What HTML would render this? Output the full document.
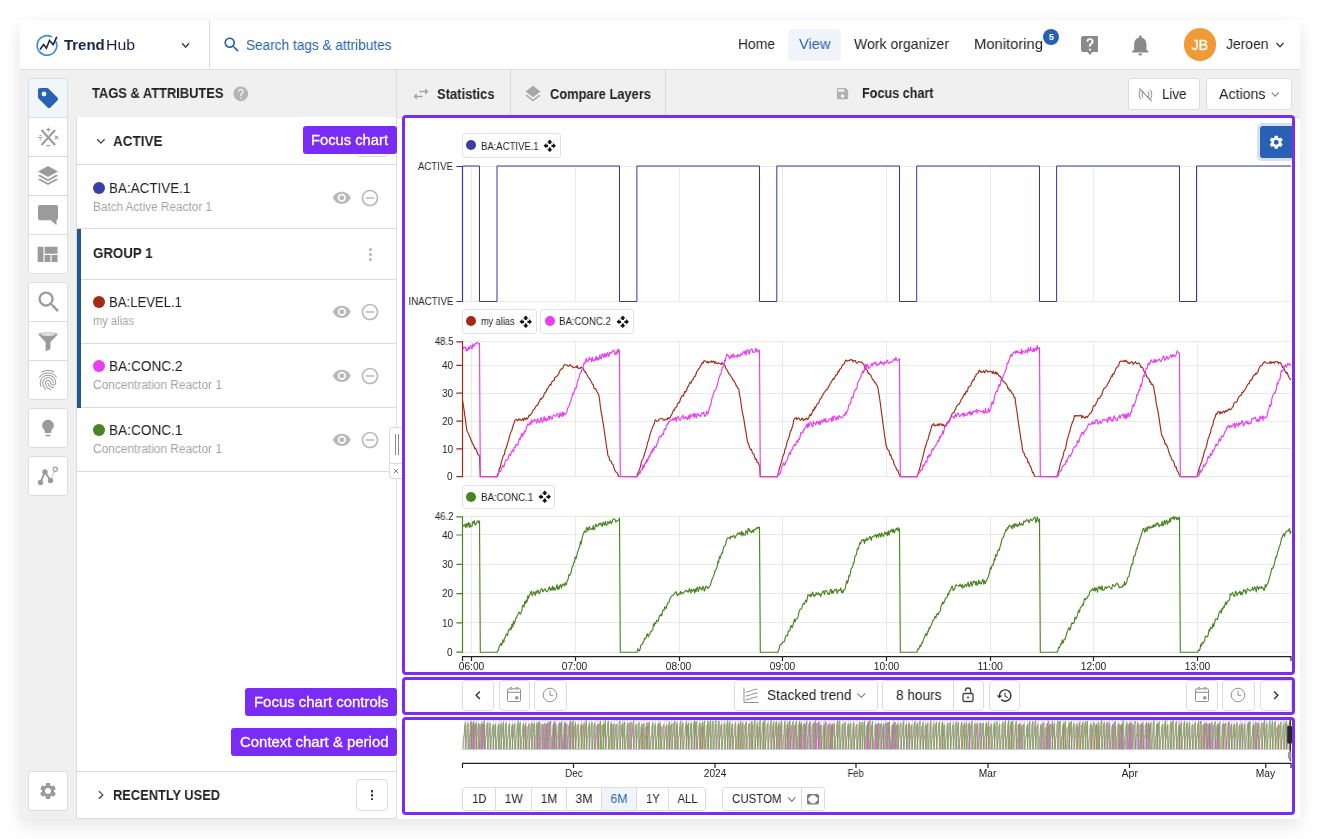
<!DOCTYPE html><html><head><meta charset="utf-8"><title>TrendHub</title><style>
html,body{margin:0;padding:0;}
body{width:1320px;height:839px;background:#fff;position:relative;overflow:hidden;
font-family:"Liberation Sans",sans-serif;color:#222;}
div,span.t,svg.i{position:absolute;box-sizing:border-box;}
span.t{white-space:nowrap;will-change:transform;}
.app{left:20px;top:20px;width:1280px;height:799px;background:#f0f0f0;
box-shadow:0 10px 18px rgba(0,0,0,0.07),0 0 16px rgba(0,0,0,0.04);}
.btn{background:#fff;border:1px solid #dcdcdc;border-radius:3px;}
.pl{background:#7a2bf5;border-radius:3px;}
.pb{border:3px solid #7a2bf5;border-radius:4px;}
.chip{background:#fff;border:1px solid #e2e2e2;border-radius:3px;}
</style></head><body>
<div class="app"></div>
<div style="left:20px;top:20px;width:1280px;height:50px;background:#fff;border-bottom:1px solid #dcdcdc;"></div>
<div style="left:209px;top:20px;width:1px;height:49px;background:#dcdcdc;"></div>
<svg class="i" style="left:33.800px;top:32.400px" width="26" height="26" viewBox="0 0 26 26" fill="none"><path d="M22 9.600A9.800 9.800 0 1 1 17.400 4.700" stroke="#3a8fd6" stroke-width="1.700" stroke-linecap="round"/><path d="M6 17.500l3.600-5 2.800 3.700 3.100-7.700 3.700 4 3.600-7.700" stroke="#1a2250" stroke-width="1.600" stroke-linejoin="miter" stroke-linecap="butt"/></svg>
<span class="t" style="left:64.30px;top:37px;font-size:14px;line-height:16px;color:#1a2250;font-weight:700;transform:scaleX(1.0677);transform-origin:left center;">Trend</span>
<span class="t" style="left:106.40px;top:37px;font-size:14px;line-height:16px;color:#1a2250;transform:scaleX(1.1330);transform-origin:left center;">Hub</span>
<svg class="i" style="left:0;top:0" width="1320" height="839" viewBox="0 0 1320 839" fill="none"><path d="M182.10 43.30L185.60 47.10L189.10 43.30" stroke="#444" stroke-width="1.5"/></svg>
<svg class="i" style="left:222px;top:35.2px" width="19.5" height="19.5" viewBox="0 0 24 24" fill="#2860b4" ><path d="M15.5 14h-.79l-.28-.27C15.41 12.59 16 11.11 16 9.5 16 5.91 13.09 3 9.5 3S3 5.91 3 9.5 5.91 16 9.5 16c1.61 0 3.09-.59 4.23-1.57l.27.28v.79l5 4.99L20.49 19l-4.99-5zm-6 0C7.01 14 5 11.99 5 9.5S7.01 5 9.5 5 14 7.01 14 9.5 11.99 14 9.5 14z"/></svg>
<span class="t" style="left:246.00px;top:37px;font-size:14px;line-height:16px;color:#2860b4;transform:scaleX(0.9738);transform-origin:left center;">Search tags &amp; attributes</span>
<span class="t" style="left:738.00px;top:35px;font-size:15px;line-height:17px;color:#222;transform:scaleX(0.9247);transform-origin:left center;">Home</span>
<div style="left:788px;top:28.5px;width:53px;height:32.5px;background:#f1f5fb;border-radius:4px;"></div>
<span class="t" style="left:798.50px;top:35px;font-size:15px;line-height:17px;color:#2860b4;transform:scaleX(0.9770);transform-origin:left center;">View</span>
<span class="t" style="left:854.00px;top:35px;font-size:15px;line-height:17px;color:#222;transform:scaleX(0.9366);transform-origin:left center;">Work organizer</span>
<span class="t" style="left:974.00px;top:35px;font-size:15px;line-height:17px;color:#222;transform:scaleX(0.9852);transform-origin:left center;">Monitoring</span>
<div style="left:1043px;top:28.5px;width:16px;height:16px;background:#2860b4;border-radius:50%;"></div>
<span class="t" style="left:1048.50px;top:32px;font-size:9px;line-height:10px;color:#fff;font-weight:700;">5</span>
<svg class="i" style="left:1080.500px;top:35.500px" width="17.800" height="19.600" viewBox="0 0 20 22"><path fill="#8a8a8a" d="M2.500 0h15A2.500 2.500 0 0 1 20 2.500v13A2.500 2.500 0 0 1 17.500 18H12.800L10 21.300 7.200 18H2.500A2.500 2.500 0 0 1 0 15.500v-13A2.500 2.500 0 0 1 2.500 0z"/><path fill="#fff" d="M8.900 14.200h2.300v2.200H8.900zM10.100 2.600c-2.300 0-3.900 1.300-4.100 3.500l2.200.3c.1-1.100.8-1.800 1.900-1.800 1 0 1.700.6 1.700 1.500 0 .8-.4 1.300-1.300 2-1.200.9-1.700 1.700-1.700 3.200v.6h2.300v-.4c0-.9.3-1.400 1.300-2.100 1.200-.9 1.800-1.900 1.800-3.300 0-2.100-1.700-3.500-4.100-3.500z"/></svg>
<svg class="i" style="left:1128.4px;top:33.4px" width="24.6" height="24.6" viewBox="0 0 24 24" fill="#8a8a8a" ><path d="M12 22c1.1 0 2-.9 2-2h-4c0 1.1.89 2 2 2zm6-6v-5c0-3.07-1.64-5.64-4.5-6.32V4c0-.83-.67-1.5-1.5-1.5s-1.5.67-1.5 1.5v.68C7.63 5.36 6 7.92 6 11v5l-2 2v1h16v-1l-2-2z"/></svg>
<div style="left:1183.7px;top:28px;width:32.6px;height:32.6px;background:#f09a37;border-radius:50%;"></div>
<span class="t" style="left:1191.25px;top:36px;font-size:15px;line-height:17px;color:#fff;transform:scaleX(0.9426);transform-origin:center center;-webkit-text-stroke:0.3px #fff;">JB</span>
<span class="t" style="left:1226.00px;top:35px;font-size:15px;line-height:17px;color:#222;transform:scaleX(0.9266);transform-origin:left center;">Jeroen</span>
<svg class="i" style="left:0;top:0" width="1320" height="839" viewBox="0 0 1320 839" fill="none"><path d="M1276.50 42.90L1280.00 46.70L1283.50 42.90" stroke="#444" stroke-width="1.5"/></svg>
<div style="left:28px;top:78px;width:40px;height:40px;background:#f1f6fb;border:1px solid #dcdcdc;border-radius:3px 3px 0 0;"></div>
<div style="left:28px;top:117px;width:40px;height:40px;background:#fff;border:1px solid #dcdcdc;border-radius:0 0 0 0;"></div>
<div style="left:28px;top:156px;width:40px;height:40px;background:#fff;border:1px solid #dcdcdc;border-radius:0 0 0 0;"></div>
<div style="left:28px;top:195px;width:40px;height:40px;background:#fff;border:1px solid #dcdcdc;border-radius:0 0 0 0;"></div>
<div style="left:28px;top:234px;width:40px;height:40px;background:#fff;border:1px solid #dcdcdc;border-radius:0 0 3px 3px;"></div>
<svg class="i" style="left:36px;top:86px" width="24" height="24" viewBox="0 0 24 24" fill="#2860b4" fill-rule="evenodd"><path d="M21.41 11.58l-9-9C12.05 2.22 11.55 2 11 2H4c-1.1 0-2 .9-2 2v7c0 .55.22 1.05.59 1.42l9 9c.36.36.86.58 1.41.58s1.050-.22 1.41-.59l7-7c.37-.36.59-.86.59-1.41s-.23-1.06-.59-1.42zM8 10.400a2.400 2.400 0 1 1 0-4.800 2.400 2.400 0 0 1 0 4.800z"/></svg>
<svg class="i" style="left:36px;top:125px" width="24" height="24" viewBox="0 0 24 24" fill="none" stroke="#9b9b9b" stroke-linecap="round"><path d="M6 5.500l12.600 14M18.600 5.500L6 19.500" stroke-width="2"/><path d="M12.300 3v3.200M10.700 4.600h3.200M10.700 20.600h3.200M2.600 12.500h3.200M19.400 11.200l2.400 2.600M21.800 11.200l-2.400 2.600" stroke-width="1.200"/><circle cx="4.200" cy="10.600" r=".4" stroke-width=".9"/><circle cx="4.200" cy="14.400" r=".4" stroke-width=".9"/></svg>
<svg class="i" style="left:36px;top:163.2px" width="24" height="24" viewBox="0 0 24 24" fill="#9b9b9b" ><path d="M12 3L22 8.500 12 14 2 8.500zM3.800 11.800L2 12.800 12 18.300 22 12.800 20.200 11.800 12 16.300zM3.800 15.600L2 16.600 12 22.100 22 16.600 20.200 15.600 12 20.100z"/></svg>
<svg class="i" style="left:36px;top:202px" width="24" height="24" viewBox="0 0 24 24" fill="#9b9b9b" ><path d="M4 3h16a2 2 0 0 1 2 2v11.300a2 2 0 0 1-2 2h.500v5l-5.700-5H4a2 2 0 0 1-2-2V5a2 2 0 0 1 2-2z"/></svg>
<svg class="i" style="left:33.3px;top:241px" width="28" height="28" viewBox="0 0 24 24" fill="#9b9b9b" ><path d="M10 18h5v-6h-5v6zm-6 0h5V5H4v13zm12 0h5v-6h-5v6zM10 5v6h11V5H10z"/></svg>
<div style="left:28px;top:282px;width:40px;height:40px;background:#fff;border:1px solid #dcdcdc;border-radius:3px 3px 0 0;"></div>
<div style="left:28px;top:321px;width:40px;height:40px;background:#fff;border:1px solid #dcdcdc;border-radius:0 0 0 0;"></div>
<div style="left:28px;top:360px;width:40px;height:40px;background:#fff;border:1px solid #dcdcdc;border-radius:0 0 3px 3px;"></div>
<svg class="i" style="left:35px;top:288px" width="28" height="28" viewBox="0 0 24 24" fill="#9b9b9b" ><path d="M15.5 14h-.79l-.28-.27C15.41 12.59 16 11.11 16 9.5 16 5.91 13.09 3 9.5 3S3 5.91 3 9.5 5.91 16 9.5 16c1.61 0 3.09-.59 4.23-1.57l.27.28v.79l5 4.99L20.49 19l-4.99-5zm-6 0C7.01 14 5 11.99 5 9.5S7.01 5 9.5 5 14 7.01 14 9.5 11.99 14 9.5 14z"/></svg>
<svg class="i" style="left:36px;top:329px" width="24" height="24" viewBox="0 0 22 22" fill="#9b9b9b"><path d="M2.2 4.600C2.200 2.600 19.800 2.600 19.800 4.600 19.800 5.800 13.200 11.600 13.200 12.600V18.600L8.800 20.400V12.600C8.800 11.600 2.200 5.800 2.200 4.600Z"/><ellipse cx="11" cy="4.900" rx="6.800" ry="1.500" fill="#fff" fill-opacity=".7"/></svg>
<svg class="i" style="left:36px;top:367.5px" width="24" height="24" viewBox="0 0 24 24" fill="#9b9b9b" ><path d="M17.81 4.47c-.08 0-.16-.02-.23-.06C15.66 3.42 14 3 12.01 3c-1.98 0-3.86.47-5.57 1.41-.24.13-.54.04-.68-.2-.13-.24-.04-.55.2-.68C7.82 2.52 9.86 2 12.01 2c2.13 0 3.99.47 6.03 1.52.25.13.34.43.21.67-.09.18-.26.28-.44.28zM3.5 9.72c-.1 0-.2-.03-.29-.09-.23-.16-.28-.47-.12-.7.99-1.4 2.25-2.5 3.75-3.27C9.98 4.04 14 4.03 17.15 5.65c1.5.77 2.76 1.86 3.75 3.25.16.22.11.54-.12.7-.23.16-.54.11-.7-.12-.9-1.26-2.04-2.25-3.39-2.94-2.87-1.47-6.54-1.47-9.4.01-1.36.7-2.5 1.7-3.4 2.96-.08.14-.23.21-.39.21zm6.25 12.07c-.13 0-.26-.05-.35-.15-.87-.87-1.34-1.43-2.01-2.64-.69-1.23-1.05-2.73-1.05-4.34 0-2.97 2.54-5.39 5.66-5.39s5.66 2.42 5.66 5.39c0 .28-.22.5-.5.5s-.5-.22-.5-.5c0-2.42-2.09-4.39-4.66-4.39-2.57 0-4.66 1.97-4.66 4.39 0 1.44.32 2.77.93 3.85.64 1.15 1.08 1.64 1.85 2.42.19.2.19.51 0 .71-.11.1-.24.15-.37.15zm7.17-1.85c-1.19 0-2.24-.3-3.1-.89-1.49-1.01-2.38-2.65-2.38-4.39 0-.28.22-.5.5-.5s.5.22.5.5c0 1.41.72 2.74 1.94 3.56.71.48 1.54.71 2.54.71.24 0 .64-.03 1.04-.1.27-.05.53.13.58.41.05.27-.13.53-.41.58-.57.11-1.07.12-1.21.12zM14.91 22c-.04 0-.09-.01-.13-.02-1.59-.44-2.63-1.03-3.72-2.1-1.4-1.39-2.17-3.24-2.17-5.22 0-1.62 1.38-2.94 3.08-2.94 1.7 0 3.08 1.32 3.08 2.94 0 1.07.93 1.94 2.08 1.94s2.08-.87 2.08-1.94c0-3.77-3.25-6.83-7.25-6.83-2.84 0-5.44 1.58-6.61 4.03-.39.81-.59 1.76-.59 2.8 0 .78.07 2.01.67 3.61.1.26-.03.55-.29.64-.26.1-.55-.04-.64-.29-.49-1.31-.73-2.61-.73-3.96 0-1.2.23-2.29.68-3.24 1.33-2.79 4.28-4.6 7.51-4.6 4.55 0 8.25 3.51 8.25 7.83 0 1.62-1.38 2.94-3.08 2.94s-3.08-1.32-3.08-2.94c0-1.07-.93-1.94-2.08-1.94s-2.08.87-2.08 1.94c0 1.71.66 3.31 1.87 4.51.95.94 1.86 1.46 3.27 1.85.27.07.42.35.35.61-.05.23-.26.38-.47.38z"/></svg>
<div style="left:28px;top:408px;width:40px;height:40px;background:#fff;border:1px solid #dcdcdc;border-radius:3px 3px 3px 3px;"></div>
<svg class="i" style="left:38px;top:418px" width="20" height="20" viewBox="0 0 24 24" fill="#9b9b9b" ><path d="M9 21c0 .55.45 1 1 1h4c.55 0 1-.45 1-1v-1H9v1zm3-19C8.14 2 5 5.14 5 9c0 2.38 1.19 4.47 3 5.74V17c0 .55.45 1 1 1h6c.55 0 1-.45 1-1v-2.26c1.81-1.27 3-3.36 3-5.74 0-3.86-3.14-7-7-7z"/></svg>
<div style="left:28px;top:456px;width:40px;height:40px;background:#fff;border:1px solid #dcdcdc;border-radius:3px 3px 3px 3px;"></div>
<svg class="i" style="left:36px;top:464px" width="24" height="24" viewBox="0 0 24 24" fill="#9b9b9b"><path d="M4.500 18.500L9 8l5.500 8.500" stroke="#9b9b9b" stroke-width="1.800" fill="none"/><circle cx="4.500" cy="18.500" r="2.700"/><circle cx="9" cy="8" r="2.700"/><circle cx="14.500" cy="16.500" r="2.700"/><circle cx="19.300" cy="5.200" r="2.100" fill="none" stroke="#9b9b9b" stroke-width="1.200"/><path d="M15.600 13.800l2.600-6.400" stroke="#9b9b9b" stroke-width="1" stroke-dasharray="1.300 1.300" fill="none"/></svg>
<div style="left:28px;top:771px;width:40px;height:40px;background:#fff;border:1px solid #dcdcdc;border-radius:3px 3px 3px 3px;"></div>
<svg class="i" style="left:38px;top:781px" width="20" height="20" viewBox="0 0 24 24" fill="#9b9b9b" ><path d="M19.14 12.94c.04-.3.06-.61.06-.94 0-.32-.02-.64-.07-.94l2.03-1.58c.18-.14.23-.41.12-.61l-1.92-3.32c-.12-.22-.37-.29-.59-.22l-2.39.96c-.5-.38-1.03-.7-1.62-.94l-.36-2.54c-.04-.24-.24-.41-.48-.41h-3.84c-.24 0-.43.17-.47.41l-.36 2.54c-.59.24-1.13.57-1.62.94l-2.39-.96c-.22-.08-.47 0-.59.22L2.74 8.87c-.12.21-.08.47.12.61l2.03 1.58c-.05.3-.09.63-.09.94s.02.64.07.94l-2.03 1.58c-.18.14-.23.41-.12.61l1.92 3.32c.12.22.37.29.59.22l2.39-.96c.5.38 1.03.7 1.62.94l.36 2.54c.05.24.24.41.48.41h3.84c.24 0 .44-.17.47-.41l.36-2.54c.59-.24 1.13-.56 1.62-.94l2.39.96c.22.08.47 0 .59-.22l1.92-3.32c.12-.22.07-.47-.12-.61l-2.01-1.58zM12 15.6c-1.98 0-3.6-1.62-3.6-3.6s1.62-3.6 3.6-3.6 3.6 1.62 3.6 3.6-1.62 3.6-3.6 3.6z"/></svg>
<span class="t" style="left:92.00px;top:84px;font-size:15px;line-height:17px;color:#222;font-weight:700;transform:scaleX(0.8592);transform-origin:left center;">TAGS &amp; ATTRIBUTES</span>
<svg class="i" style="left:232.3px;top:84.9px" width="17.6" height="17.6" viewBox="0 0 24 24" fill="#b4b4b4" ><path d="M12 2C6.48 2 2 6.48 2 12s4.48 10 10 10 10-4.48 10-10S17.52 2 12 2zm1 17h-2v-2h2v2zm2.07-7.75l-.9.92C13.45 12.9 13 13.5 13 15h-2v-.5c0-1.1.45-2.1 1.17-2.83l1.24-1.26c.37-.36.59-.86.59-1.41 0-1.1-.9-2-2-2s-2 .9-2 2H8c0-2.21 1.79-4 4-4s4 1.79 4 4c0 .88-.36 1.68-.93 2.25z"/></svg>
<div style="left:76px;top:117px;width:321px;height:702px;background:#fff;border:1px solid #dcdcdc;border-top:none;"></div>
<div style="left:77px;top:163.5px;width:319px;height:1px;background:#dcdcdc;"></div>
<div style="left:77px;top:228px;width:319px;height:1px;background:#dcdcdc;"></div>
<div style="left:77px;top:279px;width:319px;height:1px;background:#dcdcdc;"></div>
<div style="left:77px;top:343px;width:319px;height:1px;background:#dcdcdc;"></div>
<div style="left:77px;top:407px;width:319px;height:1px;background:#dcdcdc;"></div>
<div style="left:77px;top:471px;width:319px;height:1px;background:#dcdcdc;"></div>
<div style="left:77px;top:228.5px;width:4px;height:179px;background:#23588c;"></div>
<svg class="i" style="left:0;top:0" width="1320" height="839" viewBox="0 0 1320 839" fill="none"><path d="M97.20 139.25L100.90 143.15L104.60 139.25" stroke="#444" stroke-width="1.3"/></svg>
<span class="t" style="left:113.00px;top:132px;font-size:15px;line-height:17px;color:#222;font-weight:700;transform:scaleX(0.8999);transform-origin:left center;">ACTIVE</span>
<div style="left:356px;top:128px;width:32px;height:29px;background:#fff;border:1px solid #dcdcdc;border-radius:3px;"></div>
<div style="left:93px;top:182px;width:12px;height:12px;background:#3a3fa8;border-radius:50%;"></div>
<span class="t" style="left:109.00px;top:179px;font-size:15px;line-height:17px;color:#222;transform:scaleX(0.8969);transform-origin:left center;">BA:ACTIVE.1</span>
<span class="t" style="left:93.00px;top:200px;font-size:12px;line-height:14px;color:#a3a3a3;transform:scaleX(0.9803);transform-origin:left center;">Batch Active Reactor 1</span>
<svg class="i" style="left:332.1px;top:188.3px" width="19.6" height="19.6" viewBox="0 0 24 24" fill="#b9b9b9" ><path d="M12 4.5C7 4.5 2.73 7.61 1 12c1.73 4.39 6 7.5 11 7.5s9.27-3.11 11-7.5c-1.73-4.39-6-7.5-11-7.5zM12 17c-2.76 0-5-2.24-5-5s2.24-5 5-5 5 2.24 5 5-2.24 5-5 5zm0-8c-1.66 0-3 1.34-3 3s1.34 3 3 3 3-1.34 3-3-1.34-3-3-3z"/></svg>
<svg class="i" style="left:360.1px;top:188px" width="20" height="20" viewBox="0 0 24 24" fill="#b9b9b9" ><path d="M7 11v2h10v-2H7zm5-9C6.48 2 2 6.48 2 12s4.48 10 10 10 10-4.48 10-10S17.52 2 12 2zm0 18c-4.41 0-8-3.59-8-8s3.59-8 8-8 8 3.59 8 8-3.59 8-8 8z"/></svg>
<span class="t" style="left:93.00px;top:244px;font-size:15px;line-height:17px;color:#222;font-weight:700;transform:scaleX(0.8848);transform-origin:left center;">GROUP 1</span>
<svg class="i" style="left:368.500px;top:247.600px" width="3" height="13" viewBox="0 0 3 13" fill="#b4b4b4"><circle cx="1.500" cy="1.500" r="1.500"/><circle cx="1.500" cy="6.500" r="1.500"/><circle cx="1.500" cy="11.500" r="1.500"/></svg>
<div style="left:93px;top:296px;width:12px;height:12px;background:#a42a17;border-radius:50%;"></div>
<span class="t" style="left:109.00px;top:293px;font-size:15px;line-height:17px;color:#222;transform:scaleX(0.8754);transform-origin:left center;">BA:LEVEL.1</span>
<span class="t" style="left:93.00px;top:314px;font-size:12px;line-height:14px;color:#a3a3a3;transform:scaleX(0.9316);transform-origin:left center;">my alias</span>
<svg class="i" style="left:332.1px;top:302.3px" width="19.6" height="19.6" viewBox="0 0 24 24" fill="#b9b9b9" ><path d="M12 4.5C7 4.5 2.73 7.61 1 12c1.73 4.39 6 7.5 11 7.5s9.27-3.11 11-7.5c-1.73-4.39-6-7.5-11-7.5zM12 17c-2.76 0-5-2.24-5-5s2.24-5 5-5 5 2.24 5 5-2.24 5-5 5zm0-8c-1.66 0-3 1.34-3 3s1.34 3 3 3 3-1.34 3-3-1.34-3-3-3z"/></svg>
<svg class="i" style="left:360.1px;top:302px" width="20" height="20" viewBox="0 0 24 24" fill="#b9b9b9" ><path d="M7 11v2h10v-2H7zm5-9C6.48 2 2 6.48 2 12s4.48 10 10 10 10-4.48 10-10S17.52 2 12 2zm0 18c-4.41 0-8-3.59-8-8s3.59-8 8-8 8 3.59 8 8-3.59 8-8 8z"/></svg>
<div style="left:93px;top:360px;width:12px;height:12px;background:#ea3df2;border-radius:50%;"></div>
<span class="t" style="left:109.00px;top:357px;font-size:15px;line-height:17px;color:#222;transform:scaleX(0.9091);transform-origin:left center;">BA:CONC.2</span>
<span class="t" style="left:93.00px;top:378px;font-size:12px;line-height:14px;color:#a3a3a3;transform:scaleX(0.9917);transform-origin:left center;">Concentration Reactor 1</span>
<svg class="i" style="left:332.1px;top:366.3px" width="19.6" height="19.6" viewBox="0 0 24 24" fill="#b9b9b9" ><path d="M12 4.5C7 4.5 2.73 7.61 1 12c1.73 4.39 6 7.5 11 7.5s9.27-3.11 11-7.5c-1.73-4.39-6-7.5-11-7.5zM12 17c-2.76 0-5-2.24-5-5s2.24-5 5-5 5 2.24 5 5-2.24 5-5 5zm0-8c-1.66 0-3 1.34-3 3s1.34 3 3 3 3-1.34 3-3-1.34-3-3-3z"/></svg>
<svg class="i" style="left:360.1px;top:366px" width="20" height="20" viewBox="0 0 24 24" fill="#b9b9b9" ><path d="M7 11v2h10v-2H7zm5-9C6.48 2 2 6.48 2 12s4.48 10 10 10 10-4.48 10-10S17.52 2 12 2zm0 18c-4.41 0-8-3.59-8-8s3.59-8 8-8 8 3.59 8 8-3.59 8-8 8z"/></svg>
<div style="left:93px;top:424px;width:12px;height:12px;background:#4a8522;border-radius:50%;"></div>
<span class="t" style="left:109.00px;top:421px;font-size:15px;line-height:17px;color:#222;transform:scaleX(0.9091);transform-origin:left center;">BA:CONC.1</span>
<span class="t" style="left:93.00px;top:442px;font-size:12px;line-height:14px;color:#a3a3a3;transform:scaleX(0.9917);transform-origin:left center;">Concentration Reactor 1</span>
<svg class="i" style="left:332.1px;top:430.3px" width="19.6" height="19.6" viewBox="0 0 24 24" fill="#b9b9b9" ><path d="M12 4.5C7 4.5 2.73 7.61 1 12c1.73 4.39 6 7.5 11 7.5s9.27-3.11 11-7.5c-1.73-4.39-6-7.5-11-7.5zM12 17c-2.76 0-5-2.24-5-5s2.24-5 5-5 5 2.24 5 5-2.24 5-5 5zm0-8c-1.66 0-3 1.34-3 3s1.34 3 3 3 3-1.34 3-3-1.34-3-3-3z"/></svg>
<svg class="i" style="left:360.1px;top:430px" width="20" height="20" viewBox="0 0 24 24" fill="#b9b9b9" ><path d="M7 11v2h10v-2H7zm5-9C6.48 2 2 6.48 2 12s4.48 10 10 10 10-4.48 10-10S17.52 2 12 2zm0 18c-4.41 0-8-3.59-8-8s3.59-8 8-8 8 3.59 8 8-3.59 8-8 8z"/></svg>
<div style="left:77px;top:771px;width:319px;height:1px;background:#dcdcdc;"></div>
<svg class="i" style="left:0;top:0" width="1320" height="839" viewBox="0 0 1320 839" fill="none"><path d="M98.85 791.10L102.75 794.90L98.85 798.70" stroke="#444" stroke-width="1.3"/></svg>
<span class="t" style="left:113.00px;top:786px;font-size:15px;line-height:17px;color:#222;font-weight:700;transform:scaleX(0.8557);transform-origin:left center;">RECENTLY USED</span>
<div style="left:356px;top:779px;width:32px;height:32px;background:#fff;border:1px solid #dcdcdc;border-radius:4px;"></div>
<svg class="i" style="left:370.600px;top:789.700px" width="2.400" height="10.600" viewBox="0 0 2.400 10.600" fill="#333"><rect width="2.400" height="2.400" rx=".5"/><rect y="4.100" width="2.400" height="2.400" rx=".5"/><rect y="8.200" width="2.400" height="2.400" rx=".5"/></svg>
<div style="left:396px;top:70px;width:1px;height:749px;background:#dcdcdc;"></div>
<div style="left:397px;top:117px;width:903px;height:702px;background:#fff;"></div>
<div style="left:397px;top:116.5px;width:903px;height:1px;background:#dcdcdc;"></div>
<div style="left:509.5px;top:69px;width:1px;height:48px;background:#dcdcdc;"></div>
<div style="left:665px;top:69px;width:1px;height:48px;background:#dcdcdc;"></div>
<svg class="i" style="left:411px;top:84px" width="20" height="20" viewBox="0 0 24 24" fill="#a2a2a2" ><path d="M6.99 11L3 15l3.99 4v-3H14v-2H6.99v-3zM21 9l-3.99-4v3H10v2h7.01v3L21 9z"/></svg>
<span class="t" style="left:437.00px;top:86px;font-size:14.5px;line-height:16px;color:#222;font-weight:700;transform:scaleX(0.8918);transform-origin:left center;">Statistics</span>
<svg class="i" style="left:523.3px;top:83.6px" width="20" height="20" viewBox="0 0 24 24" fill="#a8a8a8" ><path d="M11.99 18.54l-7.37-5.73L3 14.07l9 7 9-7-1.63-1.27-7.38 5.74zM12 16l7.36-5.73L21 9l-9-7-9 7 1.63 1.27L12 16z"/></svg>
<span class="t" style="left:549.50px;top:86px;font-size:14.5px;line-height:16px;color:#222;font-weight:700;transform:scaleX(0.8888);transform-origin:left center;">Compare Layers</span>
<svg class="i" style="left:834.5px;top:86px" width="15" height="15" viewBox="0 0 24 24" fill="#b0b0b0" ><path d="M17 3H5c-1.11 0-2 .9-2 2v14c0 1.1.89 2 2 2h14c1.1 0 2-.9 2-2V7l-4-4zm-5 16c-1.66 0-3-1.34-3-3s1.34-3 3-3 3 1.34 3 3-1.34 3-3 3zm3-10H5V5h10v4z"/></svg>
<span class="t" style="left:862.00px;top:85px;font-size:14.5px;line-height:16px;color:#222;font-weight:700;transform:scaleX(0.8700);transform-origin:left center;">Focus chart</span>
<div style="left:1128px;top:78px;width:72px;height:31.6px;background:#fff;border:1px solid #dcdcdc;border-radius:3px;"></div>
<svg class="i" style="left:1136.500px;top:85.500px" width="17" height="17" viewBox="0 0 17 17" fill="none" stroke="#8a8a8a" stroke-width="1.100" stroke-linecap="round"><path d="M2.600 2.600l11.800 12.300"/><path d="M5.800 5.700c-1.100 1.600-1.100 4 0 5.600M3.700 3.900c-2 2.700-2 6.500 0 9.200M11.200 5.700c1.100 1.600 1.100 4 0 5.600M13.300 3.900c2 2.700 2 6.500 0 9.200" stroke-width="1"/></svg>
<span class="t" style="left:1162.00px;top:86px;font-size:14.5px;line-height:16px;color:#222;transform:scaleX(0.9210);transform-origin:left center;">Live</span>
<div style="left:1206px;top:78px;width:86px;height:31.6px;background:#fff;border:1px solid #dcdcdc;border-radius:3px;"></div>
<span class="t" style="left:1218.50px;top:86px;font-size:14.5px;line-height:16px;color:#222;transform:scaleX(0.9779);transform-origin:left center;">Actions</span>
<svg class="i" style="left:0;top:0" width="1320" height="839" viewBox="0 0 1320 839" fill="none"><path d="M1271.80 92.50L1275.20 96.10L1278.60 92.50" stroke="#888" stroke-width="1.1"/></svg>
<svg class="i" style="left:0;top:0" width="1320" height="839" viewBox="0 0 1320 839" fill="none">
<path d="M471.5 166.0V301.5M575.5 166.0V301.5M679.5 166.0V301.5M782.5 166.0V301.5M886.5 166.0V301.5M990.5 166.0V301.5M1093.5 166.0V301.5M1197.5 166.0V301.5M471.5 341.7V476.7M575.5 341.7V476.7M679.5 341.7V476.7M782.5 341.7V476.7M886.5 341.7V476.7M990.5 341.7V476.7M1093.5 341.7V476.7M1197.5 341.7V476.7M471.5 516.8V652.2M575.5 516.8V652.2M679.5 516.8V652.2M782.5 516.8V652.2M886.5 516.8V652.2M990.5 516.8V652.2M1093.5 516.8V652.2M1197.5 516.8V652.2M462.5 166.5H1291.0M462.5 301.5H1291.0M462.5 341.5H1291.0M462.5 365.5H1291.0M462.5 393.5H1291.0M462.5 421.5H1291.0M462.5 448.5H1291.0M462.5 476.5H1291.0M462.5 516.5H1291.0M462.5 534.5H1291.0M462.5 564.5H1291.0M462.5 593.5H1291.0M462.5 622.5H1291.0M462.5 652.5H1291.0" stroke="#e9e9e9" stroke-width="1"/>
<path d="M462.5 166.0H479.5V301.5H497.0V166.0H619.5V301.5H636.9V166.0H759.5V301.5H776.8V166.0H899.5V301.5H916.7V166.0H1039.5V301.5H1056.6V166.0H1179.5V301.5H1196.5V166.0H1291.0" stroke="#3438a3" stroke-width="1"/>
<path d="M462.5 400.0 L463.2 404.7 L464.0 409.4 L464.8 415.9 L465.5 419.5 L466.2 425.9 L467.0 431.0 L467.8 432.5 L468.6 433.5 L469.4 436.6 L470.1 437.2 L470.9 440.1 L471.7 441.0 L472.5 444.0 L473.3 444.2 L474.1 446.5 L474.8 448.9 L475.6 448.3 L476.4 449.9 L477.2 452.3 L477.9 454.5 L478.7 454.9 L479.5 456.0 L480.3 476.7 L497.0 476.7 L497.8 473.8 L498.6 472.8 L499.5 467.7 L500.3 467.4 L501.1 463.2 L501.9 460.3 L502.7 457.6 L503.5 455.6 L504.4 454.4 L505.2 450.1 L506.0 448.6 L506.8 446.1 L507.6 442.9 L508.5 440.7 L509.3 436.9 L510.1 434.3 L510.9 432.1 L511.7 430.8 L512.5 427.5 L513.4 424.7 L514.2 422.8 L515.0 420.0 L515.8 419.8 L516.6 419.2 L517.3 420.6 L518.1 420.3 L518.9 418.8 L519.7 419.8 L520.5 419.5 L521.2 420.5 L522.0 420.0 L522.8 418.6 L523.6 420.6 L524.4 417.9 L525.2 418.7 L525.9 419.7 L526.7 417.8 L527.5 418.8 L528.3 417.5 L529.1 415.1 L529.9 415.7 L530.7 414.7 L531.5 413.0 L532.3 412.7 L533.1 410.0 L533.9 409.8 L534.8 408.4 L535.6 407.1 L536.4 405.6 L537.2 405.5 L538.0 404.6 L538.8 402.1 L539.6 401.4 L540.4 398.6 L541.2 399.2 L542.0 397.8 L542.8 397.6 L543.6 396.0 L544.4 393.3 L545.2 392.4 L546.0 392.0 L546.8 389.1 L547.6 389.1 L548.4 387.1 L549.2 385.8 L550.1 384.4 L550.9 385.2 L551.7 382.2 L552.5 381.4 L553.3 380.6 L554.1 380.7 L554.9 377.4 L555.7 377.2 L556.5 376.3 L557.3 376.0 L558.1 374.6 L558.9 373.6 L559.7 370.8 L560.5 370.0 L561.3 368.7 L562.1 368.9 L562.9 367.9 L563.8 365.5 L564.5 364.5 L565.3 364.7 L566.1 365.0 L566.9 365.0 L567.7 365.9 L568.5 366.3 L569.3 365.4 L570.1 364.7 L570.9 366.0 L571.7 366.0 L572.5 366.7 L573.3 367.9 L574.1 367.2 L574.9 366.8 L575.7 367.2 L576.4 367.4 L577.2 365.6 L578.0 368.3 L578.8 368.0 L579.6 368.4 L580.4 368.2 L581.2 367.1 L582.0 367.5 L582.8 368.5 L583.6 369.0 L584.4 371.8 L585.2 371.6 L586.0 372.9 L586.8 374.6 L587.6 375.8 L588.4 377.5 L589.2 378.1 L590.0 379.2 L590.8 381.0 L591.6 382.1 L592.4 384.2 L593.2 384.6 L594.0 388.2 L594.8 388.8 L595.6 388.8 L596.4 390.4 L597.2 392.0 L598.0 393.3 L598.8 395.0 L599.5 399.1 L600.3 406.1 L601.1 411.6 L601.8 415.2 L602.6 420.4 L603.4 424.4 L604.1 429.5 L604.9 435.2 L605.7 440.1 L606.5 446.7 L607.2 450.0 L608.0 456.0 L608.8 456.3 L609.7 460.4 L610.5 460.8 L611.3 461.4 L612.1 464.0 L613.0 464.2 L613.8 467.1 L614.6 469.9 L615.4 471.2 L616.3 472.3 L617.1 472.7 L617.9 474.6 L618.8 476.5 L637.0 476.7 L637.8 473.2 L638.6 472.3 L639.5 469.1 L640.3 467.1 L641.1 463.4 L641.9 460.5 L642.7 459.5 L643.5 457.4 L644.4 454.5 L645.2 451.8 L646.0 449.2 L646.8 446.4 L647.6 442.5 L648.5 440.7 L649.3 437.7 L650.1 434.2 L650.9 431.6 L651.7 429.7 L652.5 427.1 L653.4 425.7 L654.2 423.8 L655.0 420.0 L655.8 419.8 L656.6 421.2 L657.4 421.2 L658.2 421.1 L659.0 419.2 L659.9 418.7 L660.7 418.7 L661.5 418.5 L662.3 418.5 L663.1 419.6 L663.9 420.4 L664.7 420.1 L665.5 419.0 L666.3 419.4 L667.1 419.8 L667.9 417.6 L668.8 418.8 L669.5 417.9 L670.3 417.2 L671.1 415.6 L671.9 414.2 L672.7 412.1 L673.5 410.0 L674.3 410.3 L675.1 407.8 L675.9 407.7 L676.7 406.9 L677.5 404.0 L678.3 402.7 L679.1 402.9 L679.9 401.0 L680.7 398.2 L681.5 396.7 L682.3 395.5 L683.1 396.2 L683.9 394.6 L684.7 391.5 L685.5 392.1 L686.2 391.2 L687.0 389.0 L687.8 386.8 L688.6 386.1 L689.4 383.6 L690.2 382.0 L691.0 383.3 L691.8 381.1 L692.6 379.4 L693.4 379.2 L694.2 376.6 L695.0 376.4 L695.8 375.0 L696.6 372.0 L697.4 370.8 L698.2 369.6 L699.0 368.2 L699.8 367.8 L700.6 365.6 L701.4 364.7 L702.2 362.6 L703.0 363.4 L703.8 361.0 L704.5 360.7 L705.3 361.1 L706.1 361.6 L706.9 362.7 L707.7 361.4 L708.5 363.0 L709.3 361.8 L710.1 362.1 L710.9 362.2 L711.6 360.8 L712.4 362.1 L713.2 361.5 L714.0 361.1 L714.8 363.6 L715.6 361.8 L716.4 362.8 L717.2 363.7 L718.0 363.3 L718.8 362.8 L719.5 363.5 L720.3 363.7 L721.1 364.5 L721.9 362.6 L722.7 364.1 L723.5 364.0 L724.3 364.6 L725.1 366.0 L725.9 368.6 L726.7 369.2 L727.5 370.7 L728.3 372.5 L729.1 374.2 L729.9 374.3 L730.7 376.0 L731.5 377.0 L732.3 378.4 L733.1 380.2 L733.9 380.8 L734.7 382.3 L735.5 383.5 L736.3 386.0 L737.1 386.7 L737.9 388.5 L738.8 388.8 L739.5 394.8 L740.3 397.9 L741.1 403.6 L741.9 409.5 L742.7 414.1 L743.5 417.1 L744.3 421.9 L745.1 427.7 L745.9 431.6 L746.7 436.9 L747.5 442.5 L748.3 442.9 L749.1 446.1 L749.9 448.0 L750.7 449.8 L751.5 449.4 L752.3 452.5 L753.1 453.9 L754.0 454.1 L754.8 457.6 L755.6 459.4 L756.4 459.0 L757.2 462.5 L758.0 462.6 L758.8 464.4 L759.6 466.0 L760.3 476.7 L777.0 476.7 L777.8 475.4 L778.6 472.3 L779.4 467.9 L780.2 466.0 L781.0 463.6 L781.8 460.5 L782.6 457.4 L783.4 455.1 L784.2 453.6 L785.0 449.1 L785.8 447.9 L786.5 444.9 L787.3 441.2 L788.1 439.4 L788.9 437.5 L789.7 434.6 L790.5 430.7 L791.3 430.6 L792.1 427.4 L792.9 425.3 L793.7 420.3 L794.5 418.8 L795.3 418.1 L796.1 417.5 L796.9 419.7 L797.8 418.2 L798.6 417.9 L799.4 418.8 L800.2 420.3 L801.0 420.1 L801.8 418.4 L802.6 418.2 L803.4 420.5 L804.2 419.5 L805.1 420.0 L805.9 418.2 L806.7 418.1 L807.5 419.5 L808.3 418.8 L809.1 416.8 L809.9 414.6 L810.7 415.7 L811.5 413.7 L812.3 412.9 L813.1 409.7 L813.9 410.5 L814.7 407.2 L815.5 408.1 L816.3 405.7 L817.1 404.2 L817.9 403.5 L818.7 403.3 L819.5 400.3 L820.3 398.7 L821.1 398.5 L821.9 396.5 L822.7 394.9 L823.5 393.8 L824.3 392.3 L825.1 391.4 L825.9 390.5 L826.8 389.2 L827.6 389.2 L828.4 386.7 L829.2 386.0 L830.0 383.9 L830.8 383.1 L831.6 381.0 L832.4 380.4 L833.2 378.5 L834.0 379.2 L834.8 377.5 L835.6 375.3 L836.4 374.8 L837.2 374.8 L838.0 371.3 L838.8 372.0 L839.6 369.7 L840.4 368.7 L841.2 368.3 L842.0 365.9 L842.8 365.0 L843.6 364.2 L844.4 363.8 L845.2 360.8 L846.0 360.0 L846.8 361.1 L847.6 360.9 L848.4 360.8 L849.1 360.3 L849.9 360.3 L850.7 359.5 L851.5 359.9 L852.3 359.9 L853.1 362.0 L853.9 360.7 L854.6 360.6 L855.4 360.5 L856.2 362.9 L857.0 363.1 L857.8 362.7 L858.6 361.6 L859.4 361.7 L860.1 362.0 L860.9 362.6 L861.7 361.8 L862.5 363.0 L863.3 364.2 L864.1 365.0 L864.9 368.2 L865.8 369.5 L866.6 369.7 L867.4 370.2 L868.2 373.5 L869.0 373.0 L869.8 374.5 L870.7 374.8 L871.5 377.2 L872.3 378.7 L873.1 380.1 L873.9 380.6 L874.7 382.7 L875.6 382.7 L876.4 384.7 L877.2 385.6 L878.0 388.0 L878.8 393.4 L879.6 398.2 L880.4 403.8 L881.2 410.3 L882.0 415.8 L882.8 422.4 L883.6 428.0 L884.4 434.3 L885.2 439.7 L886.0 445.0 L886.8 447.3 L887.6 449.6 L888.4 450.0 L889.2 451.6 L890.0 455.1 L890.8 454.6 L891.6 458.0 L892.4 459.5 L893.1 459.7 L893.9 463.6 L894.7 465.5 L895.5 466.5 L896.3 468.6 L897.1 470.5 L897.9 470.5 L898.7 473.3 L899.5 475.0 L900.3 476.7 L917.0 476.7 L917.8 474.0 L918.6 472.2 L919.4 469.4 L920.2 466.7 L920.9 463.3 L921.7 461.4 L922.5 458.1 L923.3 455.5 L924.1 451.5 L924.9 448.2 L925.7 445.8 L926.5 443.7 L927.3 440.3 L928.1 439.5 L928.8 436.0 L929.6 433.5 L930.4 430.8 L931.2 428.2 L932.0 425.0 L932.8 425.0 L933.6 423.5 L934.3 425.9 L935.1 425.7 L935.9 425.0 L936.7 425.1 L937.4 425.5 L938.2 423.7 L939.0 425.7 L939.8 424.3 L940.6 423.7 L941.3 424.3 L942.1 425.7 L942.9 424.1 L943.7 425.7 L944.4 426.4 L945.2 425.0 L946.0 425.0 L946.8 423.4 L947.6 422.3 L948.4 421.5 L949.2 420.5 L950.0 418.7 L950.8 417.5 L951.6 414.6 L952.4 413.5 L953.2 412.5 L954.0 412.5 L954.8 410.0 L955.6 409.4 L956.4 406.6 L957.2 405.4 L958.0 404.6 L958.8 404.4 L959.6 403.1 L960.4 401.8 L961.2 399.4 L962.0 398.7 L962.8 397.2 L963.6 395.9 L964.4 393.7 L965.2 394.5 L966.0 391.3 L966.8 392.0 L967.6 390.6 L968.4 386.8 L969.2 386.7 L970.0 386.4 L970.8 385.4 L971.6 382.7 L972.4 380.9 L973.2 379.4 L974.0 380.1 L974.8 376.8 L975.6 376.5 L976.4 374.0 L977.2 373.7 L978.0 373.5 L978.8 371.0 L979.6 370.0 L980.4 372.1 L981.2 371.3 L982.0 372.5 L982.8 372.0 L983.6 370.7 L984.5 372.8 L985.3 371.7 L986.1 370.4 L986.9 370.4 L987.7 371.9 L988.5 371.9 L989.3 371.5 L990.2 371.1 L991.0 371.8 L991.8 371.8 L992.6 373.5 L993.4 371.1 L994.2 373.4 L995.1 373.8 L995.9 371.7 L996.7 374.2 L997.5 373.0 L998.3 374.7 L999.1 376.3 L999.9 375.8 L1000.7 377.1 L1001.5 378.3 L1002.3 381.0 L1003.1 381.0 L1003.9 381.5 L1004.7 382.8 L1005.5 383.5 L1006.2 384.0 L1007.0 385.3 L1007.8 388.4 L1008.6 388.0 L1009.4 390.9 L1010.2 390.1 L1011.0 391.3 L1011.8 393.1 L1012.6 393.3 L1013.4 394.9 L1014.2 397.6 L1015.0 397.5 L1015.8 404.4 L1016.7 410.0 L1017.5 415.4 L1018.3 421.9 L1019.2 427.9 L1020.0 432.6 L1020.8 438.9 L1021.7 443.0 L1022.5 450.0 L1023.3 452.3 L1024.1 453.2 L1024.8 455.7 L1025.6 457.0 L1026.4 457.7 L1027.2 458.7 L1028.0 462.7 L1028.8 462.2 L1029.5 464.8 L1030.3 466.1 L1031.1 467.7 L1031.9 470.5 L1032.7 472.8 L1033.4 472.5 L1034.2 475.3 L1035.0 476.5 L1057.0 476.7 L1057.8 473.4 L1058.6 471.3 L1059.4 468.1 L1060.2 464.7 L1061.0 461.9 L1061.8 459.2 L1062.6 458.3 L1063.4 454.4 L1064.2 450.9 L1065.0 450.0 L1065.8 447.4 L1066.5 443.2 L1067.3 439.6 L1068.1 436.9 L1068.9 433.9 L1069.7 431.8 L1070.5 428.3 L1071.3 425.9 L1072.1 423.2 L1072.9 421.3 L1073.7 419.3 L1074.5 415.5 L1075.3 416.4 L1076.1 415.5 L1076.9 415.6 L1077.8 416.1 L1078.6 415.8 L1079.4 415.8 L1080.2 415.1 L1081.0 415.8 L1081.8 418.0 L1082.6 415.6 L1083.4 416.9 L1084.2 417.4 L1085.1 418.2 L1085.9 416.4 L1086.7 416.7 L1087.5 417.5 L1088.3 415.5 L1089.1 414.5 L1089.9 413.3 L1090.7 413.3 L1091.5 411.7 L1092.3 410.4 L1093.1 406.8 L1093.9 405.5 L1094.7 406.0 L1095.5 405.1 L1096.3 402.6 L1097.1 401.6 L1097.9 398.7 L1098.7 398.4 L1099.5 398.5 L1100.3 396.9 L1101.1 395.6 L1101.9 394.6 L1102.7 391.3 L1103.5 389.5 L1104.2 388.3 L1105.0 388.0 L1105.8 387.1 L1106.6 386.4 L1107.4 384.5 L1108.2 382.9 L1109.0 381.9 L1109.8 379.7 L1110.6 378.6 L1111.4 375.9 L1112.2 376.6 L1113.0 373.7 L1113.8 374.2 L1114.6 372.2 L1115.4 369.9 L1116.2 368.1 L1117.0 367.1 L1117.8 366.7 L1118.6 365.6 L1119.4 362.6 L1120.2 361.2 L1121.0 361.0 L1121.8 361.2 L1122.6 361.5 L1123.4 361.0 L1124.2 360.6 L1125.0 361.9 L1125.8 360.2 L1126.6 361.2 L1127.4 361.8 L1128.2 363.5 L1129.0 362.6 L1129.8 363.5 L1130.7 362.4 L1131.5 361.8 L1132.3 361.9 L1133.1 364.2 L1133.9 363.5 L1134.7 362.5 L1135.5 361.7 L1136.3 363.3 L1137.1 363.9 L1137.9 363.3 L1138.7 362.9 L1139.5 363.8 L1140.3 365.5 L1141.1 367.5 L1141.9 367.0 L1142.7 367.8 L1143.5 369.9 L1144.2 371.5 L1145.0 373.5 L1145.8 373.5 L1146.6 376.4 L1147.4 377.6 L1148.2 378.3 L1149.0 378.8 L1149.8 382.2 L1150.6 381.7 L1151.4 384.4 L1152.2 384.1 L1153.0 385.4 L1153.8 387.5 L1154.6 393.1 L1155.4 396.6 L1156.2 403.3 L1157.0 406.9 L1157.9 410.9 L1158.7 415.9 L1159.5 421.2 L1160.3 426.7 L1161.2 432.4 L1162.0 436.0 L1162.8 436.8 L1163.6 439.3 L1164.4 440.6 L1165.2 444.5 L1166.0 444.0 L1166.8 445.6 L1167.6 447.4 L1168.4 450.1 L1169.2 453.2 L1170.0 455.0 L1170.8 456.4 L1171.5 458.9 L1172.3 460.5 L1173.1 460.7 L1173.9 462.1 L1174.7 465.9 L1175.5 467.2 L1176.3 467.1 L1177.1 470.6 L1177.9 471.6 L1178.7 473.4 L1179.5 475.5 L1180.3 476.7 L1197.0 476.7 L1197.8 473.6 L1198.6 470.6 L1199.4 467.5 L1200.2 465.6 L1201.0 463.2 L1201.8 462.2 L1202.5 457.3 L1203.3 457.0 L1204.1 452.3 L1204.9 450.1 L1205.7 448.7 L1206.5 446.1 L1207.3 442.4 L1208.1 438.8 L1208.9 437.3 L1209.7 434.4 L1210.5 433.2 L1211.2 428.7 L1212.0 426.5 L1212.8 425.3 L1213.6 420.4 L1214.4 418.8 L1215.2 417.2 L1216.0 413.8 L1216.8 414.3 L1217.6 412.0 L1218.3 411.7 L1219.1 411.6 L1219.9 414.0 L1220.7 411.8 L1221.4 413.0 L1222.2 413.3 L1223.0 411.4 L1223.8 411.0 L1224.6 412.8 L1225.3 411.6 L1226.1 410.3 L1226.9 411.5 L1227.7 410.1 L1228.4 409.7 L1229.2 408.7 L1230.0 410.0 L1230.8 409.6 L1231.6 408.9 L1232.4 407.0 L1233.2 406.7 L1234.0 403.1 L1234.8 402.5 L1235.6 402.0 L1236.4 402.2 L1237.2 401.0 L1238.0 398.4 L1238.8 396.9 L1239.6 396.2 L1240.4 395.3 L1241.2 395.3 L1242.1 392.2 L1242.9 392.7 L1243.7 391.4 L1244.5 390.5 L1245.3 389.2 L1246.1 387.7 L1246.9 385.8 L1247.7 384.6 L1248.5 383.6 L1249.3 383.6 L1250.1 380.6 L1250.9 379.8 L1251.7 380.1 L1252.5 377.7 L1253.3 376.0 L1254.1 374.8 L1254.9 375.1 L1255.7 373.3 L1256.5 374.0 L1257.3 372.6 L1258.1 371.7 L1258.9 368.7 L1259.7 367.0 L1260.5 365.9 L1261.3 365.9 L1262.1 365.3 L1262.9 363.5 L1263.8 362.5 L1264.6 361.7 L1265.4 362.3 L1266.2 362.9 L1267.0 363.0 L1267.8 363.2 L1268.6 363.5 L1269.4 363.0 L1270.2 361.4 L1271.1 363.5 L1271.9 361.9 L1272.7 362.7 L1273.5 362.1 L1274.3 363.2 L1275.1 361.6 L1275.9 361.7 L1276.8 361.7 L1277.6 361.5 L1278.4 363.7 L1279.2 362.7 L1280.0 362.5 L1280.8 363.2 L1281.6 364.6 L1282.4 367.5 L1283.1 367.4 L1283.9 367.8 L1284.7 370.6 L1285.5 371.4 L1286.3 373.5 L1287.1 372.4 L1287.9 374.6 L1288.6 376.7 L1289.4 378.0 L1290.2 379.4 L1291.0 379.5" stroke="#a22b17" stroke-width="1.15" stroke-linejoin="round"/>
<path d="M462.5 350.0 L463.2 347.1 L464.0 348.3 L464.7 347.0 L465.5 347.1 L466.2 351.2 L466.9 348.8 L467.7 350.4 L468.4 347.0 L469.2 349.5 L469.9 346.9 L470.6 345.5 L471.4 348.2 L472.1 348.8 L472.8 343.8 L473.6 346.3 L474.3 346.1 L475.1 343.6 L475.8 344.2 L476.5 342.6 L477.3 342.7 L478.0 342.7 L478.8 344.3 L479.5 343.5 L480.3 476.7 L497.0 476.7 L497.8 476.2 L498.5 472.7 L499.2 470.5 L500.0 470.9 L500.8 471.4 L501.5 467.7 L502.2 467.1 L503.0 465.4 L503.8 467.1 L504.5 464.6 L505.2 460.9 L506.0 459.9 L506.8 460.2 L507.5 459.7 L508.2 458.9 L509.0 454.9 L509.8 454.1 L510.5 455.5 L511.2 452.8 L512.0 451.0 L512.8 449.9 L513.5 451.9 L514.2 447.4 L515.0 447.5 L515.8 445.2 L516.5 444.3 L517.2 445.3 L518.0 444.7 L518.8 440.3 L519.5 438.2 L520.2 439.7 L521.0 435.8 L521.8 433.6 L522.5 436.8 L523.2 433.2 L524.0 434.0 L524.8 430.7 L525.5 431.8 L526.2 428.5 L527.0 425.7 L527.8 423.8 L528.5 425.2 L529.2 424.4 L530.0 422.5 L530.8 424.6 L531.5 419.8 L532.2 422.6 L533.0 421.0 L533.8 421.6 L534.5 419.4 L535.2 420.0 L536.0 421.2 L536.8 423.2 L537.5 418.5 L538.2 420.4 L539.0 422.0 L539.8 422.7 L540.5 418.3 L541.2 417.7 L542.0 422.1 L542.8 422.1 L543.5 419.1 L544.2 416.5 L545.0 421.2 L545.8 418.0 L546.5 420.8 L547.2 419.0 L548.0 419.9 L548.8 416.0 L549.5 419.4 L550.2 416.0 L551.0 416.9 L551.8 419.2 L552.5 418.9 L553.2 415.1 L554.0 415.1 L554.8 415.9 L555.5 416.4 L556.2 415.5 L557.0 413.8 L557.8 414.3 L558.5 416.8 L559.2 417.6 L560.0 412.6 L560.8 415.4 L561.5 416.3 L562.2 412.1 L563.0 416.4 L563.8 412.2 L564.5 414.7 L565.2 414.2 L566.0 413.8 L566.8 412.4 L567.5 408.7 L568.2 407.3 L569.0 406.1 L569.8 403.2 L570.5 402.4 L571.2 399.3 L572.0 397.2 L572.8 393.1 L573.5 394.1 L574.2 391.4 L575.0 388.1 L575.8 388.7 L576.5 386.8 L577.2 383.1 L578.0 379.7 L578.8 379.1 L579.5 375.3 L580.2 373.3 L581.0 372.8 L581.8 369.1 L582.5 368.8 L583.2 367.1 L584.0 362.7 L584.8 363.7 L585.5 361.0 L586.3 358.4 L587.0 361.9 L587.8 361.9 L588.5 360.2 L589.3 357.4 L590.0 359.7 L590.8 358.8 L591.5 361.7 L592.3 357.0 L593.1 360.8 L593.8 361.3 L594.6 359.6 L595.3 359.9 L596.1 356.2 L596.8 360.4 L597.6 357.4 L598.3 359.8 L599.1 359.3 L599.9 354.9 L600.6 358.2 L601.4 358.7 L602.1 353.7 L602.9 355.1 L603.6 357.1 L604.4 353.5 L605.1 357.4 L605.9 353.7 L606.7 356.5 L607.4 352.6 L608.2 354.3 L608.9 356.5 L609.7 352.3 L610.4 352.3 L611.2 353.5 L611.9 352.2 L612.7 350.4 L613.5 351.0 L614.2 350.7 L615.0 354.8 L615.7 353.1 L616.5 354.1 L617.2 349.8 L618.0 353.0 L618.7 349.1 L619.5 351.0 L620.3 476.7 L637.0 476.7 L637.8 475.6 L638.5 474.9 L639.3 472.2 L640.0 473.5 L640.8 470.7 L641.5 469.5 L642.3 469.8 L643.0 464.6 L643.8 467.8 L644.6 464.8 L645.3 462.3 L646.1 463.1 L646.8 459.1 L647.6 461.5 L648.3 458.2 L649.1 455.8 L649.8 456.6 L650.6 453.7 L651.4 451.1 L652.1 452.7 L652.9 448.0 L653.6 450.6 L654.4 446.5 L655.1 447.2 L655.9 447.6 L656.6 444.4 L657.4 443.5 L658.2 440.5 L658.9 437.6 L659.7 436.6 L660.4 435.9 L661.2 437.0 L661.9 434.8 L662.7 433.9 L663.4 434.6 L664.2 429.5 L665.0 428.7 L665.7 429.6 L666.5 425.2 L667.2 423.8 L668.0 424.3 L668.7 421.8 L669.5 421.8 L670.2 419.9 L671.0 420.0 L671.7 420.3 L672.5 420.2 L673.2 418.0 L674.0 420.2 L674.7 419.2 L675.5 417.2 L676.2 421.6 L677.0 417.5 L677.7 416.9 L678.4 416.5 L679.2 419.4 L679.9 420.5 L680.7 419.9 L681.4 417.7 L682.2 416.8 L682.9 415.2 L683.7 418.6 L684.4 418.1 L685.2 416.7 L685.9 418.3 L686.6 417.0 L687.4 419.6 L688.1 418.4 L688.9 415.5 L689.6 419.1 L690.4 414.1 L691.1 416.7 L691.9 415.9 L692.6 414.8 L693.3 413.7 L694.1 417.6 L694.8 413.2 L695.6 416.1 L696.3 418.1 L697.1 413.5 L697.8 413.7 L698.6 415.9 L699.3 415.2 L700.1 415.8 L700.8 416.7 L701.5 412.9 L702.3 413.6 L703.0 413.4 L703.8 411.9 L704.5 416.4 L705.3 415.7 L706.0 415.2 L706.8 411.1 L707.5 413.8 L708.2 413.2 L709.0 410.4 L709.7 406.8 L710.5 405.9 L711.2 402.2 L711.9 398.7 L712.7 395.9 L713.4 394.2 L714.2 391.0 L714.9 390.2 L715.6 390.0 L716.4 387.5 L717.1 386.0 L717.9 383.0 L718.6 378.5 L719.3 377.7 L720.1 374.8 L720.8 374.3 L721.6 370.7 L722.3 367.2 L723.0 366.8 L723.8 366.2 L724.5 360.1 L725.3 361.2 L726.0 357.0 L726.7 354.1 L727.5 355.3 L728.2 355.1 L729.0 357.7 L729.7 358.7 L730.5 357.4 L731.2 354.9 L732.0 357.9 L732.7 354.6 L733.4 354.0 L734.2 357.6 L734.9 355.9 L735.7 356.1 L736.4 355.7 L737.2 357.3 L737.9 354.3 L738.7 356.3 L739.4 355.3 L740.1 356.0 L740.9 353.5 L741.6 355.0 L742.4 354.0 L743.1 352.3 L743.9 351.7 L744.6 353.8 L745.4 350.6 L746.1 355.1 L746.8 350.7 L747.6 349.8 L748.3 350.1 L749.1 354.6 L749.8 351.2 L750.6 349.9 L751.3 349.1 L752.1 349.0 L752.8 352.5 L753.5 352.0 L754.3 352.2 L755.0 352.3 L755.8 348.3 L756.5 351.1 L757.3 349.7 L758.0 352.1 L758.8 351.9 L759.5 350.0 L760.3 476.7 L777.0 476.7 L777.7 476.7 L778.5 471.9 L779.2 474.7 L780.0 473.6 L780.7 472.4 L781.5 466.9 L782.2 466.1 L782.9 464.3 L783.7 462.7 L784.4 465.5 L785.2 464.0 L785.9 461.8 L786.7 461.4 L787.4 459.2 L788.2 456.1 L788.9 453.9 L789.6 452.6 L790.4 454.6 L791.1 450.5 L791.9 449.8 L792.6 449.0 L793.4 445.7 L794.1 445.6 L794.8 444.4 L795.6 445.3 L796.3 442.2 L797.1 440.7 L797.8 442.6 L798.6 439.0 L799.3 439.5 L800.1 437.0 L800.8 432.7 L801.5 433.4 L802.3 432.2 L803.0 432.6 L803.8 429.1 L804.5 429.6 L805.3 427.5 L806.0 426.0 L806.8 424.2 L807.5 427.6 L808.2 423.1 L809.0 427.0 L809.8 423.1 L810.5 422.0 L811.2 422.9 L812.0 425.9 L812.8 426.9 L813.5 421.2 L814.2 423.7 L815.0 423.5 L815.8 425.0 L816.5 421.4 L817.2 422.9 L818.0 421.9 L818.8 424.4 L819.5 421.0 L820.2 424.6 L821.0 420.8 L821.8 420.2 L822.5 422.7 L823.2 421.3 L824.0 419.0 L824.8 421.7 L825.5 418.4 L826.2 422.2 L827.0 421.5 L827.8 421.8 L828.5 420.7 L829.2 418.9 L830.0 419.0 L830.8 418.7 L831.5 421.3 L832.2 416.6 L833.0 420.9 L833.8 415.9 L834.5 416.7 L835.2 416.8 L836.0 420.2 L836.8 417.7 L837.5 416.8 L838.2 419.5 L839.0 415.6 L839.8 416.7 L840.5 416.9 L841.2 417.9 L842.0 417.7 L842.8 416.9 L843.5 415.1 L844.2 414.7 L845.0 415.5 L845.7 412.0 L846.5 413.6 L847.2 410.9 L848.0 409.5 L848.7 404.9 L849.4 404.4 L850.2 404.3 L850.9 401.5 L851.7 397.4 L852.4 397.3 L853.1 397.7 L853.9 392.6 L854.6 390.6 L855.4 389.4 L856.1 389.6 L856.9 388.5 L857.6 383.2 L858.3 381.4 L859.1 380.1 L859.8 378.7 L860.6 377.9 L861.3 374.3 L862.0 373.3 L862.8 370.8 L863.5 373.0 L864.3 369.9 L865.0 367.0 L865.8 364.6 L866.5 369.2 L867.2 364.2 L868.0 365.6 L868.8 368.8 L869.5 367.6 L870.2 367.1 L871.0 365.2 L871.8 363.7 L872.5 366.0 L873.2 362.8 L874.0 363.2 L874.8 364.0 L875.5 361.9 L876.2 363.7 L877.0 365.8 L877.8 365.0 L878.5 363.8 L879.2 364.3 L880.0 363.2 L880.8 361.2 L881.5 363.6 L882.2 362.3 L883.0 364.0 L883.8 364.8 L884.5 361.9 L885.2 362.6 L886.0 363.4 L886.8 361.4 L887.5 360.1 L888.2 362.7 L889.0 363.4 L889.8 362.6 L890.5 362.0 L891.2 362.7 L892.0 361.5 L892.8 361.2 L893.5 359.9 L894.2 359.0 L895.0 360.5 L895.8 357.4 L896.5 359.0 L897.2 360.9 L898.0 360.3 L898.8 359.7 L899.5 358.8 L900.3 476.7 L917.0 476.7 L917.8 474.1 L918.5 473.7 L919.3 472.6 L920.0 472.1 L920.8 469.8 L921.5 469.8 L922.3 469.8 L923.0 464.8 L923.8 465.9 L924.6 465.2 L925.3 461.9 L926.1 461.2 L926.8 462.3 L927.6 456.3 L928.3 457.5 L929.1 454.3 L929.8 456.2 L930.6 455.7 L931.4 452.3 L932.1 448.9 L932.9 450.0 L933.6 448.5 L934.4 448.1 L935.1 445.8 L935.9 445.1 L936.6 444.8 L937.4 441.9 L938.1 440.1 L938.9 441.5 L939.7 436.5 L940.4 437.6 L941.2 434.8 L941.9 435.4 L942.7 430.9 L943.4 433.9 L944.2 429.5 L944.9 426.7 L945.7 426.5 L946.5 425.8 L947.2 422.6 L948.0 423.3 L948.7 422.1 L949.5 422.2 L950.2 419.1 L951.0 417.4 L951.7 415.9 L952.5 416.0 L953.2 417.2 L954.0 418.2 L954.8 415.8 L955.5 413.9 L956.2 417.1 L957.0 414.7 L957.8 413.5 L958.5 413.0 L959.2 416.5 L960.0 416.5 L960.8 415.4 L961.5 414.4 L962.2 414.8 L963.0 412.8 L963.8 416.8 L964.5 413.3 L965.2 414.7 L966.0 415.6 L966.8 415.5 L967.5 413.4 L968.2 412.3 L969.0 413.6 L969.8 411.1 L970.5 415.0 L971.2 412.2 L972.0 414.8 L972.8 411.5 L973.5 411.9 L974.2 411.1 L975.0 412.0 L975.8 410.5 L976.5 409.4 L977.2 413.3 L978.0 410.7 L978.8 410.4 L979.5 410.6 L980.2 411.4 L981.0 411.0 L981.8 412.1 L982.5 412.1 L983.2 410.3 L984.0 413.4 L984.8 412.8 L985.5 408.2 L986.2 412.4 L987.0 412.8 L987.8 412.0 L988.5 408.2 L989.2 412.0 L990.0 410.0 L990.8 408.7 L991.5 403.6 L992.2 401.6 L993.0 404.3 L993.8 400.9 L994.5 396.8 L995.2 394.1 L996.0 392.3 L996.8 390.8 L997.5 391.6 L998.2 387.4 L999.0 384.5 L999.8 386.3 L1000.5 383.7 L1001.2 378.6 L1002.0 380.3 L1002.8 376.8 L1003.5 375.7 L1004.2 373.2 L1005.0 372.3 L1005.8 369.8 L1006.5 368.1 L1007.2 362.9 L1008.0 363.4 L1008.8 360.6 L1009.5 359.7 L1010.2 356.2 L1011.0 354.5 L1011.8 356.5 L1012.5 354.4 L1013.2 352.6 L1014.0 352.3 L1014.8 351.6 L1015.5 353.4 L1016.2 350.7 L1017.0 352.8 L1017.8 350.9 L1018.5 352.6 L1019.2 352.5 L1020.0 352.5 L1020.8 354.1 L1021.5 349.2 L1022.2 353.6 L1023.0 351.4 L1023.8 351.7 L1024.5 352.1 L1025.2 352.9 L1026.0 350.1 L1026.8 350.2 L1027.5 353.0 L1028.2 347.9 L1029.0 350.8 L1029.8 350.7 L1030.5 347.1 L1031.2 350.1 L1032.0 350.4 L1032.8 351.6 L1033.5 348.0 L1034.2 351.5 L1035.0 348.7 L1035.8 348.3 L1036.5 350.5 L1037.2 345.4 L1038.0 349.1 L1038.8 348.4 L1039.5 347.5 L1040.3 476.7 L1057.0 476.7 L1057.8 474.6 L1058.5 476.0 L1059.3 472.2 L1060.0 471.5 L1060.8 470.5 L1061.5 470.5 L1062.3 466.4 L1063.0 466.3 L1063.8 465.0 L1064.6 464.4 L1065.3 464.5 L1066.1 460.5 L1066.8 462.0 L1067.6 458.6 L1068.3 457.8 L1069.1 455.4 L1069.9 455.3 L1070.6 456.4 L1071.4 453.5 L1072.1 453.0 L1072.9 449.4 L1073.6 448.0 L1074.4 446.7 L1075.1 446.9 L1075.9 445.9 L1076.7 445.4 L1077.4 440.3 L1078.2 442.5 L1078.9 442.1 L1079.7 439.1 L1080.4 435.3 L1081.2 435.4 L1081.9 432.6 L1082.7 432.3 L1083.5 434.7 L1084.2 431.9 L1085.0 430.8 L1085.7 430.2 L1086.5 429.6 L1087.2 426.8 L1088.0 425.6 L1088.8 423.8 L1089.5 424.3 L1090.2 424.5 L1091.0 423.8 L1091.8 424.2 L1092.5 421.4 L1093.2 423.8 L1094.0 422.5 L1094.8 424.0 L1095.5 420.2 L1096.2 420.5 L1097.0 419.5 L1097.8 423.5 L1098.5 424.1 L1099.2 422.5 L1100.0 420.8 L1100.8 423.2 L1101.5 422.8 L1102.2 421.4 L1103.0 419.5 L1103.8 419.6 L1104.5 420.2 L1105.2 419.4 L1106.0 419.9 L1106.8 420.9 L1107.5 422.4 L1108.2 417.4 L1109.0 420.1 L1109.8 417.0 L1110.5 417.3 L1111.2 421.0 L1112.0 419.5 L1112.8 421.3 L1113.5 418.5 L1114.2 415.9 L1115.0 417.9 L1115.8 418.9 L1116.5 420.7 L1117.2 420.7 L1118.0 417.8 L1118.8 417.3 L1119.5 415.4 L1120.2 418.3 L1121.0 415.7 L1121.8 415.2 L1122.5 414.3 L1123.2 414.1 L1124.0 417.7 L1124.8 414.4 L1125.5 419.0 L1126.2 413.9 L1127.0 418.2 L1127.8 413.9 L1128.5 413.1 L1129.2 416.9 L1130.0 415.5 L1130.8 412.1 L1131.5 412.5 L1132.2 407.6 L1133.0 404.8 L1133.8 406.4 L1134.5 404.0 L1135.2 402.6 L1136.0 399.9 L1136.8 394.5 L1137.5 395.1 L1138.2 393.5 L1139.0 390.1 L1139.8 390.4 L1140.5 384.9 L1141.2 386.3 L1142.0 383.0 L1142.8 377.3 L1143.5 375.3 L1144.2 376.4 L1145.0 375.1 L1145.8 369.3 L1146.5 368.3 L1147.2 368.4 L1148.0 363.4 L1148.8 363.0 L1149.5 364.8 L1150.2 362.4 L1151.0 359.8 L1151.8 361.3 L1152.5 362.2 L1153.2 361.2 L1154.0 362.3 L1154.8 359.1 L1155.5 362.5 L1156.2 359.8 L1157.0 361.1 L1157.8 360.8 L1158.5 359.4 L1159.2 358.9 L1160.0 360.9 L1160.8 361.6 L1161.5 360.4 L1162.2 359.0 L1163.0 357.2 L1163.8 355.7 L1164.5 360.5 L1165.2 358.8 L1166.0 359.2 L1166.8 356.2 L1167.5 357.5 L1168.2 359.3 L1169.0 358.3 L1169.8 356.7 L1170.5 354.9 L1171.2 355.3 L1172.0 357.6 L1172.8 354.5 L1173.5 356.0 L1174.2 355.3 L1175.0 356.7 L1175.8 355.9 L1176.5 352.8 L1177.2 350.9 L1178.0 352.2 L1178.8 352.8 L1179.5 353.0 L1180.3 476.7 L1197.0 476.7 L1197.7 475.9 L1198.5 475.9 L1199.2 475.1 L1200.0 469.6 L1200.7 472.4 L1201.5 471.1 L1202.2 470.2 L1203.0 467.5 L1203.7 464.8 L1204.4 466.5 L1205.2 465.0 L1205.9 463.2 L1206.7 463.2 L1207.4 459.1 L1208.2 456.6 L1208.9 457.8 L1209.6 457.8 L1210.4 453.6 L1211.1 455.2 L1211.9 454.9 L1212.6 450.2 L1213.4 450.8 L1214.1 450.0 L1214.9 447.7 L1215.6 445.2 L1216.3 444.3 L1217.1 445.6 L1217.8 444.6 L1218.6 441.7 L1219.3 438.6 L1220.1 441.0 L1220.8 439.7 L1221.5 435.8 L1222.3 436.3 L1223.0 436.7 L1223.8 435.4 L1224.5 432.4 L1225.3 431.0 L1226.0 430.4 L1226.8 427.1 L1227.5 427.5 L1228.3 425.6 L1229.0 425.3 L1229.8 428.0 L1230.5 425.9 L1231.3 426.8 L1232.0 425.7 L1232.8 426.2 L1233.5 423.9 L1234.3 423.1 L1235.0 428.2 L1235.8 424.5 L1236.6 422.8 L1237.3 425.6 L1238.1 426.2 L1238.8 422.5 L1239.6 424.8 L1240.3 423.1 L1241.1 423.9 L1241.8 420.9 L1242.6 420.8 L1243.4 425.9 L1244.1 425.0 L1244.9 422.7 L1245.6 422.9 L1246.4 421.0 L1247.1 423.7 L1247.9 421.5 L1248.6 424.2 L1249.4 423.0 L1250.1 423.1 L1250.9 423.7 L1251.7 419.5 L1252.4 418.1 L1253.2 418.8 L1253.9 418.5 L1254.7 417.8 L1255.4 417.4 L1256.2 420.0 L1256.9 421.5 L1257.7 419.0 L1258.5 421.6 L1259.2 421.1 L1260.0 416.2 L1260.7 419.0 L1261.5 417.7 L1262.2 415.9 L1263.0 420.4 L1263.7 416.3 L1264.5 417.8 L1265.2 418.0 L1266.0 417.0 L1266.7 417.2 L1267.5 413.6 L1268.2 410.1 L1269.0 408.2 L1269.7 404.7 L1270.4 406.6 L1271.2 404.6 L1271.9 398.6 L1272.7 395.5 L1273.4 394.5 L1274.1 392.9 L1274.9 393.5 L1275.6 391.4 L1276.4 388.9 L1277.1 382.8 L1277.8 384.4 L1278.6 381.9 L1279.3 379.5 L1280.1 379.1 L1280.8 372.3 L1281.5 370.6 L1282.3 371.5 L1283.0 370.3 L1283.8 366.0 L1284.5 366.9 L1285.2 364.8 L1285.9 366.4 L1286.7 367.2 L1287.4 363.5 L1288.1 364.7 L1288.8 364.3 L1289.5 363.5 L1290.3 365.4 L1291.0 365.5" stroke="#ea3df2" stroke-width="1.15" stroke-linejoin="round"/>
<path d="M462.5 527.5 L463.2 525.3 L464.0 525.4 L464.7 524.6 L465.5 527.4 L466.2 523.3 L466.9 527.1 L467.7 523.8 L468.4 522.5 L469.2 527.4 L469.9 523.1 L470.6 526.9 L471.4 526.2 L472.1 526.1 L472.8 521.5 L473.6 523.0 L474.3 520.6 L475.1 525.2 L475.8 524.4 L476.5 522.9 L477.3 521.6 L478.0 520.6 L478.8 523.2 L479.5 521.0 L480.3 652.2 L497.0 652.2 L497.8 650.8 L498.5 650.2 L499.2 646.4 L500.0 645.5 L500.8 643.3 L501.5 645.4 L502.2 643.3 L503.0 639.9 L503.8 642.3 L504.5 637.9 L505.2 637.3 L506.0 634.7 L506.8 634.0 L507.5 635.6 L508.2 631.7 L509.0 629.5 L509.8 629.9 L510.5 627.6 L511.2 629.4 L512.0 624.0 L512.8 627.2 L513.5 621.0 L514.2 624.1 L515.0 621.6 L515.8 617.9 L516.5 618.0 L517.2 615.7 L518.0 614.2 L518.8 612.6 L519.5 612.2 L520.2 614.1 L521.0 612.8 L521.8 611.1 L522.5 605.5 L523.2 605.2 L524.0 607.1 L524.8 601.4 L525.5 603.6 L526.2 600.0 L527.0 602.2 L527.8 595.9 L528.5 598.7 L529.2 595.0 L530.0 594.5 L530.8 592.2 L531.5 591.2 L532.2 595.8 L533.0 593.9 L533.8 591.7 L534.5 592.9 L535.2 595.5 L536.0 591.3 L536.8 593.1 L537.5 590.4 L538.2 590.5 L539.0 593.7 L539.8 593.2 L540.5 590.0 L541.2 589.1 L542.0 588.9 L542.8 591.8 L543.5 590.9 L544.2 589.4 L545.0 588.8 L545.8 591.0 L546.5 591.4 L547.2 591.8 L548.0 590.2 L548.8 587.8 L549.5 586.8 L550.2 590.5 L551.0 588.4 L551.8 590.0 L552.5 586.0 L553.2 590.2 L554.0 587.2 L554.8 590.0 L555.5 589.9 L556.2 587.5 L557.0 584.6 L557.8 589.6 L558.5 586.8 L559.2 588.9 L560.0 585.2 L560.8 584.6 L561.5 588.1 L562.2 585.2 L563.0 583.8 L563.8 584.8 L564.5 585.9 L565.2 582.3 L566.0 585.0 L566.8 582.9 L567.5 580.4 L568.3 578.6 L569.0 574.4 L569.8 575.3 L570.6 573.7 L571.3 571.8 L572.1 566.8 L572.8 566.7 L573.6 562.8 L574.4 562.6 L575.1 556.8 L575.9 558.9 L576.6 557.1 L577.4 552.6 L578.2 550.5 L578.9 548.4 L579.7 546.3 L580.4 541.5 L581.2 544.2 L582.0 538.2 L582.7 535.8 L583.5 533.2 L584.2 531.9 L585.0 531.0 L585.8 532.6 L586.5 527.7 L587.2 527.8 L588.0 531.0 L588.8 527.8 L589.5 526.5 L590.2 529.6 L591.0 529.2 L591.8 528.6 L592.5 529.3 L593.2 525.6 L594.0 529.8 L594.8 528.6 L595.5 524.4 L596.2 524.6 L597.0 526.4 L597.8 526.2 L598.5 524.6 L599.2 523.4 L600.0 524.8 L600.8 523.0 L601.5 525.3 L602.2 526.6 L603.0 522.2 L603.8 524.4 L604.5 525.1 L605.2 521.4 L606.0 525.0 L606.8 525.3 L607.5 521.9 L608.2 521.8 L609.0 523.9 L609.8 521.8 L610.5 520.8 L611.2 523.7 L612.0 522.4 L612.8 519.6 L613.5 518.8 L614.2 519.0 L615.0 519.3 L615.8 522.2 L616.5 520.9 L617.2 521.2 L618.0 520.4 L618.8 520.3 L619.5 518.0 L620.3 652.2 L637.0 652.2 L637.8 648.7 L638.5 649.9 L639.2 651.1 L640.0 649.8 L640.8 645.0 L641.5 644.7 L642.2 644.6 L643.0 642.1 L643.8 641.8 L644.5 638.2 L645.2 638.9 L646.0 638.1 L646.8 634.4 L647.5 633.8 L648.2 637.0 L649.0 634.8 L649.8 634.5 L650.5 631.7 L651.2 631.4 L652.0 630.7 L652.8 629.5 L653.5 623.9 L654.2 625.9 L655.0 622.7 L655.8 623.7 L656.5 620.4 L657.2 620.6 L658.0 621.4 L658.8 618.7 L659.5 615.6 L660.2 615.8 L661.0 614.2 L661.8 615.7 L662.5 611.1 L663.2 610.0 L664.0 610.6 L664.8 606.6 L665.5 607.9 L666.2 608.7 L667.0 605.2 L667.8 602.7 L668.5 602.6 L669.2 601.7 L670.0 598.6 L670.8 597.2 L671.5 596.1 L672.2 595.8 L673.0 595.2 L673.8 594.5 L674.5 593.1 L675.2 592.7 L676.0 591.7 L676.7 594.2 L677.5 595.7 L678.2 594.2 L679.0 593.9 L679.7 594.2 L680.5 591.4 L681.2 594.2 L681.9 592.6 L682.7 593.0 L683.4 593.2 L684.2 592.2 L684.9 591.2 L685.7 590.6 L686.4 590.4 L687.2 591.9 L687.9 591.0 L688.6 592.0 L689.4 588.5 L690.1 590.4 L690.9 593.2 L691.6 589.4 L692.4 591.1 L693.1 590.6 L693.9 589.2 L694.6 593.2 L695.3 589.0 L696.1 591.6 L696.8 587.9 L697.6 587.2 L698.3 591.7 L699.1 589.1 L699.8 586.7 L700.6 588.5 L701.3 588.6 L702.0 590.2 L702.8 586.4 L703.5 586.9 L704.3 591.1 L705.0 589.6 L705.8 586.1 L706.5 587.0 L707.3 586.9 L708.0 588.7 L708.8 587.5 L709.5 586.1 L710.3 585.3 L711.0 583.1 L711.8 579.5 L712.6 578.6 L713.3 576.6 L714.1 574.6 L714.8 571.1 L715.6 570.7 L716.4 568.3 L717.1 567.3 L717.9 561.2 L718.6 563.0 L719.4 556.5 L720.2 558.4 L720.9 555.4 L721.7 553.0 L722.4 553.4 L723.2 549.3 L724.0 546.4 L724.7 546.3 L725.5 544.8 L726.2 541.3 L727.0 538.8 L727.8 537.8 L728.5 537.9 L729.3 537.7 L730.0 539.0 L730.8 536.2 L731.5 536.5 L732.3 537.2 L733.0 536.0 L733.8 535.4 L734.6 537.8 L735.3 537.9 L736.1 535.6 L736.8 535.0 L737.6 533.3 L738.3 533.7 L739.1 532.5 L739.8 534.7 L740.6 534.5 L741.4 531.4 L742.1 536.0 L742.9 532.2 L743.6 535.0 L744.4 534.7 L745.1 535.1 L745.9 530.5 L746.7 531.5 L747.4 534.1 L748.2 528.6 L748.9 528.5 L749.7 531.3 L750.4 530.6 L751.2 532.8 L751.9 531.7 L752.7 530.1 L753.5 532.5 L754.2 529.4 L755.0 529.2 L755.7 529.9 L756.5 527.9 L757.2 527.5 L758.0 528.6 L758.7 526.9 L759.5 527.5 L760.3 652.2 L777.0 652.2 L777.8 652.2 L778.5 650.4 L779.3 648.3 L780.0 644.7 L780.8 644.8 L781.5 643.6 L782.3 643.1 L783.0 641.8 L783.8 642.0 L784.6 641.1 L785.3 637.3 L786.1 635.7 L786.8 635.3 L787.6 635.9 L788.3 631.1 L789.1 630.8 L789.9 630.9 L790.6 626.2 L791.4 625.6 L792.1 627.7 L792.9 625.6 L793.6 622.6 L794.4 619.1 L795.1 621.9 L795.9 619.4 L796.7 618.8 L797.4 618.3 L798.2 616.4 L798.9 612.6 L799.7 609.9 L800.4 609.3 L801.2 609.1 L801.9 607.7 L802.7 604.7 L803.5 603.3 L804.2 604.3 L805.0 602.8 L805.7 600.1 L806.5 602.1 L807.2 598.9 L808.0 594.5 L808.8 595.5 L809.5 594.9 L810.2 596.9 L811.0 594.0 L811.7 596.1 L812.5 592.0 L813.2 593.7 L814.0 596.7 L814.7 595.1 L815.5 595.4 L816.2 592.6 L816.9 594.2 L817.7 594.4 L818.4 592.7 L819.2 594.7 L819.9 594.0 L820.7 596.5 L821.4 594.0 L822.2 592.9 L822.9 591.1 L823.6 591.2 L824.4 594.6 L825.1 590.7 L825.9 590.5 L826.6 590.8 L827.4 592.8 L828.1 594.4 L828.9 593.1 L829.6 594.1 L830.3 589.6 L831.1 589.2 L831.8 593.5 L832.6 590.8 L833.3 593.0 L834.1 590.8 L834.8 589.6 L835.6 590.0 L836.3 588.9 L837.1 593.5 L837.8 591.5 L838.5 590.0 L839.3 590.5 L840.0 590.0 L840.8 588.0 L841.5 592.7 L842.3 590.8 L843.0 592.9 L843.8 589.8 L844.5 590.0 L845.2 588.4 L846.0 584.2 L846.7 580.8 L847.5 583.2 L848.2 580.5 L848.9 575.5 L849.7 576.2 L850.4 573.6 L851.1 568.6 L851.9 567.9 L852.6 567.5 L853.4 562.8 L854.1 562.9 L854.8 557.0 L855.6 555.5 L856.3 554.9 L857.0 550.1 L857.8 548.3 L858.5 549.0 L859.3 544.7 L860.0 542.5 L860.7 543.9 L861.5 540.5 L862.2 539.8 L863.0 540.6 L863.7 539.4 L864.5 543.7 L865.2 539.5 L866.0 540.8 L866.7 537.9 L867.5 540.1 L868.2 539.0 L868.9 538.8 L869.7 536.6 L870.4 536.7 L871.2 540.5 L871.9 537.5 L872.7 536.6 L873.4 536.0 L874.2 536.3 L874.9 535.8 L875.7 534.4 L876.4 537.7 L877.1 535.6 L877.9 534.3 L878.6 537.2 L879.4 533.4 L880.1 534.2 L880.9 537.2 L881.6 532.8 L882.4 534.4 L883.1 536.4 L883.8 536.0 L884.6 532.0 L885.3 532.8 L886.1 534.7 L886.8 532.4 L887.6 535.6 L888.3 530.9 L889.1 535.0 L889.8 532.2 L890.6 530.3 L891.3 531.3 L892.0 529.2 L892.8 532.3 L893.5 529.4 L894.3 532.9 L895.0 530.8 L895.8 529.3 L896.5 528.3 L897.3 530.2 L898.0 527.6 L898.8 531.2 L899.5 528.8 L900.3 652.2 L917.0 652.2 L917.8 648.8 L918.5 649.4 L919.3 648.2 L920.0 645.4 L920.8 646.6 L921.5 643.1 L922.3 643.2 L923.0 641.3 L923.8 638.5 L924.6 637.5 L925.3 634.5 L926.1 633.6 L926.8 635.7 L927.6 631.5 L928.3 631.9 L929.1 627.6 L929.8 628.6 L930.6 626.1 L931.4 625.4 L932.1 622.9 L932.9 620.3 L933.6 620.2 L934.4 618.3 L935.1 616.4 L935.9 618.1 L936.6 614.4 L937.4 613.6 L938.2 614.9 L938.9 612.7 L939.7 611.9 L940.4 610.4 L941.2 605.2 L941.9 604.5 L942.7 601.8 L943.4 603.8 L944.2 602.3 L945.0 599.3 L945.7 598.2 L946.5 598.0 L947.2 596.8 L948.0 593.1 L948.7 594.8 L949.5 590.8 L950.2 590.8 L951.0 588.8 L951.7 586.7 L952.5 586.2 L953.2 590.6 L954.0 589.4 L954.7 589.2 L955.5 585.1 L956.2 584.9 L957.0 585.5 L957.7 585.5 L958.4 586.0 L959.2 586.2 L959.9 584.1 L960.7 585.5 L961.4 587.2 L962.2 584.4 L962.9 588.1 L963.7 586.4 L964.4 587.0 L965.1 584.2 L965.9 585.1 L966.6 586.4 L967.4 584.2 L968.1 582.1 L968.9 586.7 L969.6 586.2 L970.4 583.2 L971.1 581.6 L971.9 586.2 L972.6 584.6 L973.3 581.2 L974.1 582.2 L974.8 581.2 L975.6 585.0 L976.3 581.5 L977.1 585.4 L977.8 584.3 L978.6 580.2 L979.3 583.6 L980.0 581.7 L980.8 583.6 L981.5 583.9 L982.3 580.6 L983.0 579.3 L983.8 584.1 L984.5 580.9 L985.3 583.7 L986.0 581.0 L986.7 580.2 L987.5 578.6 L988.2 577.2 L989.0 574.3 L989.7 571.5 L990.4 567.6 L991.2 569.1 L991.9 565.9 L992.7 564.5 L993.4 564.8 L994.2 558.8 L994.9 560.2 L995.6 554.6 L996.4 556.2 L997.1 554.9 L997.9 550.2 L998.6 549.9 L999.3 550.2 L1000.1 546.7 L1000.8 544.3 L1001.6 541.0 L1002.3 538.1 L1003.1 537.8 L1003.8 536.3 L1004.5 533.3 L1005.3 532.0 L1006.0 529.3 L1006.8 530.4 L1007.5 527.5 L1008.2 528.3 L1009.0 525.6 L1009.7 525.4 L1010.5 526.8 L1011.2 526.2 L1012.0 528.8 L1012.7 525.2 L1013.5 524.7 L1014.2 527.9 L1014.9 523.4 L1015.7 525.6 L1016.4 524.1 L1017.2 526.7 L1017.9 524.9 L1018.7 526.0 L1019.4 522.3 L1020.2 525.0 L1020.9 524.4 L1021.6 523.4 L1022.4 525.0 L1023.1 525.1 L1023.9 520.8 L1024.6 521.6 L1025.4 521.8 L1026.1 520.7 L1026.8 519.7 L1027.6 520.7 L1028.3 520.0 L1029.1 522.8 L1029.8 521.1 L1030.6 518.9 L1031.3 520.0 L1032.1 520.6 L1032.8 519.8 L1033.5 518.5 L1034.3 517.7 L1035.0 517.1 L1035.8 522.6 L1036.5 521.0 L1037.3 516.9 L1038.0 520.4 L1038.8 521.7 L1039.5 518.8 L1040.3 652.2 L1057.0 652.2 L1057.8 651.1 L1058.5 647.4 L1059.2 648.0 L1060.0 646.3 L1060.8 643.6 L1061.5 644.1 L1062.2 639.9 L1063.0 643.3 L1063.8 640.4 L1064.5 639.0 L1065.2 639.2 L1066.0 636.3 L1066.8 632.8 L1067.5 631.4 L1068.2 629.5 L1069.0 627.5 L1069.8 630.0 L1070.5 628.9 L1071.2 624.7 L1072.0 622.7 L1072.8 623.7 L1073.5 623.4 L1074.2 622.4 L1075.0 617.1 L1075.8 618.9 L1076.5 617.8 L1077.2 615.9 L1078.0 612.3 L1078.8 610.2 L1079.5 612.2 L1080.2 608.1 L1081.0 607.0 L1081.8 606.6 L1082.5 604.2 L1083.2 605.2 L1084.0 600.8 L1084.8 598.3 L1085.5 599.7 L1086.2 598.6 L1087.0 598.2 L1087.8 596.2 L1088.5 595.9 L1089.2 594.7 L1090.0 591.0 L1090.8 590.8 L1091.5 590.7 L1092.2 588.6 L1093.0 589.2 L1093.8 590.7 L1094.5 587.7 L1095.2 591.0 L1096.0 587.8 L1096.8 589.3 L1097.5 592.2 L1098.2 587.0 L1099.0 586.5 L1099.8 588.7 L1100.5 587.1 L1101.2 590.0 L1102.0 585.7 L1102.8 590.4 L1103.5 590.3 L1104.2 589.8 L1105.0 587.5 L1105.8 586.6 L1106.5 588.6 L1107.2 587.6 L1108.0 586.9 L1108.8 586.3 L1109.5 586.7 L1110.2 587.9 L1111.0 588.7 L1111.8 589.0 L1112.5 584.5 L1113.2 585.1 L1114.0 585.8 L1114.8 586.4 L1115.5 585.0 L1116.2 583.9 L1117.0 583.2 L1117.8 584.4 L1118.5 585.0 L1119.2 587.8 L1120.0 587.3 L1120.8 586.9 L1121.5 587.4 L1122.2 587.2 L1123.0 585.0 L1123.8 586.0 L1124.5 581.5 L1125.2 584.9 L1126.0 583.8 L1126.8 581.9 L1127.5 577.9 L1128.2 576.9 L1129.0 576.5 L1129.8 571.7 L1130.5 570.1 L1131.2 565.9 L1132.0 563.8 L1132.8 564.2 L1133.5 557.3 L1134.2 555.8 L1135.0 555.9 L1135.8 552.3 L1136.5 548.0 L1137.2 548.6 L1138.0 544.7 L1138.8 543.4 L1139.5 540.2 L1140.2 538.3 L1141.0 536.1 L1141.8 532.9 L1142.5 531.0 L1143.3 528.5 L1144.0 528.6 L1144.8 532.4 L1145.5 530.1 L1146.3 527.3 L1147.0 531.4 L1147.8 527.6 L1148.5 526.4 L1149.3 528.6 L1150.1 526.7 L1150.8 527.8 L1151.6 527.9 L1152.3 525.7 L1153.1 527.4 L1153.8 524.5 L1154.6 526.5 L1155.3 526.7 L1156.1 523.4 L1156.8 525.0 L1157.6 522.8 L1158.4 524.6 L1159.1 526.8 L1159.9 524.7 L1160.6 525.4 L1161.4 525.3 L1162.1 521.3 L1162.9 526.1 L1163.6 524.3 L1164.4 520.4 L1165.2 524.3 L1165.9 521.5 L1166.7 520.0 L1167.4 524.2 L1168.2 521.7 L1168.9 522.6 L1169.7 518.6 L1170.4 522.0 L1171.2 517.6 L1171.9 518.3 L1172.7 518.8 L1173.5 516.5 L1174.2 519.5 L1175.0 517.1 L1175.7 517.3 L1176.5 519.3 L1177.2 517.4 L1178.0 519.8 L1178.7 518.0 L1179.5 517.0 L1180.3 652.2 L1197.0 652.2 L1197.8 652.2 L1198.5 650.0 L1199.3 650.6 L1200.0 649.1 L1200.8 644.1 L1201.5 645.9 L1202.3 642.5 L1203.0 643.4 L1203.8 641.7 L1204.6 641.2 L1205.3 636.2 L1206.1 636.3 L1206.8 636.9 L1207.6 636.7 L1208.3 634.3 L1209.1 629.5 L1209.8 631.1 L1210.6 627.2 L1211.4 628.3 L1212.1 628.4 L1212.9 623.5 L1213.6 626.5 L1214.4 623.9 L1215.1 620.4 L1215.9 618.8 L1216.6 618.9 L1217.4 619.6 L1218.2 617.0 L1218.9 613.3 L1219.7 611.6 L1220.4 610.8 L1221.2 613.1 L1221.9 608.6 L1222.7 609.3 L1223.4 606.6 L1224.2 607.4 L1225.0 604.5 L1225.7 602.0 L1226.5 604.6 L1227.2 601.6 L1228.0 601.1 L1228.7 600.4 L1229.5 599.9 L1230.2 593.7 L1231.0 595.0 L1231.7 593.9 L1232.5 592.6 L1233.2 594.5 L1234.0 596.5 L1234.7 595.9 L1235.5 591.3 L1236.2 592.0 L1237.0 595.5 L1237.7 594.5 L1238.4 592.7 L1239.2 593.0 L1239.9 591.0 L1240.7 594.8 L1241.4 592.0 L1242.2 594.6 L1242.9 592.9 L1243.7 589.6 L1244.4 590.9 L1245.1 590.1 L1245.9 593.9 L1246.6 591.9 L1247.4 588.6 L1248.1 589.2 L1248.9 590.1 L1249.6 590.6 L1250.4 591.0 L1251.1 589.8 L1251.9 589.4 L1252.6 587.2 L1253.3 590.4 L1254.1 588.8 L1254.8 586.8 L1255.6 589.1 L1256.3 592.0 L1257.1 586.4 L1257.8 586.8 L1258.6 589.7 L1259.3 587.2 L1260.0 587.0 L1260.8 588.2 L1261.5 586.6 L1262.3 588.3 L1263.0 587.8 L1263.8 590.2 L1264.5 590.2 L1265.3 584.5 L1266.0 587.0 L1266.7 585.1 L1267.5 584.0 L1268.2 582.3 L1269.0 579.6 L1269.7 576.6 L1270.4 574.4 L1271.2 570.8 L1271.9 568.1 L1272.7 568.6 L1273.4 566.8 L1274.1 564.9 L1274.9 561.3 L1275.6 557.1 L1276.4 557.3 L1277.1 555.0 L1277.8 551.5 L1278.6 550.0 L1279.3 546.3 L1280.1 545.1 L1280.8 542.1 L1281.5 538.1 L1282.3 537.3 L1283.0 535.0 L1283.8 533.8 L1284.5 536.3 L1285.2 533.1 L1285.9 532.2 L1286.7 531.2 L1287.4 530.8 L1288.1 531.2 L1288.8 529.7 L1289.5 528.7 L1290.3 533.4 L1291.0 531.0" stroke="#4a8522" stroke-width="1.15" stroke-linejoin="round"/>
<path d="M462.5 165.9V302.1M456.3 166.5H462.5M456.3 301.5H462.5" stroke="#3438a3" stroke-width="1.2"/>
<path d="M462.5 341.1V477.3M456.3 341.8H462.5M456.3 365.4H462.5M456.3 393.2H462.5M456.3 421.1H462.5M456.3 448.9H462.5M456.3 476.7H462.5" stroke="#a22b17" stroke-width="1.2"/>
<path d="M462.5 516.2V652.8M456.3 516.8H462.5M456.3 535.0H462.5M456.3 564.3H462.5M456.3 593.6H462.5M456.3 622.9H462.5M456.3 652.2H462.5" stroke="#4a8522" stroke-width="1.2"/>
<path d="M462.5 661V656.6H1291.0V661M471.5 656.6V661M575.5 656.6V661M679.5 656.6V661M782.5 656.6V661M886.5 656.6V661M990.5 656.6V661M1093.5 656.6V661M1197.5 656.6V661" stroke="#222" stroke-width="1.2"/>
<path d="M463.0 720.3L465.1 720.3L465.1 749.0L465.4 749.0L465.4 720.3M465.6 720.3L468.0 720.3L468.0 749.0L468.3 749.0L468.3 720.3M468.6 720.3L471.3 720.3L471.3 749.0L471.6 749.0L471.6 720.3M471.0 720.3L473.7 720.3L473.7 749.0L474.0 749.0L474.0 720.3M473.7 720.3L476.4 720.3L476.4 749.0L476.7 749.0L476.7 720.3M476.6 720.3L478.6 720.3L478.6 749.0L478.8 749.0L478.8 720.3M479.3 720.3L482.0 720.3L482.0 749.0L482.3 749.0L482.3 720.3M482.0 720.3L484.2 720.3L484.2 749.0L484.4 749.0L484.4 720.3M485.1 720.3L487.7 720.3L487.7 749.0L488.0 749.0L488.0 720.3M487.8 720.3L489.9 720.3L489.9 749.0L490.1 749.0L490.1 720.3M490.9 720.3L493.4 720.3L493.4 749.0L493.7 749.0L493.7 720.3M493.2 720.3L495.8 720.3L495.8 749.0L496.1 749.0L496.1 720.3M496.5 720.3L499.1 720.3L499.1 749.0L499.4 749.0L499.4 720.3M498.8 720.3L501.0 720.3L501.0 749.0L501.3 749.0L501.3 720.3M501.2 720.3L503.5 720.3L503.5 749.0L503.8 749.0L503.8 720.3M503.9 720.3L506.4 720.3L506.4 749.0L506.6 749.0L506.6 720.3M507.0 720.3L509.6 720.3L509.6 749.0L509.9 749.0L509.9 720.3M510.1 720.3L512.3 720.3L512.3 749.0L512.6 749.0L512.6 720.3M512.6 720.3L515.1 720.3L515.1 749.0L515.4 749.0L515.4 720.3M515.7 720.3L518.1 720.3L518.1 749.0L518.3 749.0L518.3 720.3M518.2 720.3L520.5 720.3L520.5 749.0L520.7 749.0L520.7 720.3M521.0 720.3L523.3 720.3L523.3 749.0L523.5 749.0L523.5 720.3M523.3 720.3L525.7 720.3L525.7 749.0L525.9 749.0L525.9 720.3M526.4 720.3L528.7 720.3L528.7 749.0L529.0 749.0L529.0 720.3M529.4 720.3L532.2 720.3L532.2 749.0L532.5 749.0L532.5 720.3M531.6 720.3L534.2 720.3L534.2 749.0L534.5 749.0L534.5 720.3M534.4 720.3L536.7 720.3L536.7 749.0L536.9 749.0L536.9 720.3M536.8 720.3L539.1 720.3L539.1 749.0L539.4 749.0L539.4 720.3M539.9 720.3L542.6 720.3L542.6 749.0L543.0 749.0L543.0 720.3M542.8 720.3L545.3 720.3L545.3 749.0L545.6 749.0L545.6 720.3M545.8 720.3L548.5 720.3L548.5 749.0L548.8 749.0L548.8 720.3M548.1 720.3L550.9 720.3L550.9 749.0L551.2 749.0L551.2 720.3M551.1 720.3L553.5 720.3L553.5 749.0L553.8 749.0L553.8 720.3M553.8 720.3L556.4 720.3L556.4 749.0L556.7 749.0L556.7 720.3M556.7 720.3L559.3 720.3L559.3 749.0L559.6 749.0L559.6 720.3M559.7 720.3L562.4 720.3L562.4 749.0L562.7 749.0L562.7 720.3M562.1 720.3L564.2 720.3L564.2 749.0L564.4 749.0L564.4 720.3M564.8 720.3L566.9 720.3L566.9 749.0L567.1 749.0L567.1 720.3M568.0 720.3L570.0 720.3L570.0 749.0L570.2 749.0L570.2 720.3M570.9 720.3L573.3 720.3L573.3 749.0L573.6 749.0L573.6 720.3M573.1 720.3L575.4 720.3L575.4 749.0L575.7 749.0L575.7 720.3M575.7 720.3L578.3 720.3L578.3 749.0L578.6 749.0L578.6 720.3M579.1 720.3L581.4 720.3L581.4 749.0L581.6 749.0L581.6 720.3M581.8 720.3L584.6 720.3L584.6 749.0L584.9 749.0L584.9 720.3M584.0 720.3L586.3 720.3L586.3 749.0L586.5 749.0L586.5 720.3M586.6 720.3L589.1 720.3L589.1 749.0L589.3 749.0L589.3 720.3M589.5 720.3L591.5 720.3L591.5 749.0L591.7 749.0L591.7 720.3M592.4 720.3L595.1 720.3L595.1 749.0L595.4 749.0L595.4 720.3M595.7 720.3L597.8 720.3L597.8 749.0L598.1 749.0L598.1 720.3M597.9 720.3L600.2 720.3L600.2 749.0L600.5 749.0L600.5 720.3M601.1 720.3L603.6 720.3L603.6 749.0L603.8 749.0L603.8 720.3M603.2 720.3L605.4 720.3L605.4 749.0L605.6 749.0L605.6 720.3M606.3 720.3L608.3 720.3L608.3 749.0L608.5 749.0L608.5 720.3M609.1 720.3L611.5 720.3L611.5 749.0L611.7 749.0L611.7 720.3M611.9 720.3L614.1 720.3L614.1 749.0L614.4 749.0L614.4 720.3M614.6 720.3L617.2 720.3L617.2 749.0L617.5 749.0L617.5 720.3M617.5 720.3L619.9 720.3L619.9 749.0L620.2 749.0L620.2 720.3M620.1 720.3L622.8 720.3L622.8 749.0L623.1 749.0L623.1 720.3M622.3 720.3L624.8 720.3L624.8 749.0L625.1 749.0L625.1 720.3M625.3 720.3L627.3 720.3L627.3 749.0L627.6 749.0L627.6 720.3M628.0 720.3L630.8 720.3L630.8 749.0L631.1 749.0L631.1 720.3M631.2 720.3L633.6 720.3L633.6 749.0L633.9 749.0L633.9 720.3M633.7 720.3L636.0 720.3L636.0 749.0L636.2 749.0L636.2 720.3M636.4 720.3L638.6 720.3L638.6 749.0L638.8 749.0L638.8 720.3M639.6 720.3L641.6 720.3L641.6 749.0L641.9 749.0L641.9 720.3M641.7 720.3L644.5 720.3L644.5 749.0L644.8 749.0L644.8 720.3M644.8 720.3L647.0 720.3L647.0 749.0L647.2 749.0L647.2 720.3M647.4 720.3L649.5 720.3L649.5 749.0L649.7 749.0L649.7 720.3M650.5 720.3L652.5 720.3L652.5 749.0L652.7 749.0L652.7 720.3M653.3 720.3L655.5 720.3L655.5 749.0L655.7 749.0L655.7 720.3M656.3 720.3L658.7 720.3L658.7 749.0L659.0 749.0L659.0 720.3M658.1 720.3L660.4 720.3L660.4 749.0L660.6 749.0L660.6 720.3M661.6 720.3L664.3 720.3L664.3 749.0L664.6 749.0L664.6 720.3M664.5 720.3L666.5 720.3L666.5 749.0L666.7 749.0L666.7 720.3M666.7 720.3L668.9 720.3L668.9 749.0L669.1 749.0L669.1 720.3M669.3 720.3L671.7 720.3L671.7 749.0L672.0 749.0L672.0 720.3M672.2 720.3L674.8 720.3L674.8 749.0L675.1 749.0L675.1 720.3M674.7 720.3L676.8 720.3L676.8 749.0L677.0 749.0L677.0 720.3M678.3 720.3L681.1 720.3L681.1 749.0L681.4 749.0L681.4 720.3M680.3 720.3L682.6 720.3L682.6 749.0L682.9 749.0L682.9 720.3M683.8 720.3L686.5 720.3L686.5 749.0L686.9 749.0L686.9 720.3M685.9 720.3L688.7 720.3L688.7 749.0L689.0 749.0L689.0 720.3M689.0 720.3L691.0 720.3L691.0 749.0L691.3 749.0L691.3 720.3M691.6 720.3L694.4 720.3L694.4 749.0L694.7 749.0L694.7 720.3M694.6 720.3L697.4 720.3L697.4 749.0L697.7 749.0L697.7 720.3M697.1 720.3L699.9 720.3L699.9 749.0L700.3 749.0L700.3 720.3M699.9 720.3L702.5 720.3L702.5 749.0L702.8 749.0L702.8 720.3M702.4 720.3L704.7 720.3L704.7 749.0L705.0 749.0L705.0 720.3M705.5 720.3L707.7 720.3L707.7 749.0L707.9 749.0L707.9 720.3M708.1 720.3L710.2 720.3L710.2 749.0L710.4 749.0L710.4 720.3M711.1 720.3L713.6 720.3L713.6 749.0L713.9 749.0L713.9 720.3M714.0 720.3L716.4 720.3L716.4 749.0L716.7 749.0L716.7 720.3M716.5 720.3L718.6 720.3L718.6 749.0L718.8 749.0L718.8 720.3M719.1 720.3L721.6 720.3L721.6 749.0L721.9 749.0L721.9 720.3M722.1 720.3L724.7 720.3L724.7 749.0L725.0 749.0L725.0 720.3M725.0 720.3L727.8 720.3L727.8 749.0L728.1 749.0L728.1 720.3M727.4 720.3L730.1 720.3L730.1 749.0L730.4 749.0L730.4 720.3M730.0 720.3L732.1 720.3L732.1 749.0L732.3 749.0L732.3 720.3M733.2 720.3L735.6 720.3L735.6 749.0L735.8 749.0L735.8 720.3M736.1 720.3L738.5 720.3L738.5 749.0L738.8 749.0L738.8 720.3M738.1 720.3L740.5 720.3L740.5 749.0L740.8 749.0L740.8 720.3M740.8 720.3L743.1 720.3L743.1 749.0L743.4 749.0L743.4 720.3M743.9 720.3L746.1 720.3L746.1 749.0L746.3 749.0L746.3 720.3M747.0 720.3L749.8 720.3L749.8 749.0L750.1 749.0L750.1 720.3M749.5 720.3L752.0 720.3L752.0 749.0L752.2 749.0L752.2 720.3M752.3 720.3L754.9 720.3L754.9 749.0L755.1 749.0L755.1 720.3M755.3 720.3L757.4 720.3L757.4 749.0L757.7 749.0L757.7 720.3M757.5 720.3L759.8 720.3L759.8 749.0L760.1 749.0L760.1 720.3M760.8 720.3L763.5 720.3L763.5 749.0L763.8 749.0L763.8 720.3M762.8 720.3L765.0 720.3L765.0 749.0L765.2 749.0L765.2 720.3M765.7 720.3L768.3 720.3L768.3 749.0L768.6 749.0L768.6 720.3M768.3 720.3L770.8 720.3L770.8 749.0L771.1 749.0L771.1 720.3M771.4 720.3L773.9 720.3L773.9 749.0L774.2 749.0L774.2 720.3M774.4 720.3L776.7 720.3L776.7 749.0L776.9 749.0L776.9 720.3M777.2 720.3L780.0 720.3L780.0 749.0L780.3 749.0L780.3 720.3M779.4 720.3L781.7 720.3L781.7 749.0L782.0 749.0L782.0 720.3M782.9 720.3L785.1 720.3L785.1 749.0L785.3 749.0L785.3 720.3M785.3 720.3L787.4 720.3L787.4 749.0L787.7 749.0L787.7 720.3M787.7 720.3L789.9 720.3L789.9 749.0L790.1 749.0L790.1 720.3M790.5 720.3L793.3 720.3L793.3 749.0L793.6 749.0L793.6 720.3M794.0 720.3L796.4 720.3L796.4 749.0L796.7 749.0L796.7 720.3M796.7 720.3L799.5 720.3L799.5 749.0L799.8 749.0L799.8 720.3M798.9 720.3L801.1 720.3L801.1 749.0L801.3 749.0L801.3 720.3M801.5 720.3L804.2 720.3L804.2 749.0L804.5 749.0L804.5 720.3M804.7 720.3L807.0 720.3L807.0 749.0L807.2 749.0L807.2 720.3M807.0 720.3L809.6 720.3L809.6 749.0L809.9 749.0L809.9 720.3M810.6 720.3L813.3 720.3L813.3 749.0L813.6 749.0L813.6 720.3M813.1 720.3L815.7 720.3L815.7 749.0L816.0 749.0L816.0 720.3M815.9 720.3L818.4 720.3L818.4 749.0L818.7 749.0L818.7 720.3M818.2 720.3L820.9 720.3L820.9 749.0L821.2 749.0L821.2 720.3M821.5 720.3L824.4 720.3L824.4 749.0L824.7 749.0L824.7 720.3M823.9 720.3L826.0 720.3L826.0 749.0L826.2 749.0L826.2 720.3M826.7 720.3L828.9 720.3L828.9 749.0L829.2 749.0L829.2 720.3M829.9 720.3L832.0 720.3L832.0 749.0L832.3 749.0L832.3 720.3M831.8 720.3L834.3 720.3L834.3 749.0L834.5 749.0L834.5 720.3M835.3 720.3L837.9 720.3L837.9 749.0L838.2 749.0L838.2 720.3M837.3 720.3L840.0 720.3L840.0 749.0L840.3 749.0L840.3 720.3M840.6 720.3L843.3 720.3L843.3 749.0L843.6 749.0L843.6 720.3M843.1 720.3L845.6 720.3L845.6 749.0L845.9 749.0L845.9 720.3M846.4 720.3L848.9 720.3L848.9 749.0L849.1 749.0L849.1 720.3M848.5 720.3L850.5 720.3L850.5 749.0L850.7 749.0L850.7 720.3M851.5 720.3L853.6 720.3L853.6 749.0L853.8 749.0L853.8 720.3M854.3 720.3L856.8 720.3L856.8 749.0L857.1 749.0L857.1 720.3M857.3 720.3L859.5 720.3L859.5 749.0L859.7 749.0L859.7 720.3M860.0 720.3L862.5 720.3L862.5 749.0L862.8 749.0L862.8 720.3M862.5 720.3L864.7 720.3L864.7 749.0L865.0 749.0L865.0 720.3M865.1 720.3L867.6 720.3L867.6 749.0L867.9 749.0L867.9 720.3M867.9 720.3L870.5 720.3L870.5 749.0L870.8 749.0L870.8 720.3M870.4 720.3L872.5 720.3L872.5 749.0L872.7 749.0L872.7 720.3M873.4 720.3L875.6 720.3L875.6 749.0L875.9 749.0L875.9 720.3M875.9 720.3L878.4 720.3L878.4 749.0L878.7 749.0L878.7 720.3M878.9 720.3L881.3 720.3L881.3 749.0L881.6 749.0L881.6 720.3M882.1 720.3L885.0 720.3L885.0 749.0L885.3 749.0L885.3 720.3M884.5 720.3L886.6 720.3L886.6 749.0L886.9 749.0L886.9 720.3M887.1 720.3L889.3 720.3L889.3 749.0L889.5 749.0L889.5 720.3M890.6 720.3L893.3 720.3L893.3 749.0L893.6 749.0L893.6 720.3M892.5 720.3L894.5 720.3L894.5 749.0L894.8 749.0L894.8 720.3M895.6 720.3L898.0 720.3L898.0 749.0L898.3 749.0L898.3 720.3M898.0 720.3L900.7 720.3L900.7 749.0L901.0 749.0L901.0 720.3M901.4 720.3L903.9 720.3L903.9 749.0L904.2 749.0L904.2 720.3M904.1 720.3L906.4 720.3L906.4 749.0L906.6 749.0L906.6 720.3M906.4 720.3L908.7 720.3L908.7 749.0L909.0 749.0L909.0 720.3M909.5 720.3L912.3 720.3L912.3 749.0L912.6 749.0L912.6 720.3M912.3 720.3L915.2 720.3L915.2 749.0L915.5 749.0L915.5 720.3M914.5 720.3L917.0 720.3L917.0 749.0L917.3 749.0L917.3 720.3M917.5 720.3L920.1 720.3L920.1 749.0L920.4 749.0L920.4 720.3M920.5 720.3L923.1 720.3L923.1 749.0L923.4 749.0L923.4 720.3M923.2 720.3L925.3 720.3L925.3 749.0L925.5 749.0L925.5 720.3M925.8 720.3L927.9 720.3L927.9 749.0L928.1 749.0L928.1 720.3M928.8 720.3L930.8 720.3L930.8 749.0L931.0 749.0L931.0 720.3M931.4 720.3L933.9 720.3L933.9 749.0L934.2 749.0L934.2 720.3M934.0 720.3L936.2 720.3L936.2 749.0L936.5 749.0L936.5 720.3M936.9 720.3L939.8 720.3L939.8 749.0L940.1 749.0L940.1 720.3M940.0 720.3L942.6 720.3L942.6 749.0L942.8 749.0L942.8 720.3M942.1 720.3L944.7 720.3L944.7 749.0L945.0 749.0L945.0 720.3M945.5 720.3L947.6 720.3L947.6 749.0L947.9 749.0L947.9 720.3M947.8 720.3L950.5 720.3L950.5 749.0L950.8 749.0L950.8 720.3M950.8 720.3L953.2 720.3L953.2 749.0L953.5 749.0L953.5 720.3M953.8 720.3L956.5 720.3L956.5 749.0L956.7 749.0L956.7 720.3M955.8 720.3L957.8 720.3L957.8 749.0L958.0 749.0L958.0 720.3M959.1 720.3L961.9 720.3L961.9 749.0L962.2 749.0L962.2 720.3M962.2 720.3L964.5 720.3L964.5 749.0L964.7 749.0L964.7 720.3M964.4 720.3L966.7 720.3L966.7 749.0L966.9 749.0L966.9 720.3M966.8 720.3L969.0 720.3L969.0 749.0L969.2 749.0L969.2 720.3M969.6 720.3L972.4 720.3L972.4 749.0L972.7 749.0L972.7 720.3M973.0 720.3L975.7 720.3L975.7 749.0L976.0 749.0L976.0 720.3M975.0 720.3L977.6 720.3L977.6 749.0L977.8 749.0L977.8 720.3M978.6 720.3L980.7 720.3L980.7 749.0L981.0 749.0L981.0 720.3M980.8 720.3L983.2 720.3L983.2 749.0L983.5 749.0L983.5 720.3M984.0 720.3L986.2 720.3L986.2 749.0L986.4 749.0L986.4 720.3M986.1 720.3L988.5 720.3L988.5 749.0L988.8 749.0L988.8 720.3M988.9 720.3L991.1 720.3L991.1 749.0L991.3 749.0L991.3 720.3M992.2 720.3L994.9 720.3L994.9 749.0L995.2 749.0L995.2 720.3M994.4 720.3L997.2 720.3L997.2 749.0L997.5 749.0L997.5 720.3M997.2 720.3L999.3 720.3L999.3 749.0L999.5 749.0L999.5 720.3M1000.6 720.3L1003.2 720.3L1003.2 749.0L1003.4 749.0L1003.4 720.3M1003.1 720.3L1005.2 720.3L1005.2 749.0L1005.4 749.0L1005.4 720.3M1006.0 720.3L1008.8 720.3L1008.8 749.0L1009.1 749.0L1009.1 720.3M1008.9 720.3L1011.6 720.3L1011.6 749.0L1011.9 749.0L1011.9 720.3M1010.8 720.3L1013.5 720.3L1013.5 749.0L1013.7 749.0L1013.7 720.3M1013.7 720.3L1016.4 720.3L1016.4 749.0L1016.7 749.0L1016.7 720.3M1016.9 720.3L1019.7 720.3L1019.7 749.0L1020.0 749.0L1020.0 720.3M1019.7 720.3L1022.2 720.3L1022.2 749.0L1022.5 749.0L1022.5 720.3M1022.1 720.3L1024.3 720.3L1024.3 749.0L1024.6 749.0L1024.6 720.3M1024.9 720.3L1027.3 720.3L1027.3 749.0L1027.5 749.0L1027.5 720.3M1027.7 720.3L1030.2 720.3L1030.2 749.0L1030.5 749.0L1030.5 720.3M1030.4 720.3L1032.7 720.3L1032.7 749.0L1032.9 749.0L1032.9 720.3M1033.1 720.3L1035.8 720.3L1035.8 749.0L1036.1 749.0L1036.1 720.3M1035.5 720.3L1038.2 720.3L1038.2 749.0L1038.4 749.0L1038.4 720.3M1039.2 720.3L1042.0 720.3L1042.0 749.0L1042.3 749.0L1042.3 720.3M1041.5 720.3L1044.0 720.3L1044.0 749.0L1044.3 749.0L1044.3 720.3M1044.8 720.3L1047.4 720.3L1047.4 749.0L1047.6 749.0L1047.6 720.3M1046.8 720.3L1049.1 720.3L1049.1 749.0L1049.3 749.0L1049.3 720.3M1049.6 720.3L1052.3 720.3L1052.3 749.0L1052.6 749.0L1052.6 720.3M1052.2 720.3L1054.4 720.3L1054.4 749.0L1054.6 749.0L1054.6 720.3M1055.1 720.3L1057.9 720.3L1057.9 749.0L1058.2 749.0L1058.2 720.3M1057.9 720.3L1060.5 720.3L1060.5 749.0L1060.8 749.0L1060.8 720.3M1060.8 720.3L1063.1 720.3L1063.1 749.0L1063.3 749.0L1063.3 720.3M1063.1 720.3L1065.2 720.3L1065.2 749.0L1065.4 749.0L1065.4 720.3M1066.4 720.3L1068.8 720.3L1068.8 749.0L1069.1 749.0L1069.1 720.3M1069.1 720.3L1071.1 720.3L1071.1 749.0L1071.4 749.0L1071.4 720.3M1071.7 720.3L1073.9 720.3L1073.9 749.0L1074.1 749.0L1074.1 720.3M1074.5 720.3L1076.8 720.3L1076.8 749.0L1077.1 749.0L1077.1 720.3M1077.4 720.3L1080.1 720.3L1080.1 749.0L1080.4 749.0L1080.4 720.3M1080.3 720.3L1083.0 720.3L1083.0 749.0L1083.3 749.0L1083.3 720.3M1082.8 720.3L1085.4 720.3L1085.4 749.0L1085.7 749.0L1085.7 720.3M1085.2 720.3L1087.6 720.3L1087.6 749.0L1087.8 749.0L1087.8 720.3M1088.6 720.3L1091.2 720.3L1091.2 749.0L1091.5 749.0L1091.5 720.3M1091.5 720.3L1093.9 720.3L1093.9 749.0L1094.2 749.0L1094.2 720.3M1094.1 720.3L1096.9 720.3L1096.9 749.0L1097.2 749.0L1097.2 720.3M1096.7 720.3L1099.5 720.3L1099.5 749.0L1099.8 749.0L1099.8 720.3M1099.1 720.3L1101.1 720.3L1101.1 749.0L1101.4 749.0L1101.4 720.3M1102.0 720.3L1104.3 720.3L1104.3 749.0L1104.6 749.0L1104.6 720.3M1104.6 720.3L1107.0 720.3L1107.0 749.0L1107.3 749.0L1107.3 720.3M1107.2 720.3L1109.6 720.3L1109.6 749.0L1109.8 749.0L1109.8 720.3M1110.3 720.3L1113.0 720.3L1113.0 749.0L1113.3 749.0L1113.3 720.3M1113.1 720.3L1115.3 720.3L1115.3 749.0L1115.5 749.0L1115.5 720.3M1116.1 720.3L1118.3 720.3L1118.3 749.0L1118.5 749.0L1118.5 720.3M1118.6 720.3L1121.4 720.3L1121.4 749.0L1121.7 749.0L1121.7 720.3M1121.2 720.3L1123.9 720.3L1123.9 749.0L1124.2 749.0L1124.2 720.3M1124.4 720.3L1126.5 720.3L1126.5 749.0L1126.7 749.0L1126.7 720.3M1127.0 720.3L1129.7 720.3L1129.7 749.0L1130.0 749.0L1130.0 720.3M1129.8 720.3L1132.0 720.3L1132.0 749.0L1132.3 749.0L1132.3 720.3M1132.4 720.3L1135.0 720.3L1135.0 749.0L1135.3 749.0L1135.3 720.3M1135.6 720.3L1137.6 720.3L1137.6 749.0L1137.8 749.0L1137.8 720.3M1138.2 720.3L1141.0 720.3L1141.0 749.0L1141.3 749.0L1141.3 720.3M1141.2 720.3L1143.2 720.3L1143.2 749.0L1143.5 749.0L1143.5 720.3M1143.5 720.3L1146.2 720.3L1146.2 749.0L1146.5 749.0L1146.5 720.3M1146.1 720.3L1148.9 720.3L1148.9 749.0L1149.2 749.0L1149.2 720.3M1149.0 720.3L1151.7 720.3L1151.7 749.0L1152.0 749.0L1152.0 720.3M1151.5 720.3L1154.0 720.3L1154.0 749.0L1154.3 749.0L1154.3 720.3M1154.9 720.3L1157.1 720.3L1157.1 749.0L1157.3 749.0L1157.3 720.3M1157.0 720.3L1159.6 720.3L1159.6 749.0L1159.9 749.0L1159.9 720.3M1160.1 720.3L1162.5 720.3L1162.5 749.0L1162.7 749.0L1162.7 720.3M1162.8 720.3L1165.5 720.3L1165.5 749.0L1165.8 749.0L1165.8 720.3M1165.4 720.3L1167.4 720.3L1167.4 749.0L1167.6 749.0L1167.6 720.3M1168.6 720.3L1170.9 720.3L1170.9 749.0L1171.1 749.0L1171.1 720.3M1170.4 720.3L1173.1 720.3L1173.1 749.0L1173.4 749.0L1173.4 720.3M1173.9 720.3L1176.6 720.3L1176.6 749.0L1176.9 749.0L1176.9 720.3M1176.9 720.3L1179.2 720.3L1179.2 749.0L1179.4 749.0L1179.4 720.3M1179.2 720.3L1181.6 720.3L1181.6 749.0L1181.8 749.0L1181.8 720.3M1182.2 720.3L1184.4 720.3L1184.4 749.0L1184.6 749.0L1184.6 720.3M1184.9 720.3L1186.9 720.3L1186.9 749.0L1187.2 749.0L1187.2 720.3M1187.4 720.3L1189.6 720.3L1189.6 749.0L1189.8 749.0L1189.8 720.3M1190.1 720.3L1192.6 720.3L1192.6 749.0L1192.9 749.0L1192.9 720.3M1192.9 720.3L1194.9 720.3L1194.9 749.0L1195.1 749.0L1195.1 720.3M1196.2 720.3L1198.6 720.3L1198.6 749.0L1198.9 749.0L1198.9 720.3M1198.8 720.3L1201.4 720.3L1201.4 749.0L1201.7 749.0L1201.7 720.3M1201.6 720.3L1204.1 720.3L1204.1 749.0L1204.4 749.0L1204.4 720.3M1203.7 720.3L1206.5 720.3L1206.5 749.0L1206.8 749.0L1206.8 720.3M1207.0 720.3L1209.2 720.3L1209.2 749.0L1209.5 749.0L1209.5 720.3M1209.7 720.3L1212.0 720.3L1212.0 749.0L1212.2 749.0L1212.2 720.3M1212.6 720.3L1215.1 720.3L1215.1 749.0L1215.4 749.0L1215.4 720.3M1215.3 720.3L1217.3 720.3L1217.3 749.0L1217.5 749.0L1217.5 720.3M1217.9 720.3L1219.9 720.3L1219.9 749.0L1220.2 749.0L1220.2 720.3M1220.8 720.3L1223.6 720.3L1223.6 749.0L1223.9 749.0L1223.9 720.3M1222.9 720.3L1225.7 720.3L1225.7 749.0L1226.0 749.0L1226.0 720.3M1226.4 720.3L1228.6 720.3L1228.6 749.0L1228.8 749.0L1228.8 720.3M1229.0 720.3L1231.7 720.3L1231.7 749.0L1232.0 749.0L1232.0 720.3M1231.5 720.3L1234.1 720.3L1234.1 749.0L1234.4 749.0L1234.4 720.3M1234.3 720.3L1236.5 720.3L1236.5 749.0L1236.7 749.0L1236.7 720.3M1237.6 720.3L1240.2 720.3L1240.2 749.0L1240.5 749.0L1240.5 720.3M1239.9 720.3L1241.8 720.3L1241.8 749.0L1242.1 749.0L1242.1 720.3M1242.9 720.3L1245.6 720.3L1245.6 749.0L1245.9 749.0L1245.9 720.3M1245.6 720.3L1248.1 720.3L1248.1 749.0L1248.4 749.0L1248.4 720.3M1248.2 720.3L1250.2 720.3L1250.2 749.0L1250.5 749.0L1250.5 720.3M1251.1 720.3L1253.4 720.3L1253.4 749.0L1253.7 749.0L1253.7 720.3M1253.4 720.3L1255.4 720.3L1255.4 749.0L1255.6 749.0L1255.6 720.3M1256.6 720.3L1259.0 720.3L1259.0 749.0L1259.2 749.0L1259.2 720.3M1259.1 720.3L1261.3 720.3L1261.3 749.0L1261.5 749.0L1261.5 720.3M1262.1 720.3L1264.9 720.3L1264.9 749.0L1265.2 749.0L1265.2 720.3M1264.6 720.3L1266.6 720.3L1266.6 749.0L1266.9 749.0L1266.9 720.3M1267.7 720.3L1270.4 720.3L1270.4 749.0L1270.7 749.0L1270.7 720.3M1270.1 720.3L1272.3 720.3L1272.3 749.0L1272.6 749.0L1272.6 720.3M1272.9 720.3L1275.4 720.3L1275.4 749.0L1275.6 749.0L1275.6 720.3M1276.0 720.3L1278.0 720.3L1278.0 749.0L1278.2 749.0L1278.2 720.3M1278.1 720.3L1280.7 720.3L1280.7 749.0L1281.0 749.0L1281.0 720.3M1281.6 720.3L1284.0 720.3L1284.0 749.0L1284.2 749.0L1284.2 720.3M1283.9 720.3L1286.5 720.3L1286.5 749.0L1286.8 749.0L1286.8 720.3M1287.1 720.3L1289.5 720.3L1289.5 749.0L1289.5 749.0L1289.5 720.3" stroke="#3438a3" stroke-opacity="0.2" stroke-width="0.6" stroke-linejoin="round"/>
<path d="M463.2 749.0L463.4 738.0L463.6 736.4L464.2 726.0L464.5 724.9L464.7 732.6L464.8 744.9L465.1 749.0L465.4 749.0M465.9 749.0L466.2 738.6L466.5 737.0L467.3 727.1L467.8 726.0L468.1 733.3L468.2 745.1L468.5 749.0L469.0 749.0M471.0 749.0L471.2 738.7L471.5 737.2L472.1 727.4L472.5 726.4L472.7 733.6L472.9 745.1L473.1 749.0L473.5 749.0M476.6 749.0L476.9 737.8L477.2 736.1L478.0 725.5L478.5 724.4L478.8 732.2L479.0 744.8L479.3 749.0L479.7 749.0M479.2 749.0L479.5 738.9L479.8 737.4L480.4 727.8L480.8 726.8L481.1 733.8L481.2 745.2L481.4 749.0L481.8 749.0M485.4 749.0L485.7 737.9L486.0 736.3L486.8 725.8L487.2 724.7L487.5 732.4L487.7 744.9L488.0 749.0L488.4 749.0M487.9 749.0L488.2 739.2L488.5 737.7L489.2 728.3L489.7 727.4L490.0 734.2L490.1 745.3L490.4 749.0L490.9 749.0M491.0 749.0L491.2 738.7L491.5 737.1L492.2 727.3L492.6 726.3L492.9 733.5L493.0 745.1L493.3 749.0L493.7 749.0M493.0 749.0L493.3 738.4L493.5 736.8L494.2 726.7L494.7 725.6L495.0 733.1L495.1 745.0L495.4 749.0L495.8 749.0M496.7 749.0L497.0 738.6L497.3 737.0L498.0 727.2L498.5 726.1L498.8 733.4L499.0 745.1L499.3 749.0L499.7 749.0M499.2 749.0L499.4 739.2L499.6 737.7L500.2 728.4L500.6 727.4L500.8 734.3L501.0 745.3L501.2 749.0L501.6 749.0M501.5 749.0L501.7 739.3L502.0 737.9L502.6 728.7L503.0 727.7L503.2 734.5L503.3 745.4L503.6 749.0L503.9 749.0M504.4 749.0L504.6 739.0L504.9 737.5L505.5 728.1L505.9 727.1L506.2 734.0L506.3 745.3L506.6 749.0L507.0 749.0M507.3 749.0L507.6 738.0L507.8 736.3L508.6 725.9L509.0 724.8L509.3 732.5L509.5 744.9L509.7 749.0L510.2 749.0M510.1 749.0L510.4 739.3L510.7 737.9L511.4 728.6L511.8 727.7L512.1 734.5L512.2 745.4L512.5 749.0L512.9 749.0M512.3 749.0L512.6 737.6L512.9 735.9L513.6 725.0L514.0 723.9L514.3 731.9L514.4 744.7L514.7 749.0L515.2 749.0M515.7 749.0L515.9 738.3L516.2 736.6L517.0 726.4L517.4 725.4L517.7 732.9L517.8 745.0L518.1 749.0L518.5 749.0M517.8 749.0L518.0 739.2L518.2 737.8L518.8 728.5L519.1 727.5L519.3 734.4L519.4 745.3L519.7 749.0L520.0 749.0M520.9 749.0L521.2 739.1L521.5 737.7L522.1 728.3L522.5 727.3L522.8 734.2L522.9 745.3L523.2 749.0L523.6 749.0M523.4 749.0L523.7 738.9L524.0 737.3L524.7 727.7L525.1 726.7L525.4 733.8L525.6 745.2L525.9 749.0L526.3 749.0M529.4 749.0L529.6 738.0L529.9 736.4L530.4 725.9L530.8 724.8L531.0 732.5L531.1 744.9L531.4 749.0L531.7 749.0M531.6 749.0L531.8 737.8L532.0 736.2L532.6 725.5L532.9 724.4L533.2 732.2L533.3 744.8L533.5 749.0L533.8 749.0M534.3 749.0L534.6 737.8L534.9 736.1L535.6 725.5L536.1 724.3L536.4 732.2L536.5 744.8L536.8 749.0L537.2 749.0M536.9 749.0L537.1 739.3L537.3 737.9L537.9 728.7L538.3 727.7L538.5 734.5L538.7 745.4L538.9 749.0L539.3 749.0M539.7 749.0L539.9 738.1L540.2 736.5L540.9 726.2L541.3 725.1L541.6 732.7L541.7 744.9L542.0 749.0L542.4 749.0M542.5 749.0L542.7 739.1L543.0 737.6L543.6 728.2L543.9 727.2L544.1 734.1L544.2 745.3L544.5 749.0L544.8 749.0M545.7 749.0L546.0 738.2L546.3 736.5L547.0 726.2L547.4 725.1L547.7 732.7L547.8 744.9L548.1 749.0L548.5 749.0M547.9 749.0L548.2 739.3L548.5 737.9L549.3 728.7L549.7 727.7L550.0 734.5L550.2 745.4L550.5 749.0L550.9 749.0M556.5 749.0L556.8 738.9L557.1 737.4L557.9 727.8L558.3 726.8L558.6 733.9L558.7 745.2L559.0 749.0L559.5 749.0M559.6 749.0L559.9 738.0L560.1 736.3L560.7 725.8L561.1 724.7L561.3 732.4L561.5 744.9L561.7 749.0L562.1 749.0M562.1 749.0L562.4 738.7L562.6 737.1L563.3 727.3L563.7 726.2L563.9 733.5L564.0 745.1L564.3 749.0L564.7 749.0M564.7 749.0L564.9 737.8L565.1 736.1L565.7 725.4L566.0 724.3L566.3 732.1L566.4 744.8L566.6 749.0L566.9 749.0M568.1 749.0L568.3 738.9L568.5 737.4L569.1 727.8L569.4 726.8L569.6 733.9L569.8 745.2L570.0 749.0L570.3 749.0M570.6 749.0L570.9 738.5L571.2 736.9L571.9 727.0L572.3 725.9L572.6 733.3L572.8 745.1L573.0 749.0L573.5 749.0M575.6 749.0L575.8 739.1L576.0 737.7L576.6 728.3L576.9 727.3L577.2 734.2L577.3 745.3L577.5 749.0L577.9 749.0M578.9 749.0L579.2 737.6L579.5 735.9L580.2 725.1L580.6 724.0L580.9 732.0L581.0 744.7L581.3 749.0L581.7 749.0M584.4 749.0L584.6 737.8L584.8 736.1L585.4 725.4L585.8 724.3L586.0 732.2L586.1 744.8L586.3 749.0L586.7 749.0M586.7 749.0L586.9 738.9L587.2 737.4L587.8 727.8L588.1 726.8L588.4 733.9L588.5 745.2L588.7 749.0L589.1 749.0M589.3 749.0L589.6 739.2L589.8 737.7L590.4 728.4L590.8 727.4L591.0 734.3L591.2 745.3L591.4 749.0L591.8 749.0M592.5 749.0L592.7 738.0L592.9 736.4L593.5 725.9L593.9 724.8L594.1 732.5L594.2 744.9L594.4 749.0L594.8 749.0M595.4 749.0L595.7 739.0L596.0 737.5L596.7 728.0L597.1 727.0L597.4 734.0L597.6 745.2L597.8 749.0L598.3 749.0M597.9 749.0L598.1 737.5L598.4 735.8L599.1 725.0L599.5 723.8L599.7 731.8L599.9 744.7L600.1 749.0L600.5 749.0M606.1 749.0L606.4 738.2L606.7 736.6L607.4 726.4L607.8 725.3L608.1 732.9L608.2 745.0L608.5 749.0L609.0 749.0M611.8 749.0L612.0 737.7L612.3 736.0L612.9 725.3L613.2 724.1L613.5 732.0L613.6 744.8L613.8 749.0L614.2 749.0M614.5 749.0L614.7 737.7L615.0 736.0L615.5 725.3L615.9 724.1L616.1 732.1L616.2 744.8L616.4 749.0L616.8 749.0M617.1 749.0L617.4 738.6L617.6 737.0L618.2 727.1L618.5 726.0L618.8 733.3L618.9 745.1L619.1 749.0L619.5 749.0M620.1 749.0L620.4 738.3L620.7 736.7L621.5 726.5L621.9 725.4L622.2 732.9L622.4 745.0L622.7 749.0L623.2 749.0M622.5 749.0L622.9 739.3L623.2 737.9L623.9 728.7L624.4 727.7L624.7 734.5L624.9 745.4L625.2 749.0L625.7 749.0M625.5 749.0L625.8 738.4L626.1 736.8L626.9 726.8L627.3 725.7L627.6 733.1L627.8 745.0L628.1 749.0L628.6 749.0M628.2 749.0L628.5 738.2L628.7 736.6L629.3 726.4L629.7 725.3L629.9 732.8L630.0 745.0L630.3 749.0L630.6 749.0M631.0 749.0L631.2 737.5L631.5 735.8L632.2 724.9L632.6 723.7L632.8 731.8L633.0 744.7L633.2 749.0L633.6 749.0M634.0 749.0L634.2 738.8L634.5 737.2L635.1 727.5L635.5 726.5L635.8 733.6L635.9 745.2L636.2 749.0L636.6 749.0M636.7 749.0L636.9 739.3L637.2 737.9L637.8 728.7L638.2 727.7L638.5 734.5L638.6 745.4L638.8 749.0L639.2 749.0M641.9 749.0L642.1 738.3L642.4 736.7L643.2 726.6L643.6 725.5L643.9 733.0L644.0 745.0L644.3 749.0L644.7 749.0M650.4 749.0L650.7 738.9L650.9 737.4L651.5 727.8L651.8 726.8L652.1 733.9L652.2 745.2L652.4 749.0L652.8 749.0M653.1 749.0L653.4 738.6L653.7 737.0L654.5 727.2L655.0 726.1L655.3 733.4L655.4 745.1L655.7 749.0L656.2 749.0M656.5 749.0L656.7 737.6L656.9 735.9L657.6 725.1L657.9 723.9L658.2 731.9L658.3 744.7L658.5 749.0L658.9 749.0M658.2 749.0L658.5 739.3L658.8 737.8L659.6 728.6L660.0 727.6L660.4 734.4L660.5 745.3L660.8 749.0L661.3 749.0M664.5 749.0L664.8 738.6L665.1 737.0L665.7 727.1L666.1 726.1L666.4 733.4L666.6 745.1L666.8 749.0L667.2 749.0M666.9 749.0L667.2 738.2L667.5 736.5L668.1 726.2L668.5 725.1L668.8 732.7L668.9 744.9L669.2 749.0L669.6 749.0M672.3 749.0L672.6 737.6L672.8 735.9L673.4 725.0L673.8 723.9L674.0 731.9L674.1 744.7L674.4 749.0L674.7 749.0M678.0 749.0L678.2 738.9L678.5 737.4L679.1 727.8L679.5 726.8L679.7 733.9L679.9 745.2L680.1 749.0L680.5 749.0M680.4 749.0L680.7 739.2L681.0 737.8L681.7 728.5L682.2 727.5L682.5 734.3L682.6 745.3L682.9 749.0L683.3 749.0M683.6 749.0L683.9 738.1L684.2 736.5L685.0 726.2L685.4 725.1L685.7 732.7L685.9 744.9L686.2 749.0L686.6 749.0M688.7 749.0L689.0 737.6L689.3 735.9L690.1 725.1L690.5 723.9L690.8 731.9L691.0 744.7L691.3 749.0L691.7 749.0M691.7 749.0L691.9 737.6L692.2 735.9L692.8 725.1L693.1 723.9L693.4 731.9L693.5 744.7L693.7 749.0L694.1 749.0M694.7 749.0L695.0 737.7L695.2 736.0L695.8 725.3L696.2 724.1L696.4 732.1L696.6 744.8L696.8 749.0L697.2 749.0M697.2 749.0L697.5 738.1L697.8 736.5L698.5 726.2L699.0 725.1L699.3 732.7L699.4 744.9L699.7 749.0L700.2 749.0M708.1 749.0L708.4 738.6L708.6 737.0L709.2 727.1L709.5 726.0L709.8 733.3L709.9 745.1L710.1 749.0L710.5 749.0M710.8 749.0L711.1 738.1L711.3 736.5L711.9 726.1L712.2 725.1L712.5 732.7L712.6 744.9L712.8 749.0L713.2 749.0M714.2 749.0L714.5 737.9L714.8 736.3L715.5 725.8L716.0 724.7L716.3 732.4L716.5 744.9L716.8 749.0L717.2 749.0M716.8 749.0L717.1 738.1L717.4 736.4L718.2 726.0L718.6 724.9L719.0 732.6L719.1 744.9L719.4 749.0L719.9 749.0M719.2 749.0L719.5 738.8L719.7 737.3L720.3 727.6L720.7 726.6L720.9 733.7L721.1 745.2L721.3 749.0L721.7 749.0M722.2 749.0L722.6 737.8L722.9 736.1L723.6 725.5L724.1 724.4L724.4 732.2L724.5 744.8L724.8 749.0L725.3 749.0M724.9 749.0L725.2 739.3L725.5 737.9L726.1 728.7L726.6 727.7L726.8 734.5L727.0 745.4L727.2 749.0L727.6 749.0M727.3 749.0L727.5 739.2L727.7 737.8L728.3 728.5L728.6 727.5L728.9 734.3L729.0 745.3L729.2 749.0L729.5 749.0M733.1 749.0L733.4 737.5L733.6 735.8L734.1 724.9L734.5 723.8L734.7 731.8L734.8 744.7L735.0 749.0L735.4 749.0M738.2 749.0L738.5 738.8L738.7 737.2L739.4 727.5L739.8 726.5L740.0 733.7L740.2 745.2L740.4 749.0L740.8 749.0M740.7 749.0L740.9 739.3L741.2 737.8L741.7 728.5L742.1 727.6L742.3 734.4L742.4 745.3L742.7 749.0L743.0 749.0M747.1 749.0L747.3 738.0L747.6 736.4L748.2 725.9L748.6 724.8L748.8 732.5L749.0 744.9L749.2 749.0L749.6 749.0M749.6 749.0L749.8 737.7L750.1 735.9L750.8 725.2L751.2 724.0L751.5 732.0L751.6 744.7L751.9 749.0L752.3 749.0M755.3 749.0L755.6 737.9L755.9 736.2L756.6 725.7L757.0 724.6L757.3 732.3L757.5 744.8L757.8 749.0L758.2 749.0M760.9 749.0L761.1 738.9L761.4 737.4L762.0 727.9L762.3 726.9L762.5 733.9L762.6 745.2L762.9 749.0L763.2 749.0M763.0 749.0L763.2 739.1L763.5 737.6L764.1 728.2L764.4 727.2L764.7 734.2L764.8 745.3L765.0 749.0L765.4 749.0M765.4 749.0L765.7 738.2L765.9 736.6L766.5 726.3L766.9 725.2L767.1 732.8L767.3 744.9L767.5 749.0L767.9 749.0M768.5 749.0L768.8 738.4L769.0 736.8L769.8 726.7L770.2 725.6L770.5 733.1L770.6 745.0L770.9 749.0L771.4 749.0M774.4 749.0L774.7 738.2L775.0 736.6L775.8 726.4L776.3 725.3L776.6 732.8L776.7 745.0L777.0 749.0L777.5 749.0M777.0 749.0L777.2 738.1L777.5 736.5L778.1 726.2L778.5 725.1L778.7 732.7L778.8 744.9L779.1 749.0L779.5 749.0M783.2 749.0L783.5 737.9L783.7 736.2L784.3 725.7L784.7 724.6L785.0 732.3L785.1 744.8L785.3 749.0L785.7 749.0M785.4 749.0L785.6 739.3L785.9 737.8L786.6 728.5L787.0 727.6L787.3 734.4L787.5 745.3L787.7 749.0L788.2 749.0M790.8 749.0L791.1 738.5L791.3 736.9L791.9 727.0L792.3 725.9L792.5 733.3L792.6 745.1L792.8 749.0L793.2 749.0M796.7 749.0L796.9 737.9L797.2 736.3L797.7 725.8L798.1 724.7L798.3 732.4L798.4 744.8L798.7 749.0L799.0 749.0M801.3 749.0L801.6 738.8L801.9 737.2L802.5 727.5L802.9 726.5L803.2 733.7L803.3 745.2L803.6 749.0L804.0 749.0M805.0 749.0L805.3 738.7L805.5 737.1L806.2 727.3L806.6 726.3L806.8 733.5L807.0 745.1L807.2 749.0L807.6 749.0M807.4 749.0L807.7 738.2L807.9 736.6L808.5 726.4L808.8 725.3L809.0 732.8L809.2 745.0L809.4 749.0L809.7 749.0M810.6 749.0L810.8 738.8L811.0 737.3L811.6 727.7L811.9 726.7L812.2 733.8L812.3 745.2L812.5 749.0L812.8 749.0M813.1 749.0L813.4 739.1L813.7 737.6L814.3 728.3L814.7 727.3L815.0 734.2L815.1 745.3L815.4 749.0L815.8 749.0M815.6 749.0L815.9 739.2L816.2 737.8L816.9 728.5L817.4 727.5L817.7 734.3L817.8 745.3L818.1 749.0L818.6 749.0M818.2 749.0L818.5 739.2L818.7 737.7L819.4 728.4L819.8 727.4L820.0 734.3L820.2 745.3L820.4 749.0L820.8 749.0M823.7 749.0L823.9 739.2L824.1 737.7L824.7 728.3L825.0 727.4L825.2 734.2L825.4 745.3L825.6 749.0L825.9 749.0M835.3 749.0L835.6 737.7L835.9 736.0L836.6 725.3L837.1 724.2L837.4 732.1L837.6 744.8L837.9 749.0L838.3 749.0M837.6 749.0L837.9 738.2L838.1 736.6L838.7 726.4L839.1 725.3L839.3 732.9L839.5 745.0L839.7 749.0L840.1 749.0M840.7 749.0L840.9 738.0L841.1 736.4L841.7 725.9L842.1 724.8L842.3 732.5L842.4 744.9L842.7 749.0L843.0 749.0M843.4 749.0L843.7 739.2L844.0 737.7L844.7 728.3L845.2 727.4L845.5 734.2L845.6 745.3L845.9 749.0L846.4 749.0M846.1 749.0L846.4 738.9L846.6 737.4L847.3 727.8L847.7 726.8L847.9 733.8L848.1 745.2L848.3 749.0L848.7 749.0M848.1 749.0L848.4 737.8L848.6 736.1L849.3 725.5L849.6 724.3L849.9 732.2L850.0 744.8L850.3 749.0L850.7 749.0M854.3 749.0L854.6 737.8L854.9 736.1L855.6 725.4L856.0 724.3L856.3 732.2L856.4 744.8L856.7 749.0L857.1 749.0M860.0 749.0L860.3 737.8L860.6 736.1L861.3 725.5L861.8 724.4L862.1 732.2L862.2 744.8L862.5 749.0L863.0 749.0M862.5 749.0L862.8 738.7L863.0 737.1L863.6 727.3L864.0 726.3L864.3 733.5L864.4 745.1L864.7 749.0L865.0 749.0M864.8 749.0L865.1 738.9L865.4 737.4L866.2 727.9L866.6 726.9L866.9 733.9L867.1 745.2L867.4 749.0L867.9 749.0M867.9 749.0L868.2 737.7L868.5 736.0L869.2 725.3L869.6 724.2L869.9 732.1L870.1 744.8L870.4 749.0L870.8 749.0M870.8 749.0L871.1 737.9L871.4 736.2L872.2 725.6L872.7 724.5L873.0 732.3L873.2 744.8L873.5 749.0L874.0 749.0M873.6 749.0L873.8 737.9L874.1 736.2L874.7 725.6L875.1 724.5L875.3 732.3L875.4 744.8L875.7 749.0L876.0 749.0M876.0 749.0L876.2 737.8L876.4 736.1L877.0 725.5L877.4 724.4L877.6 732.2L877.7 744.8L877.9 749.0L878.3 749.0M878.7 749.0L878.9 737.8L879.2 736.2L879.8 725.6L880.2 724.5L880.4 732.3L880.6 744.8L880.8 749.0L881.2 749.0M882.2 749.0L882.4 737.7L882.6 736.1L883.2 725.4L883.6 724.2L883.8 732.1L883.9 744.8L884.2 749.0L884.5 749.0M884.8 749.0L885.1 738.1L885.3 736.5L886.1 726.1L886.5 725.0L886.8 732.7L886.9 744.9L887.2 749.0L887.6 749.0M890.6 749.0L890.9 737.9L891.2 736.3L892.0 725.7L892.4 724.6L892.7 732.4L892.9 744.8L893.2 749.0L893.6 749.0M892.5 749.0L892.7 738.9L892.9 737.4L893.5 727.8L893.8 726.8L894.1 733.8L894.2 745.2L894.4 749.0L894.8 749.0M895.3 749.0L895.5 737.9L895.8 736.2L896.4 725.7L896.8 724.6L897.0 732.3L897.1 744.8L897.4 749.0L897.7 749.0M901.3 749.0L901.6 737.9L901.9 736.2L902.7 725.7L903.2 724.5L903.5 732.3L903.6 744.8L903.9 749.0L904.4 749.0M904.2 749.0L904.4 737.7L904.7 736.0L905.4 725.3L905.8 724.2L906.0 732.1L906.2 744.8L906.4 749.0L906.8 749.0M906.5 749.0L906.8 738.8L907.1 737.3L907.9 727.5L908.3 726.5L908.6 733.7L908.8 745.2L909.1 749.0L909.6 749.0M909.3 749.0L909.6 738.3L909.9 736.7L910.6 726.5L911.1 725.4L911.4 732.9L911.5 745.0L911.8 749.0L912.3 749.0M912.3 749.0L912.6 738.6L912.9 737.0L913.7 727.1L914.1 726.1L914.5 733.4L914.6 745.1L914.9 749.0L915.4 749.0M914.5 749.0L914.7 738.7L915.0 737.1L915.6 727.4L916.0 726.3L916.3 733.5L916.4 745.1L916.6 749.0L917.0 749.0M917.6 749.0L917.9 739.1L918.2 737.6L918.9 728.3L919.4 727.3L919.7 734.2L919.9 745.3L920.2 749.0L920.6 749.0M923.2 749.0L923.5 738.4L923.8 736.8L924.5 726.7L925.0 725.7L925.2 733.1L925.4 745.0L925.7 749.0L926.1 749.0M925.5 749.0L925.8 738.9L926.1 737.4L926.8 727.9L927.2 726.9L927.5 733.9L927.7 745.2L928.0 749.0L928.4 749.0M928.6 749.0L928.9 737.7L929.2 736.0L930.0 725.3L930.5 724.2L930.8 732.1L930.9 744.8L931.3 749.0L931.7 749.0M931.4 749.0L931.7 738.1L932.0 736.4L932.8 726.0L933.2 724.9L933.5 732.6L933.7 744.9L934.0 749.0L934.5 749.0M933.9 749.0L934.2 738.8L934.5 737.2L935.3 727.5L935.7 726.5L936.0 733.6L936.1 745.2L936.4 749.0L936.9 749.0M937.0 749.0L937.2 738.4L937.5 736.9L938.2 726.8L938.7 725.8L938.9 733.2L939.1 745.0L939.4 749.0L939.8 749.0M941.9 749.0L942.2 737.7L942.5 736.0L943.2 725.2L943.6 724.1L943.9 732.0L944.0 744.8L944.3 749.0L944.7 749.0M945.7 749.0L946.0 738.7L946.3 737.1L947.0 727.4L947.5 726.3L947.8 733.5L948.0 745.1L948.3 749.0L948.7 749.0M947.5 749.0L947.8 738.4L948.1 736.8L948.9 726.8L949.3 725.8L949.6 733.2L949.8 745.0L950.1 749.0L950.6 749.0M951.1 749.0L951.4 738.4L951.8 736.8L952.5 726.8L953.0 725.7L953.3 733.1L953.5 745.0L953.8 749.0L954.2 749.0M953.5 749.0L953.8 738.2L954.1 736.6L954.8 726.3L955.3 725.2L955.6 732.8L955.7 744.9L956.0 749.0L956.4 749.0M956.0 749.0L956.2 738.9L956.4 737.4L957.1 727.7L957.4 726.7L957.7 733.8L957.8 745.2L958.1 749.0L958.4 749.0M959.2 749.0L959.4 738.5L959.7 736.9L960.2 726.9L960.6 725.9L960.8 733.2L960.9 745.1L961.1 749.0L961.5 749.0M964.1 749.0L964.3 738.4L964.6 736.8L965.2 726.8L965.5 725.7L965.8 733.1L965.9 745.0L966.1 749.0L966.5 749.0M967.0 749.0L967.3 739.0L967.6 737.5L968.3 728.0L968.7 727.0L969.0 734.0L969.1 745.2L969.4 749.0L969.8 749.0M969.8 749.0L970.0 738.0L970.3 736.4L971.1 726.0L971.5 724.9L971.8 732.6L971.9 744.9L972.2 749.0L972.6 749.0M973.3 749.0L973.5 737.7L973.7 736.0L974.3 725.2L974.6 724.0L974.8 732.0L974.9 744.7L975.2 749.0L975.5 749.0M975.0 749.0L975.2 739.2L975.5 737.7L976.0 728.4L976.4 727.4L976.6 734.3L976.7 745.3L976.9 749.0L977.3 749.0M978.6 749.0L978.9 739.1L979.2 737.6L979.8 728.2L980.2 727.2L980.5 734.1L980.6 745.3L980.9 749.0L981.3 749.0M981.0 749.0L981.3 738.7L981.5 737.2L982.3 727.5L982.7 726.4L983.0 733.6L983.2 745.2L983.5 749.0L983.9 749.0M983.7 749.0L984.0 739.1L984.2 737.6L984.9 728.1L985.3 727.1L985.5 734.1L985.7 745.3L985.9 749.0L986.3 749.0M986.0 749.0L986.3 739.1L986.5 737.6L987.1 728.1L987.5 727.1L987.7 734.1L987.8 745.3L988.1 749.0L988.4 749.0M992.1 749.0L992.4 738.5L992.7 737.0L993.5 727.1L994.0 726.0L994.3 733.3L994.5 745.1L994.8 749.0L995.2 749.0M994.7 749.0L994.9 738.5L995.1 736.9L995.7 726.9L996.1 725.9L996.3 733.2L996.5 745.1L996.7 749.0L997.0 749.0M997.1 749.0L997.4 739.0L997.6 737.6L998.2 728.1L998.5 727.1L998.7 734.1L998.8 745.3L999.1 749.0L999.4 749.0M1000.8 749.0L1001.1 738.6L1001.3 737.1L1002.0 727.2L1002.4 726.2L1002.6 733.4L1002.7 745.1L1003.0 749.0L1003.4 749.0M1003.1 749.0L1003.3 738.1L1003.6 736.5L1004.2 726.1L1004.6 725.0L1004.9 732.6L1005.0 744.9L1005.3 749.0L1005.6 749.0M1009.0 749.0L1009.3 738.7L1009.6 737.2L1010.3 727.4L1010.7 726.4L1011.0 733.6L1011.1 745.1L1011.4 749.0L1011.8 749.0M1010.8 749.0L1011.1 738.6L1011.3 737.0L1011.9 727.1L1012.3 726.0L1012.6 733.3L1012.7 745.1L1012.9 749.0L1013.3 749.0M1013.9 749.0L1014.2 738.0L1014.5 736.4L1015.3 725.9L1015.8 724.8L1016.1 732.5L1016.2 744.9L1016.5 749.0L1017.0 749.0M1019.8 749.0L1020.1 738.7L1020.4 737.2L1021.2 727.4L1021.6 726.4L1021.9 733.6L1022.1 745.1L1022.4 749.0L1022.9 749.0M1021.8 749.0L1022.1 739.0L1022.3 737.5L1022.9 728.0L1023.2 727.0L1023.5 734.0L1023.6 745.3L1023.8 749.0L1024.2 749.0M1025.2 749.0L1025.5 739.3L1025.7 737.9L1026.3 728.6L1026.7 727.7L1027.0 734.5L1027.1 745.4L1027.3 749.0L1027.7 749.0M1027.6 749.0L1027.9 738.7L1028.2 737.1L1028.9 727.3L1029.4 726.3L1029.7 733.5L1029.9 745.1L1030.2 749.0L1030.6 749.0M1030.5 749.0L1030.8 737.6L1031.1 735.9L1031.8 725.2L1032.2 724.0L1032.5 732.0L1032.6 744.7L1032.9 749.0L1033.3 749.0M1032.9 749.0L1033.1 738.6L1033.4 737.1L1034.1 727.3L1034.5 726.2L1034.8 733.5L1035.0 745.1L1035.2 749.0L1035.7 749.0M1035.5 749.0L1035.8 738.7L1036.0 737.1L1036.7 727.3L1037.1 726.3L1037.3 733.5L1037.4 745.1L1037.7 749.0L1038.1 749.0M1039.4 749.0L1039.7 738.4L1039.9 736.8L1040.5 726.7L1040.9 725.6L1041.2 733.1L1041.3 745.0L1041.5 749.0L1041.9 749.0M1041.6 749.0L1041.9 739.1L1042.2 737.6L1042.9 728.1L1043.3 727.1L1043.6 734.1L1043.7 745.3L1044.0 749.0L1044.5 749.0M1049.9 749.0L1050.2 737.7L1050.6 736.0L1051.3 725.2L1051.8 724.1L1052.1 732.0L1052.3 744.8L1052.6 749.0L1053.1 749.0M1052.5 749.0L1052.8 739.2L1053.2 737.7L1053.9 728.4L1054.4 727.4L1054.7 734.3L1054.9 745.3L1055.2 749.0L1055.6 749.0M1055.1 749.0L1055.4 738.0L1055.7 736.3L1056.4 725.9L1056.9 724.8L1057.2 732.5L1057.4 744.9L1057.7 749.0L1058.1 749.0M1057.6 749.0L1057.9 737.8L1058.2 736.1L1058.9 725.4L1059.3 724.3L1059.6 732.1L1059.8 744.8L1060.1 749.0L1060.5 749.0M1061.3 749.0L1061.5 739.3L1061.7 737.8L1062.3 728.6L1062.6 727.6L1062.8 734.4L1063.0 745.4L1063.2 749.0L1063.5 749.0M1069.4 749.0L1069.7 738.7L1070.0 737.1L1070.8 727.4L1071.3 726.3L1071.6 733.5L1071.7 745.1L1072.1 749.0L1072.5 749.0M1071.5 749.0L1071.7 738.9L1072.0 737.4L1072.6 727.8L1072.9 726.8L1073.2 733.8L1073.3 745.2L1073.5 749.0L1073.9 749.0M1074.8 749.0L1075.0 738.1L1075.3 736.4L1075.9 726.0L1076.2 724.9L1076.5 732.6L1076.6 744.9L1076.8 749.0L1077.2 749.0M1082.9 749.0L1083.2 738.3L1083.5 736.7L1084.1 726.5L1084.5 725.5L1084.8 732.9L1084.9 745.0L1085.2 749.0L1085.6 749.0M1085.5 749.0L1085.7 738.7L1086.0 737.2L1086.6 727.4L1087.0 726.4L1087.3 733.6L1087.4 745.2L1087.7 749.0L1088.0 749.0M1089.0 749.0L1089.2 737.7L1089.5 736.0L1090.2 725.2L1090.6 724.1L1090.9 732.0L1091.0 744.8L1091.3 749.0L1091.7 749.0M1099.3 749.0L1099.6 738.6L1099.9 737.0L1100.7 727.2L1101.2 726.1L1101.5 733.4L1101.6 745.1L1101.9 749.0L1102.4 749.0M1102.2 749.0L1102.5 738.2L1102.7 736.6L1103.4 726.4L1103.7 725.3L1104.0 732.8L1104.1 745.0L1104.4 749.0L1104.7 749.0M1104.4 749.0L1104.7 737.7L1105.0 736.0L1105.8 725.3L1106.2 724.1L1106.5 732.0L1106.7 744.8L1107.0 749.0L1107.4 749.0M1107.5 749.0L1107.8 737.5L1108.1 735.8L1108.8 724.9L1109.2 723.8L1109.5 731.8L1109.6 744.7L1109.9 749.0L1110.4 749.0M1110.6 749.0L1110.9 738.9L1111.1 737.4L1111.8 727.7L1112.3 726.7L1112.5 733.8L1112.7 745.2L1113.0 749.0L1113.4 749.0M1115.7 749.0L1116.0 737.6L1116.3 735.9L1117.1 725.2L1117.5 724.0L1117.8 732.0L1117.9 744.7L1118.2 749.0L1118.7 749.0M1121.0 749.0L1121.2 737.6L1121.5 735.9L1122.0 725.1L1122.4 724.0L1122.6 732.0L1122.7 744.7L1123.0 749.0L1123.3 749.0M1124.1 749.0L1124.3 738.8L1124.6 737.3L1125.2 727.7L1125.5 726.7L1125.7 733.8L1125.8 745.2L1126.1 749.0L1126.4 749.0M1127.0 749.0L1127.3 738.0L1127.5 736.4L1128.1 725.9L1128.5 724.8L1128.8 732.5L1128.9 744.9L1129.1 749.0L1129.5 749.0M1129.8 749.0L1130.1 739.2L1130.4 737.7L1131.0 728.4L1131.4 727.4L1131.7 734.3L1131.8 745.3L1132.1 749.0L1132.5 749.0M1132.3 749.0L1132.6 738.2L1132.8 736.5L1133.4 726.2L1133.8 725.1L1134.1 732.7L1134.2 744.9L1134.4 749.0L1134.8 749.0M1135.6 749.0L1135.9 737.6L1136.3 735.9L1137.0 725.1L1137.5 724.0L1137.8 731.9L1138.0 744.7L1138.3 749.0L1138.8 749.0M1138.4 749.0L1138.7 737.9L1139.0 736.2L1139.7 725.6L1140.2 724.5L1140.5 732.3L1140.6 744.8L1140.9 749.0L1141.3 749.0M1141.2 749.0L1141.6 738.6L1141.9 737.1L1142.7 727.2L1143.1 726.2L1143.4 733.4L1143.6 745.1L1143.9 749.0L1144.4 749.0M1143.4 749.0L1143.7 738.0L1143.9 736.3L1144.5 725.9L1144.8 724.8L1145.1 732.5L1145.2 744.9L1145.4 749.0L1145.8 749.0M1145.9 749.0L1146.2 737.5L1146.4 735.8L1147.1 724.9L1147.5 723.8L1147.8 731.8L1147.9 744.7L1148.2 749.0L1148.6 749.0M1148.6 749.0L1148.9 738.2L1149.1 736.6L1149.8 726.3L1150.2 725.2L1150.4 732.8L1150.6 744.9L1150.8 749.0L1151.2 749.0M1151.9 749.0L1152.1 739.3L1152.4 737.8L1153.1 728.6L1153.5 727.7L1153.7 734.4L1153.9 745.4L1154.1 749.0L1154.5 749.0M1157.2 749.0L1157.4 738.0L1157.7 736.4L1158.5 726.0L1158.9 724.9L1159.2 732.6L1159.3 744.9L1159.6 749.0L1160.1 749.0M1160.2 749.0L1160.4 739.0L1160.7 737.5L1161.2 728.0L1161.6 727.0L1161.8 734.0L1161.9 745.3L1162.2 749.0L1162.5 749.0M1162.5 749.0L1162.7 739.0L1163.0 737.5L1163.7 728.0L1164.1 727.0L1164.4 734.0L1164.5 745.3L1164.8 749.0L1165.2 749.0M1165.0 749.0L1165.3 737.6L1165.6 735.9L1166.2 725.2L1166.6 724.0L1166.9 732.0L1167.0 744.7L1167.3 749.0L1167.7 749.0M1168.5 749.0L1168.8 737.7L1169.0 736.0L1169.6 725.2L1170.0 724.1L1170.2 732.0L1170.3 744.8L1170.6 749.0L1170.9 749.0M1170.7 749.0L1171.0 737.6L1171.3 735.9L1172.0 725.0L1172.5 723.9L1172.8 731.9L1172.9 744.7L1173.2 749.0L1173.7 749.0M1173.9 749.0L1174.2 737.8L1174.4 736.1L1175.1 725.5L1175.5 724.3L1175.7 732.2L1175.9 744.8L1176.1 749.0L1176.5 749.0M1178.9 749.0L1179.2 738.5L1179.5 736.9L1180.3 727.0L1180.7 725.9L1181.0 733.3L1181.2 745.1L1181.5 749.0L1181.9 749.0M1182.4 749.0L1182.7 739.1L1183.0 737.6L1183.7 728.1L1184.1 727.1L1184.4 734.1L1184.5 745.3L1184.8 749.0L1185.3 749.0M1184.7 749.0L1184.9 739.0L1185.1 737.6L1185.7 728.1L1186.1 727.1L1186.3 734.1L1186.4 745.3L1186.6 749.0L1187.0 749.0M1187.4 749.0L1187.6 738.9L1187.9 737.3L1188.5 727.7L1188.9 726.7L1189.1 733.8L1189.3 745.2L1189.5 749.0L1189.9 749.0M1190.2 749.0L1190.5 738.3L1190.7 736.7L1191.3 726.5L1191.7 725.4L1191.9 732.9L1192.0 745.0L1192.2 749.0L1192.6 749.0M1192.7 749.0L1193.0 737.6L1193.3 735.9L1194.1 725.0L1194.6 723.9L1194.9 731.9L1195.1 744.7L1195.4 749.0L1195.8 749.0M1198.7 749.0L1198.9 739.3L1199.2 737.8L1199.8 728.6L1200.1 727.7L1200.4 734.5L1200.5 745.4L1200.7 749.0L1201.1 749.0M1203.8 749.0L1204.2 738.7L1204.5 737.1L1205.2 727.4L1205.7 726.3L1206.0 733.5L1206.2 745.1L1206.5 749.0L1207.0 749.0M1207.0 749.0L1207.3 737.8L1207.6 736.1L1208.3 725.4L1208.7 724.3L1209.0 732.2L1209.2 744.8L1209.5 749.0L1209.9 749.0M1209.5 749.0L1209.8 738.8L1210.2 737.3L1210.9 727.6L1211.4 726.6L1211.7 733.7L1211.9 745.2L1212.2 749.0L1212.7 749.0M1212.8 749.0L1213.0 739.2L1213.2 737.8L1213.8 728.5L1214.1 727.5L1214.3 734.4L1214.4 745.3L1214.6 749.0L1215.0 749.0M1215.0 749.0L1215.2 738.4L1215.4 736.8L1216.0 726.8L1216.4 725.7L1216.6 733.1L1216.7 745.0L1216.9 749.0L1217.3 749.0M1217.8 749.0L1218.1 738.1L1218.4 736.5L1219.2 726.1L1219.7 725.0L1220.0 732.6L1220.1 744.9L1220.5 749.0L1220.9 749.0M1221.1 749.0L1221.3 738.0L1221.6 736.4L1222.1 726.0L1222.4 724.9L1222.7 732.6L1222.8 744.9L1223.0 749.0L1223.3 749.0M1226.0 749.0L1226.3 738.6L1226.7 737.0L1227.4 727.1L1227.9 726.1L1228.2 733.4L1228.3 745.1L1228.7 749.0L1229.1 749.0M1229.4 749.0L1229.6 739.3L1229.8 737.9L1230.4 728.7L1230.8 727.7L1231.0 734.5L1231.2 745.4L1231.4 749.0L1231.8 749.0M1234.7 749.0L1235.0 738.4L1235.2 736.8L1235.8 726.8L1236.2 725.7L1236.5 733.1L1236.6 745.0L1236.8 749.0L1237.2 749.0M1237.5 749.0L1237.7 738.1L1237.9 736.4L1238.5 726.1L1238.9 725.0L1239.1 732.6L1239.2 744.9L1239.4 749.0L1239.8 749.0M1240.0 749.0L1240.3 739.2L1240.6 737.7L1241.3 728.3L1241.7 727.3L1242.0 734.2L1242.2 745.3L1242.5 749.0L1242.9 749.0M1242.6 749.0L1242.8 738.7L1243.1 737.1L1243.8 727.3L1244.3 726.3L1244.5 733.5L1244.7 745.1L1245.0 749.0L1245.4 749.0M1245.9 749.0L1246.2 737.5L1246.5 735.8L1247.2 724.9L1247.6 723.8L1247.9 731.8L1248.0 744.7L1248.3 749.0L1248.7 749.0M1247.9 749.0L1248.1 738.0L1248.4 736.4L1249.1 725.9L1249.5 724.9L1249.8 732.5L1249.9 744.9L1250.2 749.0L1250.6 749.0M1251.3 749.0L1251.6 738.9L1251.8 737.4L1252.4 727.8L1252.7 726.8L1253.0 733.8L1253.1 745.2L1253.3 749.0L1253.7 749.0M1259.3 749.0L1259.5 739.3L1259.8 737.9L1260.3 728.7L1260.7 727.7L1260.9 734.5L1261.0 745.4L1261.2 749.0L1261.6 749.0M1261.9 749.0L1262.2 738.0L1262.4 736.3L1263.0 725.8L1263.4 724.7L1263.6 732.4L1263.8 744.9L1264.0 749.0L1264.4 749.0M1264.4 749.0L1264.7 739.2L1264.9 737.7L1265.6 728.4L1266.0 727.4L1266.3 734.3L1266.4 745.3L1266.7 749.0L1267.1 749.0M1267.5 749.0L1267.7 738.0L1267.9 736.3L1268.6 725.8L1268.9 724.7L1269.2 732.4L1269.3 744.9L1269.5 749.0L1269.9 749.0M1270.5 749.0L1270.7 738.5L1271.0 737.0L1271.7 727.0L1272.1 726.0L1272.3 733.3L1272.5 745.1L1272.7 749.0L1273.1 749.0M1272.8 749.0L1273.0 739.0L1273.3 737.5L1273.8 728.1L1274.2 727.1L1274.4 734.0L1274.5 745.3L1274.7 749.0L1275.1 749.0M1278.2 749.0L1278.5 738.4L1278.8 736.8L1279.6 726.8L1280.0 725.7L1280.4 733.1L1280.5 745.0L1280.8 749.0L1281.3 749.0M1281.4 749.0L1281.6 738.8L1281.9 737.3L1282.5 727.6L1282.9 726.6L1283.1 733.7L1283.2 745.2L1283.5 749.0L1283.9 749.0M1284.1 749.0L1284.3 738.6L1284.6 737.0L1285.2 727.1L1285.5 726.1L1285.7 733.4L1285.9 745.1L1286.1 749.0L1286.5 749.0" stroke="#c8452c" stroke-opacity="0.22" stroke-width="0.6" stroke-linejoin="round"/>
<path d="M469.8 749.0L470.1 738.5L470.4 737.0L471.1 727.0L471.5 726.0L471.8 733.3L472.0 745.1L472.3 749.0L472.7 749.0M473.6 749.0L473.9 737.6L474.2 735.8L474.9 725.0L475.3 723.8L475.6 731.8L475.7 744.7L476.0 749.0L476.4 749.0M481.4 749.0L481.7 737.7L482.0 736.0L482.8 725.3L483.2 724.2L483.5 732.1L483.7 744.8L484.0 749.0L484.5 749.0M525.2 749.0L525.5 738.8L525.8 737.3L526.4 727.6L526.8 726.6L527.1 733.7L527.2 745.2L527.4 749.0L527.8 749.0M552.4 749.0L552.7 738.7L553.0 737.1L553.7 727.3L554.1 726.3L554.4 733.5L554.6 745.1L554.8 749.0L555.3 749.0M554.5 749.0L554.7 738.9L555.0 737.4L555.6 727.8L556.0 726.8L556.3 733.8L556.4 745.2L556.7 749.0L557.0 749.0M572.2 749.0L572.4 738.5L572.7 736.9L573.3 726.9L573.6 725.8L573.9 733.2L574.0 745.1L574.2 749.0L574.6 749.0M581.0 749.0L581.3 738.0L581.5 736.3L582.2 725.9L582.6 724.8L582.9 732.5L583.0 744.9L583.3 749.0L583.7 749.0M599.7 749.0L600.0 738.2L600.3 736.5L600.9 726.2L601.3 725.1L601.6 732.7L601.7 744.9L602.0 749.0L602.4 749.0M603.2 749.0L603.5 738.0L603.7 736.3L604.4 725.9L604.8 724.8L605.1 732.5L605.2 744.9L605.5 749.0L605.9 749.0M610.1 749.0L610.4 737.6L610.6 735.9L611.4 725.1L611.8 724.0L612.1 731.9L612.3 744.7L612.5 749.0L613.0 749.0M640.3 749.0L640.6 739.4L640.9 737.9L641.6 728.7L642.0 727.8L642.3 734.5L642.4 745.4L642.7 749.0L643.1 749.0M644.1 749.0L644.4 739.1L644.7 737.7L645.5 728.3L646.0 727.3L646.3 734.2L646.4 745.3L646.7 749.0L647.2 749.0M646.2 749.0L646.5 738.4L646.7 736.8L647.4 726.7L647.8 725.7L648.1 733.1L648.3 745.0L648.5 749.0L648.9 749.0M660.1 749.0L660.3 738.8L660.6 737.3L661.2 727.6L661.6 726.6L661.8 733.7L662.0 745.2L662.2 749.0L662.6 749.0M668.6 749.0L668.9 738.1L669.1 736.5L669.8 726.2L670.2 725.1L670.5 732.7L670.7 744.9L670.9 749.0L671.4 749.0M676.0 749.0L676.2 738.3L676.4 736.7L677.0 726.5L677.4 725.5L677.6 733.0L677.7 745.0L678.0 749.0L678.3 749.0M686.0 749.0L686.3 738.1L686.6 736.5L687.3 726.1L687.8 725.0L688.0 732.7L688.2 744.9L688.5 749.0L688.9 749.0M699.2 749.0L699.5 739.0L699.7 737.5L700.3 727.9L700.7 726.9L701.0 733.9L701.1 745.2L701.3 749.0L701.7 749.0M701.5 749.0L701.8 738.6L702.1 737.1L702.7 727.2L703.1 726.1L703.4 733.4L703.5 745.1L703.7 749.0L704.1 749.0M705.9 749.0L706.1 737.6L706.4 735.9L707.1 725.1L707.5 724.0L707.8 731.9L707.9 744.7L708.2 749.0L708.6 749.0M730.6 749.0L730.8 739.3L731.1 737.9L731.7 728.7L732.1 727.8L732.3 734.5L732.4 745.4L732.7 749.0L733.0 749.0M737.3 749.0L737.5 737.6L737.8 735.9L738.4 725.0L738.7 723.9L739.0 731.9L739.1 744.7L739.3 749.0L739.7 749.0M742.8 749.0L743.1 738.2L743.4 736.6L744.1 726.3L744.6 725.3L744.9 732.8L745.0 745.0L745.3 749.0L745.7 749.0M751.2 749.0L751.5 738.1L751.7 736.4L752.4 726.1L752.7 725.0L753.0 732.6L753.1 744.9L753.4 749.0L753.8 749.0M757.8 749.0L758.1 739.0L758.4 737.5L759.1 728.0L759.5 727.0L759.8 734.0L760.0 745.3L760.3 749.0L760.7 749.0M771.8 749.0L772.1 739.0L772.3 737.4L773.0 727.9L773.3 726.9L773.6 733.9L773.7 745.2L773.9 749.0L774.3 749.0M778.8 749.0L779.1 737.9L779.4 736.3L780.2 725.8L780.6 724.7L780.9 732.4L781.1 744.9L781.4 749.0L781.8 749.0M786.5 749.0L786.8 738.4L787.0 736.8L787.6 726.8L788.0 725.7L788.2 733.1L788.3 745.0L788.5 749.0L788.9 749.0M793.8 749.0L794.1 738.4L794.3 736.8L795.0 726.7L795.3 725.7L795.6 733.1L795.7 745.0L796.0 749.0L796.4 749.0M798.5 749.0L798.8 738.5L799.0 736.9L799.6 726.9L800.0 725.8L800.2 733.2L800.4 745.1L800.6 749.0L801.0 749.0M822.7 749.0L822.9 739.3L823.2 737.8L823.8 728.6L824.2 727.6L824.4 734.4L824.5 745.3L824.8 749.0L825.2 749.0M826.6 749.0L826.8 737.8L827.1 736.2L827.7 725.5L828.0 724.4L828.3 732.2L828.4 744.8L828.6 749.0L829.0 749.0M830.5 749.0L830.7 738.6L831.0 737.0L831.6 727.1L832.0 726.1L832.3 733.4L832.4 745.1L832.6 749.0L833.0 749.0M831.1 749.0L831.4 737.6L831.6 735.9L832.2 725.0L832.5 723.9L832.8 731.9L832.9 744.7L833.1 749.0L833.5 749.0M852.2 749.0L852.4 738.7L852.7 737.2L853.3 727.4L853.6 726.4L853.9 733.6L854.0 745.1L854.2 749.0L854.6 749.0M858.0 749.0L858.3 738.2L858.7 736.6L859.4 726.4L859.9 725.3L860.2 732.9L860.3 745.0L860.6 749.0L861.1 749.0M888.1 749.0L888.4 738.4L888.7 736.8L889.3 726.6L889.7 725.6L890.0 733.0L890.1 745.0L890.4 749.0L890.8 749.0M896.8 749.0L897.0 738.0L897.3 736.3L897.9 725.9L898.2 724.8L898.5 732.5L898.6 744.9L898.8 749.0L899.2 749.0M920.6 749.0L920.9 738.6L921.2 737.0L921.9 727.1L922.3 726.0L922.6 733.3L922.7 745.1L923.0 749.0L923.5 749.0M941.2 749.0L941.5 737.5L941.7 735.8L942.4 724.9L942.8 723.7L943.1 731.8L943.3 744.7L943.5 749.0L943.9 749.0M961.6 749.0L961.9 738.0L962.2 736.4L962.9 726.0L963.4 724.9L963.7 732.6L963.8 744.9L964.1 749.0L964.5 749.0M988.1 749.0L988.3 738.8L988.6 737.2L989.3 727.5L989.7 726.5L990.0 733.7L990.1 745.2L990.4 749.0L990.8 749.0M1007.1 749.0L1007.3 738.3L1007.5 736.7L1008.1 726.5L1008.4 725.5L1008.6 733.0L1008.7 745.0L1008.9 749.0L1009.3 749.0M1016.6 749.0L1016.9 737.8L1017.2 736.1L1017.9 725.5L1018.4 724.3L1018.7 732.2L1018.8 744.8L1019.1 749.0L1019.6 749.0M1043.7 749.0L1044.0 739.2L1044.3 737.8L1045.1 728.5L1045.5 727.5L1045.8 734.4L1046.0 745.3L1046.3 749.0L1046.7 749.0M1046.0 749.0L1046.2 739.3L1046.5 737.8L1047.1 728.5L1047.5 727.6L1047.7 734.4L1047.8 745.3L1048.1 749.0L1048.5 749.0M1062.0 749.0L1062.3 738.1L1062.5 736.4L1063.2 726.0L1063.7 724.9L1063.9 732.6L1064.1 744.9L1064.4 749.0L1064.8 749.0M1065.6 749.0L1065.9 739.0L1066.1 737.5L1066.8 728.1L1067.3 727.1L1067.5 734.0L1067.7 745.3L1068.0 749.0L1068.4 749.0M1076.4 749.0L1076.7 738.7L1077.0 737.2L1077.7 727.4L1078.1 726.4L1078.4 733.6L1078.6 745.1L1078.9 749.0L1079.3 749.0M1080.5 749.0L1080.8 738.1L1081.0 736.5L1081.5 726.1L1081.9 725.0L1082.1 732.7L1082.2 744.9L1082.4 749.0L1082.8 749.0M1090.5 749.0L1090.8 738.7L1091.1 737.1L1091.8 727.3L1092.3 726.2L1092.5 733.5L1092.7 745.1L1093.0 749.0L1093.4 749.0M1094.9 749.0L1095.2 737.9L1095.5 736.3L1096.1 725.7L1096.5 724.6L1096.8 732.4L1097.0 744.8L1097.2 749.0L1097.6 749.0M1097.3 749.0L1097.6 738.6L1097.9 737.0L1098.6 727.2L1099.0 726.1L1099.3 733.4L1099.4 745.1L1099.7 749.0L1100.2 749.0M1114.1 749.0L1114.4 738.5L1114.6 736.9L1115.2 726.9L1115.6 725.8L1115.8 733.2L1116.0 745.0L1116.2 749.0L1116.6 749.0M1119.3 749.0L1119.6 738.3L1119.9 736.7L1120.7 726.5L1121.2 725.5L1121.5 733.0L1121.6 745.0L1121.9 749.0L1122.4 749.0M1155.9 749.0L1156.1 737.7L1156.3 736.0L1156.9 725.3L1157.2 724.2L1157.4 732.1L1157.5 744.8L1157.8 749.0L1158.1 749.0M1178.0 749.0L1178.3 737.9L1178.6 736.2L1179.3 725.6L1179.8 724.5L1180.0 732.3L1180.2 744.8L1180.5 749.0L1180.9 749.0M1196.3 749.0L1196.6 737.6L1196.8 735.9L1197.5 725.0L1197.9 723.9L1198.1 731.9L1198.3 744.7L1198.5 749.0L1198.9 749.0M1201.1 749.0L1201.3 738.2L1201.6 736.6L1202.3 726.3L1202.7 725.2L1203.0 732.8L1203.1 745.0L1203.4 749.0L1203.8 749.0M1222.8 749.0L1223.0 737.6L1223.3 735.9L1223.9 725.0L1224.3 723.9L1224.5 731.9L1224.7 744.7L1224.9 749.0L1225.3 749.0M1232.6 749.0L1232.9 739.2L1233.2 737.7L1234.0 728.4L1234.4 727.4L1234.8 734.3L1234.9 745.3L1235.2 749.0L1235.7 749.0M1252.6 749.0L1252.9 738.3L1253.2 736.7L1254.0 726.5L1254.4 725.4L1254.7 732.9L1254.9 745.0L1255.1 749.0L1255.6 749.0M1256.5 749.0L1256.7 738.3L1257.0 736.7L1257.7 726.5L1258.1 725.5L1258.4 733.0L1258.5 745.0L1258.8 749.0L1259.2 749.0M1275.3 749.0L1275.6 739.2L1275.9 737.7L1276.6 728.4L1277.0 727.4L1277.3 734.3L1277.5 745.3L1277.7 749.0L1278.2 749.0M1285.9 749.0L1286.1 737.8L1286.4 736.1L1287.1 725.5L1287.6 724.4L1287.8 732.2L1288.0 744.8L1288.3 749.0L1288.7 749.0" stroke="#c8452c" stroke-opacity="0.7" stroke-width="0.6" stroke-linejoin="round"/>
<path d="M463.0 749.0L463.3 740.7L464.4 735.3L464.6 727.5L465.4 725.4L465.5 749.0L465.7 749.0M465.5 749.0L465.9 739.6L467.0 733.6L467.2 724.8L468.1 722.3L468.2 749.0L468.4 749.0M485.1 749.0L485.4 739.8L486.4 733.9L486.6 725.2L487.4 722.8L487.5 749.0L487.7 749.0M487.7 749.0L488.1 740.6L489.3 735.2L489.6 727.4L490.5 725.2L490.6 749.0L490.8 749.0M490.9 749.0L491.2 740.7L492.3 735.3L492.5 727.5L493.4 725.3L493.5 749.0L493.6 749.0M493.0 749.0L493.3 740.7L494.3 735.3L494.6 727.5L495.4 725.3L495.4 749.0L495.6 749.0M496.2 749.0L496.5 740.5L497.7 735.0L498.1 727.0L499.0 724.8L499.1 749.0L499.3 749.0M499.0 749.0L499.3 739.6L500.2 733.5L500.4 724.6L501.1 722.1L501.1 749.0L501.3 749.0M501.1 749.0L501.5 740.5L502.7 734.9L503.0 726.9L503.9 724.6L504.0 749.0L504.2 749.0M503.9 749.0L504.2 739.5L505.2 733.4L505.5 724.4L506.2 721.9L506.3 749.0L506.5 749.0M507.0 749.0L507.3 740.1L508.2 734.4L508.4 726.0L509.1 723.7L509.2 749.0L509.4 749.0M510.2 749.0L510.5 740.1L511.5 734.4L511.7 726.0L512.4 723.7L512.5 749.0L512.7 749.0M512.6 749.0L512.8 740.4L513.7 734.8L513.9 726.7L514.6 724.5L514.7 749.0L514.9 749.0M515.4 749.0L515.6 740.5L516.5 734.9L516.8 726.9L517.5 724.6L517.5 749.0L517.7 749.0M517.8 749.0L518.2 740.3L519.2 734.7L519.5 726.5L520.3 724.3L520.4 749.0L520.6 749.0M521.3 749.0L521.6 739.9L522.8 734.1L523.1 725.5L524.1 723.1L524.2 749.0L524.4 749.0M523.5 749.0L523.9 739.6L525.0 733.5L525.3 724.6L526.2 722.1L526.3 749.0L526.5 749.0M526.3 749.0L526.6 740.5L527.7 735.0L528.0 727.0L528.9 724.7L529.0 749.0L529.2 749.0M529.4 749.0L529.7 739.9L530.9 734.1L531.3 725.5L532.2 723.1L532.3 749.0L532.5 749.0M531.8 749.0L532.0 740.6L532.9 735.2L533.1 727.3L533.8 725.0L533.8 749.0L534.0 749.0M573.2 749.0L573.6 740.3L574.8 734.7L575.1 726.5L576.1 724.2L576.2 749.0L576.4 749.0M575.4 749.0L575.8 740.4L577.0 734.8L577.3 726.6L578.2 724.4L578.3 749.0L578.5 749.0M578.9 749.0L579.2 739.5L580.4 733.3L580.7 724.3L581.6 721.8L581.7 749.0L581.9 749.0M581.6 749.0L581.9 739.6L582.9 733.5L583.2 724.7L583.9 722.2L584.0 749.0L584.2 749.0M584.3 749.0L584.6 740.1L585.6 734.4L585.8 726.0L586.6 723.7L586.7 749.0L586.9 749.0M586.6 749.0L586.9 740.8L587.9 735.4L588.1 727.7L588.9 725.5L589.0 749.0L589.1 749.0M589.2 749.0L589.6 740.2L590.7 734.5L591.0 726.3L591.9 724.0L592.0 749.0L592.2 749.0M592.6 749.0L592.9 739.8L593.8 733.9L594.0 725.3L594.8 722.8L594.8 749.0L595.0 749.0M598.0 749.0L598.3 739.9L599.4 734.0L599.6 725.4L600.5 723.0L600.5 749.0L600.7 749.0M600.9 749.0L601.2 740.3L602.3 734.7L602.6 726.5L603.4 724.2L603.5 749.0L603.7 749.0M603.3 749.0L603.6 740.6L604.5 735.2L604.7 727.3L605.4 725.1L605.5 749.0L605.7 749.0M606.1 749.0L606.4 740.2L607.6 734.6L607.9 726.3L608.8 724.0L608.9 749.0L609.2 749.0M609.5 749.0L609.8 740.4L611.0 734.9L611.3 726.8L612.2 724.5L612.3 749.0L612.5 749.0M611.9 749.0L612.2 740.2L613.1 734.5L613.3 726.3L613.9 723.9L614.0 749.0L614.2 749.0M614.6 749.0L615.0 740.4L616.1 734.8L616.4 726.7L617.3 724.4L617.4 749.0L617.6 749.0M617.7 749.0L618.0 740.7L619.0 735.4L619.2 727.6L620.0 725.4L620.1 749.0L620.2 749.0M620.0 749.0L620.3 739.6L621.5 733.5L621.8 724.6L622.7 722.2L622.8 749.0L623.0 749.0M622.4 749.0L622.7 739.6L623.5 733.4L623.8 724.6L624.5 722.1L624.5 749.0L624.7 749.0M625.6 749.0L626.0 740.1L627.2 734.4L627.5 726.0L628.4 723.7L628.5 749.0L628.8 749.0M631.0 749.0L631.3 740.8L632.3 735.5L632.6 727.8L633.3 725.6L633.4 749.0L633.6 749.0M633.9 749.0L634.2 740.3L635.2 734.6L635.4 726.4L636.2 724.1L636.3 749.0L636.4 749.0M636.4 749.0L636.6 740.0L637.5 734.1L637.7 725.7L638.4 723.3L638.5 749.0L638.7 749.0M639.4 749.0L639.7 740.5L640.7 734.9L641.0 726.9L641.7 724.6L641.8 749.0L642.0 749.0M641.9 749.0L642.2 739.9L643.2 734.1L643.4 725.5L644.2 723.1L644.2 749.0L644.4 749.0M644.9 749.0L645.2 739.7L646.4 733.7L646.7 724.9L647.6 722.4L647.7 749.0L647.9 749.0M647.4 749.0L647.7 739.8L648.6 733.8L648.8 725.2L649.5 722.8L649.6 749.0L649.8 749.0M650.5 749.0L650.8 740.6L651.6 735.1L651.8 727.1L652.5 724.9L652.6 749.0L652.7 749.0M653.0 749.0L653.4 740.8L654.6 735.5L654.9 727.8L655.9 725.6L656.0 749.0L656.2 749.0M656.3 749.0L656.6 740.2L657.5 734.6L657.7 726.3L658.5 724.0L658.5 749.0L658.7 749.0M658.4 749.0L658.7 740.5L659.9 735.1L660.2 727.1L661.1 724.9L661.2 749.0L661.4 749.0M661.2 749.0L661.6 740.2L662.8 734.5L663.1 726.3L664.0 723.9L664.1 749.0L664.3 749.0M664.2 749.0L664.6 740.7L665.6 735.4L665.9 727.6L666.7 725.4L666.8 749.0L667.0 749.0M666.8 749.0L667.0 740.7L667.9 735.3L668.2 727.5L668.9 725.3L669.0 749.0L669.1 749.0M669.5 749.0L669.8 740.0L670.9 734.2L671.2 725.8L672.0 723.4L672.1 749.0L672.3 749.0M672.2 749.0L672.5 739.4L673.4 733.3L673.7 724.3L674.4 721.7L674.5 749.0L674.7 749.0M675.0 749.0L675.2 739.7L676.1 733.6L676.3 724.8L677.0 722.4L677.1 749.0L677.3 749.0M678.0 749.0L678.4 740.5L679.6 735.0L679.9 727.0L680.8 724.7L680.9 749.0L681.1 749.0M680.5 749.0L680.9 739.5L682.0 733.4L682.2 724.4L683.1 721.9L683.2 749.0L683.4 749.0M683.6 749.0L683.9 740.6L685.1 735.2L685.4 727.3L686.3 725.1L686.4 749.0L686.6 749.0M686.1 749.0L686.4 740.5L687.2 735.1L687.5 727.1L688.2 724.9L688.2 749.0L688.4 749.0M688.7 749.0L689.1 739.8L690.1 733.9L690.4 725.3L691.2 722.8L691.3 749.0L691.5 749.0M691.7 749.0L692.1 740.6L693.2 735.1L693.5 727.2L694.4 725.0L694.5 749.0L694.7 749.0M697.4 749.0L697.8 740.0L698.9 734.1L699.2 725.6L700.1 723.2L700.2 749.0L700.4 749.0M700.2 749.0L700.5 740.3L701.3 734.6L701.5 726.4L702.2 724.1L702.3 749.0L702.4 749.0M702.3 749.0L702.7 740.7L703.7 735.3L704.0 727.5L704.9 725.3L704.9 749.0L705.1 749.0M705.5 749.0L705.8 740.3L706.7 734.7L706.9 726.6L707.7 724.3L707.8 749.0L707.9 749.0M708.2 749.0L708.6 739.4L709.8 733.3L710.1 724.3L711.0 721.7L711.1 749.0L711.4 749.0M711.3 749.0L711.6 740.4L712.8 734.8L713.1 726.6L714.1 724.4L714.1 749.0L714.4 749.0M714.0 749.0L714.3 740.4L715.2 734.9L715.4 726.9L716.1 724.6L716.2 749.0L716.3 749.0M716.7 749.0L717.1 739.8L718.2 733.9L718.5 725.3L719.4 722.9L719.5 749.0L719.7 749.0M719.2 749.0L719.5 740.1L720.6 734.3L720.9 725.9L721.8 723.5L721.9 749.0L722.1 749.0M722.0 749.0L722.3 739.3L723.3 733.0L723.5 723.9L724.3 721.4L724.3 749.0L724.5 749.0M725.3 749.0L725.6 740.4L726.7 734.9L727.0 726.8L727.9 724.5L727.9 749.0L728.1 749.0M727.3 749.0L727.7 740.5L728.9 734.9L729.2 726.9L730.1 724.6L730.2 749.0L730.4 749.0M730.1 749.0L730.3 740.0L731.2 734.2L731.4 725.8L732.1 723.4L732.1 749.0L732.3 749.0M733.1 749.0L733.4 739.4L734.4 733.2L734.7 724.2L735.4 721.7L735.5 749.0L735.7 749.0M736.0 749.0L736.4 739.7L737.4 733.6L737.7 724.8L738.6 722.4L738.7 749.0L738.9 749.0M738.2 749.0L738.6 740.6L739.8 735.1L740.1 727.2L741.0 724.9L741.1 749.0L741.3 749.0M740.9 749.0L741.2 739.6L742.1 733.5L742.3 724.6L743.0 722.1L743.1 749.0L743.3 749.0M743.9 749.0L744.2 739.5L745.1 733.4L745.3 724.5L746.0 722.0L746.1 749.0L746.2 749.0M747.0 749.0L747.3 740.1L748.2 734.3L748.5 725.8L749.3 723.5L749.3 749.0L749.5 749.0M749.6 749.0L749.9 740.1L750.7 734.4L750.9 726.0L751.6 723.7L751.6 749.0L751.8 749.0M752.0 749.0L752.4 739.5L753.4 733.4L753.7 724.4L754.5 721.9L754.6 749.0L754.8 749.0M755.5 749.0L755.8 740.6L757.0 735.2L757.3 727.3L758.1 725.1L758.2 749.0L758.4 749.0M757.7 749.0L758.1 739.6L759.2 733.5L759.5 724.6L760.3 722.1L760.4 749.0L760.6 749.0M760.7 749.0L761.1 739.8L762.3 733.8L762.6 725.1L763.5 722.6L763.6 749.0L763.8 749.0M762.8 749.0L763.1 740.2L764.1 734.4L764.4 726.1L765.2 723.8L765.3 749.0L765.5 749.0M765.5 749.0L765.8 739.5L766.8 733.3L767.1 724.3L767.9 721.8L767.9 749.0L768.1 749.0M768.4 749.0L768.6 739.9L769.5 734.0L769.8 725.5L770.5 723.0L770.6 749.0L770.7 749.0M771.2 749.0L771.5 740.1L772.6 734.4L772.8 726.0L773.6 723.7L773.7 749.0L773.9 749.0M774.1 749.0L774.4 739.4L775.3 733.1L775.5 724.0L776.2 721.5L776.3 749.0L776.5 749.0M779.7 749.0L780.0 740.4L781.1 734.9L781.3 726.9L782.2 724.6L782.2 749.0L782.4 749.0M782.9 749.0L783.1 740.1L784.0 734.3L784.2 725.8L784.9 723.5L785.0 749.0L785.1 749.0M785.3 749.0L785.7 740.6L786.7 735.1L787.0 727.2L787.8 724.9L787.9 749.0L788.1 749.0M821.6 749.0L821.9 739.2L822.9 732.9L823.2 723.8L824.0 721.2L824.1 749.0L824.3 749.0M824.0 749.0L824.3 739.4L825.3 733.2L825.5 724.2L826.3 721.6L826.4 749.0L826.6 749.0M829.6 749.0L829.9 740.3L831.0 734.7L831.3 726.6L832.2 724.3L832.2 749.0L832.4 749.0M831.7 749.0L832.0 739.8L833.1 733.8L833.4 725.2L834.3 722.8L834.3 749.0L834.5 749.0M834.9 749.0L835.2 740.1L836.1 734.4L836.4 726.0L837.1 723.6L837.2 749.0L837.4 749.0M837.3 749.0L837.6 740.6L838.7 735.2L839.0 727.3L839.8 725.0L839.9 749.0L840.1 749.0M840.7 749.0L841.0 740.3L842.1 734.7L842.3 726.5L843.2 724.3L843.2 749.0L843.4 749.0M842.9 749.0L843.2 739.7L844.1 733.6L844.3 724.8L845.0 722.4L845.0 749.0L845.2 749.0M846.0 749.0L846.3 739.7L847.3 733.6L847.5 724.9L848.3 722.4L848.4 749.0L848.6 749.0M848.3 749.0L848.6 740.0L849.6 734.2L849.9 725.8L850.6 723.4L850.7 749.0L850.9 749.0M851.5 749.0L851.9 740.3L853.1 734.7L853.4 726.6L854.3 724.3L854.4 749.0L854.7 749.0M854.1 749.0L854.5 740.4L855.7 734.9L856.0 726.9L856.9 724.6L857.0 749.0L857.2 749.0M857.4 749.0L857.7 739.5L858.7 733.4L858.9 724.4L859.7 721.9L859.8 749.0L860.0 749.0M860.0 749.0L860.2 740.6L861.1 735.2L861.3 727.3L862.0 725.1L862.1 749.0L862.2 749.0M862.8 749.0L863.1 740.5L864.1 735.0L864.3 727.0L865.1 724.7L865.2 749.0L865.4 749.0M898.1 749.0L898.4 739.7L899.3 733.6L899.5 724.9L900.3 722.4L900.4 749.0L900.5 749.0M901.2 749.0L901.5 740.1L902.4 734.4L902.7 726.0L903.4 723.7L903.5 749.0L903.7 749.0M904.0 749.0L904.3 740.4L905.4 734.8L905.7 726.7L906.5 724.4L906.6 749.0L906.8 749.0M909.4 749.0L909.7 740.3L910.6 734.7L910.9 726.5L911.6 724.2L911.7 749.0L911.8 749.0M912.3 749.0L912.7 739.9L913.7 734.0L914.0 725.4L914.8 723.0L914.9 749.0L915.1 749.0M914.6 749.0L915.0 740.1L916.2 734.3L916.5 725.9L917.4 723.5L917.5 749.0L917.7 749.0M917.6 749.0L917.9 740.6L919.0 735.2L919.2 727.2L920.0 725.0L920.1 749.0L920.3 749.0M920.5 749.0L920.8 740.8L921.7 735.5L921.9 727.7L922.7 725.5L922.8 749.0L922.9 749.0M923.3 749.0L923.7 739.7L924.9 733.7L925.2 725.0L926.1 722.5L926.2 749.0L926.4 749.0M925.4 749.0L925.7 739.8L926.7 733.8L926.9 725.2L927.7 722.7L927.7 749.0L927.9 749.0M928.6 749.0L928.9 739.8L929.9 733.8L930.2 725.2L931.0 722.8L931.1 749.0L931.3 749.0M931.6 749.0L931.9 739.3L932.9 733.0L933.2 723.9L933.9 721.3L934.0 749.0L934.2 749.0M933.9 749.0L934.2 739.8L935.3 733.8L935.6 725.1L936.4 722.6L936.5 749.0L936.7 749.0M936.8 749.0L937.1 739.8L938.1 733.8L938.4 725.1L939.1 722.7L939.2 749.0L939.4 749.0M939.9 749.0L940.2 740.6L941.2 735.1L941.5 727.2L942.3 725.0L942.4 749.0L942.6 749.0M942.2 749.0L942.4 740.7L943.3 735.4L943.5 727.6L944.2 725.5L944.3 749.0L944.4 749.0M945.2 749.0L945.5 739.9L946.4 734.1L946.6 725.5L947.4 723.1L947.4 749.0L947.6 749.0M947.9 749.0L948.2 739.4L949.2 733.2L949.5 724.2L950.3 721.6L950.4 749.0L950.6 749.0M950.9 749.0L951.3 739.3L952.4 733.0L952.7 723.8L953.7 721.2L953.8 749.0L954.0 749.0M953.7 749.0L954.0 740.5L954.8 735.0L955.1 727.1L955.8 724.8L955.8 749.0L956.0 749.0M955.9 749.0L956.3 740.1L957.4 734.3L957.7 725.9L958.6 723.5L958.7 749.0L958.9 749.0M959.0 749.0L959.4 739.9L960.6 734.1L960.9 725.6L961.8 723.2L961.9 749.0L962.2 749.0M962.3 749.0L962.6 740.4L963.4 734.8L963.7 726.6L964.3 724.3L964.4 749.0L964.6 749.0M964.5 749.0L964.7 739.3L965.7 733.1L965.9 723.9L966.6 721.4L966.7 749.0L966.9 749.0M966.8 749.0L967.1 739.8L968.2 733.9L968.5 725.2L969.4 722.8L969.5 749.0L969.7 749.0M973.0 749.0L973.3 739.8L974.2 733.8L974.4 725.1L975.1 722.6L975.1 749.0L975.3 749.0M974.9 749.0L975.2 740.7L976.3 735.3L976.5 727.5L977.4 725.4L977.5 749.0L977.7 749.0M980.9 749.0L981.1 740.0L982.0 734.3L982.3 725.8L983.0 723.5L983.0 749.0L983.2 749.0M984.1 749.0L984.4 740.1L985.4 734.3L985.6 725.9L986.4 723.6L986.4 749.0L986.6 749.0M985.9 749.0L986.3 739.3L987.4 733.0L987.7 723.8L988.6 721.2L988.7 749.0L988.9 749.0M988.9 749.0L989.1 740.1L990.1 734.4L990.3 726.0L991.0 723.7L991.1 749.0L991.2 749.0M992.2 749.0L992.5 740.7L993.5 735.4L993.8 727.6L994.6 725.4L994.7 749.0L994.9 749.0M994.2 749.0L994.5 740.4L995.6 734.8L995.9 726.8L996.8 724.5L996.9 749.0L997.1 749.0M997.2 749.0L997.5 740.4L998.5 734.8L998.8 726.7L999.6 724.4L999.7 749.0L999.8 749.0M1000.5 749.0L1000.9 740.1L1001.9 734.3L1002.2 725.9L1003.0 723.5L1003.1 749.0L1003.3 749.0M1003.2 749.0L1003.5 740.5L1004.4 735.0L1004.6 727.1L1005.3 724.8L1005.4 749.0L1005.6 749.0M1006.1 749.0L1006.4 739.7L1007.3 733.7L1007.6 724.9L1008.3 722.5L1008.4 749.0L1008.5 749.0M1009.0 749.0L1009.3 740.5L1010.2 735.0L1010.5 727.0L1011.2 724.8L1011.3 749.0L1011.5 749.0M1010.9 749.0L1011.2 740.7L1012.4 735.4L1012.7 727.6L1013.6 725.4L1013.7 749.0L1013.9 749.0M1013.6 749.0L1013.8 740.1L1014.7 734.4L1014.9 726.0L1015.6 723.6L1015.7 749.0L1015.8 749.0M1019.5 749.0L1019.8 740.7L1020.8 735.4L1021.0 727.6L1021.8 725.4L1021.9 749.0L1022.1 749.0M1022.0 749.0L1022.2 740.2L1023.1 734.4L1023.3 726.1L1024.0 723.8L1024.1 749.0L1024.2 749.0M1024.8 749.0L1025.1 740.7L1026.3 735.4L1026.6 727.6L1027.4 725.4L1027.5 749.0L1027.7 749.0M1027.4 749.0L1027.7 739.3L1028.5 733.0L1028.8 723.8L1029.4 721.2L1029.5 749.0L1029.7 749.0M1030.7 749.0L1031.0 739.5L1032.0 733.3L1032.3 724.3L1033.1 721.8L1033.1 749.0L1033.3 749.0M1032.9 749.0L1033.2 740.6L1034.2 735.2L1034.4 727.4L1035.2 725.2L1035.3 749.0L1035.5 749.0M1035.9 749.0L1036.2 739.8L1037.2 733.9L1037.4 725.2L1038.2 722.8L1038.3 749.0L1038.5 749.0M1039.2 749.0L1039.5 740.0L1040.3 734.1L1040.6 725.7L1041.3 723.3L1041.3 749.0L1041.5 749.0M1050.0 749.0L1050.3 740.4L1051.4 734.9L1051.7 726.8L1052.5 724.5L1052.6 749.0L1052.8 749.0M1052.2 749.0L1052.5 739.6L1053.6 733.5L1053.9 724.7L1054.7 722.2L1054.8 749.0L1055.0 749.0M1055.3 749.0L1055.6 739.4L1056.7 733.1L1056.9 724.0L1057.8 721.5L1057.8 749.0L1058.0 749.0M1057.9 749.0L1058.1 739.3L1059.0 732.9L1059.2 723.8L1059.9 721.2L1059.9 749.0L1060.1 749.0M1061.0 749.0L1061.4 739.7L1062.6 733.6L1062.9 724.8L1063.8 722.4L1063.9 749.0L1064.1 749.0M1063.3 749.0L1063.6 739.8L1064.7 733.9L1064.9 725.2L1065.7 722.8L1065.8 749.0L1066.0 749.0M1066.8 749.0L1067.1 740.8L1068.0 735.5L1068.3 727.7L1069.0 725.6L1069.1 749.0L1069.3 749.0M1068.9 749.0L1069.1 739.6L1070.0 733.5L1070.2 724.6L1070.9 722.1L1071.0 749.0L1071.1 749.0M1071.7 749.0L1072.0 740.4L1073.0 734.9L1073.2 726.8L1074.0 724.6L1074.1 749.0L1074.3 749.0M1074.6 749.0L1074.9 740.0L1076.0 734.1L1076.3 725.6L1077.1 723.3L1077.2 749.0L1077.4 749.0M1077.4 749.0L1077.8 739.3L1078.9 733.0L1079.2 723.9L1080.1 721.4L1080.2 749.0L1080.4 749.0M1080.3 749.0L1080.6 740.0L1081.6 734.2L1081.9 725.7L1082.6 723.3L1082.7 749.0L1082.9 749.0M1082.9 749.0L1083.2 740.5L1084.3 735.0L1084.6 727.1L1085.4 724.8L1085.5 749.0L1085.6 749.0M1085.6 749.0L1085.9 740.8L1086.9 735.5L1087.1 727.7L1087.8 725.5L1087.9 749.0L1088.1 749.0M1089.0 749.0L1089.3 740.5L1090.5 735.1L1090.8 727.1L1091.7 724.9L1091.8 749.0L1092.0 749.0M1091.5 749.0L1091.7 739.4L1092.6 733.1L1092.8 724.0L1093.5 721.5L1093.6 749.0L1093.7 749.0M1093.9 749.0L1094.2 740.6L1095.2 735.2L1095.4 727.2L1096.2 725.0L1096.2 749.0L1096.4 749.0M1096.5 749.0L1096.9 740.6L1098.0 735.2L1098.3 727.3L1099.2 725.1L1099.3 749.0L1099.5 749.0M1099.0 749.0L1099.3 739.5L1100.5 733.4L1100.8 724.5L1101.7 722.0L1101.8 749.0L1102.0 749.0M1102.2 749.0L1102.5 739.5L1103.4 733.4L1103.6 724.5L1104.4 722.0L1104.4 749.0L1104.6 749.0M1107.5 749.0L1107.8 739.3L1108.7 733.0L1109.0 723.8L1109.7 721.2L1109.8 749.0L1110.0 749.0M1110.6 749.0L1111.0 740.3L1112.1 734.7L1112.4 726.5L1113.2 724.2L1113.3 749.0L1113.5 749.0M1151.8 749.0L1152.1 740.1L1153.0 734.3L1153.3 725.8L1154.1 723.5L1154.1 749.0L1154.3 749.0M1155.1 749.0L1155.4 740.1L1156.5 734.3L1156.8 726.0L1157.6 723.6L1157.7 749.0L1157.9 749.0M1157.0 749.0L1157.3 740.4L1158.2 734.8L1158.4 726.7L1159.1 724.5L1159.2 749.0L1159.4 749.0M1160.1 749.0L1160.4 740.6L1161.4 735.1L1161.6 727.2L1162.4 724.9L1162.5 749.0L1162.7 749.0M1162.7 749.0L1163.1 740.2L1164.2 734.5L1164.5 726.2L1165.4 723.9L1165.5 749.0L1165.7 749.0M1165.2 749.0L1165.5 740.6L1166.6 735.2L1166.9 727.3L1167.7 725.1L1167.8 749.0L1168.0 749.0M1168.9 749.0L1169.2 739.8L1170.1 733.8L1170.4 725.1L1171.1 722.7L1171.2 749.0L1171.4 749.0M1170.5 749.0L1170.9 740.1L1171.9 734.4L1172.1 726.0L1172.9 723.6L1173.0 749.0L1173.2 749.0M1174.1 749.0L1174.4 739.4L1175.4 733.1L1175.7 724.0L1176.5 721.5L1176.6 749.0L1176.7 749.0M1176.7 749.0L1177.0 739.4L1178.1 733.1L1178.4 724.1L1179.2 721.5L1179.3 749.0L1179.5 749.0M1179.1 749.0L1179.3 739.3L1180.2 733.0L1180.4 723.8L1181.1 721.2L1181.1 749.0L1181.3 749.0M1182.3 749.0L1182.7 740.2L1183.8 734.5L1184.1 726.3L1185.0 723.9L1185.1 749.0L1185.3 749.0M1184.8 749.0L1185.1 740.1L1186.1 734.3L1186.4 725.9L1187.2 723.5L1187.3 749.0L1187.4 749.0M1187.5 749.0L1187.8 739.7L1188.7 733.6L1188.9 724.8L1189.6 722.4L1189.6 749.0L1189.8 749.0M1189.9 749.0L1190.3 740.2L1191.2 734.5L1191.5 726.3L1192.3 723.9L1192.4 749.0L1192.5 749.0M1193.0 749.0L1193.3 739.3L1194.4 733.1L1194.7 724.0L1195.5 721.4L1195.6 749.0L1195.8 749.0M1195.9 749.0L1196.2 740.7L1197.3 735.3L1197.5 727.5L1198.3 725.3L1198.4 749.0L1198.6 749.0M1198.8 749.0L1199.1 739.3L1200.1 733.0L1200.3 723.8L1201.1 721.2L1201.2 749.0L1201.4 749.0M1221.0 749.0L1221.3 739.6L1222.3 733.6L1222.5 724.8L1223.3 722.3L1223.4 749.0L1223.6 749.0M1222.9 749.0L1223.2 740.1L1224.1 734.4L1224.3 726.1L1225.0 723.7L1225.1 749.0L1225.2 749.0M1229.1 749.0L1229.4 740.4L1230.3 734.9L1230.6 726.8L1231.3 724.6L1231.4 749.0L1231.5 749.0M1231.8 749.0L1232.2 740.1L1233.3 734.3L1233.5 726.0L1234.4 723.6L1234.5 749.0L1234.7 749.0M1234.6 749.0L1235.0 739.9L1236.0 734.0L1236.3 725.4L1237.2 723.0L1237.3 749.0L1237.5 749.0M1237.6 749.0L1238.0 740.5L1239.2 735.0L1239.5 727.0L1240.4 724.8L1240.5 749.0L1240.7 749.0M1239.7 749.0L1240.0 739.8L1240.9 733.9L1241.1 725.2L1241.8 722.8L1241.9 749.0L1242.0 749.0M1242.6 749.0L1242.9 739.5L1243.7 733.3L1244.0 724.4L1244.6 721.9L1244.7 749.0L1244.9 749.0M1245.8 749.0L1246.1 739.6L1247.2 733.5L1247.5 724.6L1248.4 722.1L1248.5 749.0L1248.7 749.0M1247.9 749.0L1248.2 739.7L1249.2 733.7L1249.4 724.9L1250.2 722.5L1250.3 749.0L1250.4 749.0M1251.0 749.0L1251.4 739.6L1252.4 733.5L1252.7 724.7L1253.5 722.2L1253.6 749.0L1253.8 749.0M1253.8 749.0L1254.2 740.2L1255.4 734.5L1255.7 726.3L1256.7 723.9L1256.8 749.0L1257.0 749.0M1259.3 749.0L1259.6 740.1L1260.7 734.4L1261.0 726.0L1261.8 723.7L1261.9 749.0L1262.1 749.0M1261.9 749.0L1262.3 739.3L1263.3 733.0L1263.5 723.8L1264.3 721.2L1264.4 749.0L1264.6 749.0M1264.5 749.0L1264.8 739.6L1265.9 733.5L1266.2 724.6L1267.1 722.2L1267.1 749.0L1267.4 749.0M1267.7 749.0L1268.0 740.6L1269.1 735.1L1269.4 727.2L1270.3 725.0L1270.4 749.0L1270.6 749.0M1270.3 749.0L1270.6 739.5L1271.6 733.3L1271.8 724.4L1272.5 721.8L1272.6 749.0L1272.8 749.0M1272.6 749.0L1273.0 739.4L1274.2 733.2L1274.5 724.1L1275.4 721.6L1275.5 749.0L1275.7 749.0M1275.6 749.0L1275.9 740.3L1277.1 734.7L1277.4 726.6L1278.4 724.3L1278.4 749.0L1278.7 749.0M1278.1 749.0L1278.4 740.2L1279.4 734.4L1279.6 726.1L1280.3 723.8L1280.4 749.0L1280.6 749.0M1281.6 749.0L1281.9 739.3L1282.9 733.0L1283.1 723.9L1283.9 721.3L1283.9 749.0L1284.1 749.0M1283.9 749.0L1284.2 739.8L1285.2 733.8L1285.5 725.2L1286.3 722.8L1286.4 749.0L1286.6 749.0M1287.1 749.0L1287.4 739.7L1288.6 733.8L1288.9 725.0L1289.5 722.6L1289.5 749.0L1289.5 749.0" stroke="#ea4df2" stroke-opacity="0.4" stroke-width="0.8" stroke-linejoin="round"/>
<path d="M469.4 749.0L469.7 739.8L470.7 733.8L471.0 725.1L471.7 722.6L471.8 749.0L472.0 749.0M471.9 749.0L472.1 739.4L473.0 733.2L473.2 724.1L473.9 721.6L473.9 749.0L474.1 749.0M472.6 749.0L472.9 740.6L473.9 735.2L474.2 727.4L474.9 725.2L475.0 749.0L475.2 749.0M477.8 749.0L478.1 740.3L479.1 734.6L479.3 726.4L480.0 724.1L480.1 749.0L480.3 749.0M480.2 749.0L480.6 740.2L481.7 734.5L481.9 726.2L482.8 723.8L482.9 749.0L483.1 749.0M482.9 749.0L483.2 740.7L484.0 735.3L484.2 727.4L484.9 725.2L485.0 749.0L485.1 749.0M535.6 749.0L535.9 740.5L537.0 735.0L537.2 727.0L538.0 724.8L538.1 749.0L538.3 749.0M537.8 749.0L538.1 739.8L539.1 733.9L539.4 725.2L540.2 722.8L540.2 749.0L540.4 749.0M540.9 749.0L541.3 740.4L542.5 734.9L542.8 726.8L543.7 724.5L543.8 749.0L544.0 749.0M543.8 749.0L544.2 740.3L545.3 734.7L545.6 726.6L546.5 724.3L546.6 749.0L546.8 749.0M544.5 749.0L544.9 740.0L546.0 734.3L546.3 725.8L547.2 723.5L547.2 749.0L547.4 749.0M547.0 749.0L547.3 739.5L548.4 733.3L548.7 724.3L549.6 721.8L549.7 749.0L549.9 749.0M552.0 749.0L552.4 739.6L553.5 733.6L553.8 724.7L554.7 722.3L554.7 749.0L554.9 749.0M552.4 749.0L552.7 739.3L553.7 733.0L554.0 723.8L554.8 721.2L554.8 749.0L555.0 749.0M557.9 749.0L558.2 739.7L559.1 733.7L559.4 725.0L560.1 722.5L560.2 749.0L560.4 749.0M558.8 749.0L559.1 740.2L560.1 734.4L560.4 726.1L561.1 723.8L561.2 749.0L561.4 749.0M563.6 749.0L563.9 740.4L564.8 734.9L565.1 726.9L565.8 724.6L565.9 749.0L566.1 749.0M563.5 749.0L563.8 739.7L564.7 733.6L564.9 724.8L565.6 722.3L565.7 749.0L565.9 749.0M566.9 749.0L567.2 740.4L568.3 734.8L568.5 726.7L569.3 724.4L569.4 749.0L569.6 749.0M569.5 749.0L569.9 739.5L571.0 733.3L571.3 724.4L572.2 721.8L572.3 749.0L572.5 749.0M594.6 749.0L595.0 740.5L596.1 735.0L596.5 727.0L597.4 724.7L597.5 749.0L597.7 749.0M629.2 749.0L629.5 739.7L630.4 733.7L630.6 725.0L631.3 722.5L631.4 749.0L631.5 749.0M693.8 749.0L694.1 739.4L695.1 733.2L695.3 724.2L696.1 721.6L696.2 749.0L696.4 749.0M776.0 749.0L776.4 740.5L777.5 734.9L777.8 726.9L778.7 724.6L778.8 749.0L779.0 749.0M787.1 749.0L787.4 739.9L788.6 734.0L788.9 725.5L789.8 723.1L789.9 749.0L790.1 749.0M789.7 749.0L790.0 740.7L790.9 735.3L791.2 727.4L791.9 725.2L792.0 749.0L792.2 749.0M792.9 749.0L793.2 740.5L794.0 735.0L794.2 727.0L794.9 724.8L795.0 749.0L795.1 749.0M797.5 749.0L797.9 740.4L799.1 734.9L799.4 726.8L800.3 724.5L800.4 749.0L800.6 749.0M799.6 749.0L799.9 740.5L800.7 734.9L800.9 726.9L801.6 724.6L801.7 749.0L801.8 749.0M802.7 749.0L803.0 740.1L804.1 734.3L804.3 726.0L805.1 723.6L805.2 749.0L805.4 749.0M803.4 749.0L803.7 740.5L804.6 735.0L804.8 726.9L805.5 724.7L805.5 749.0L805.7 749.0M808.2 749.0L808.5 739.3L809.4 733.1L809.7 724.0L810.5 721.5L810.6 749.0L810.7 749.0M811.5 749.0L811.9 739.8L813.0 733.9L813.3 725.3L814.2 722.9L814.3 749.0L814.5 749.0M814.1 749.0L814.4 739.9L815.4 734.0L815.7 725.4L816.5 723.0L816.6 749.0L816.8 749.0M816.6 749.0L817.0 739.5L818.2 733.4L818.5 724.4L819.4 721.9L819.5 749.0L819.7 749.0M819.1 749.0L819.4 740.7L820.3 735.4L820.6 727.6L821.3 725.4L821.4 749.0L821.5 749.0M827.7 749.0L828.0 739.8L829.2 733.9L829.5 725.2L830.4 722.8L830.5 749.0L830.7 749.0M866.0 749.0L866.2 739.9L867.1 733.9L867.4 725.3L868.1 722.9L868.2 749.0L868.3 749.0M866.4 749.0L866.7 739.4L867.6 733.2L867.9 724.2L868.6 721.6L868.7 749.0L868.9 749.0M869.6 749.0L869.9 740.8L870.9 735.4L871.1 727.6L871.9 725.5L872.0 749.0L872.2 749.0M874.8 749.0L875.1 740.1L876.2 734.4L876.5 726.0L877.4 723.7L877.5 749.0L877.7 749.0M874.7 749.0L875.0 740.6L875.9 735.2L876.2 727.3L876.9 725.1L877.0 749.0L877.2 749.0M877.5 749.0L877.9 740.2L879.0 734.6L879.3 726.3L880.2 724.0L880.3 749.0L880.5 749.0M881.3 749.0L881.5 740.6L882.5 735.1L882.7 727.2L883.4 724.9L883.5 749.0L883.7 749.0M883.4 749.0L883.7 739.9L884.8 734.1L885.0 725.6L885.9 723.2L886.0 749.0L886.1 749.0M886.3 749.0L886.6 739.5L887.6 733.4L887.9 724.5L888.7 722.0L888.7 749.0L888.9 749.0M891.5 749.0L891.9 740.3L893.1 734.7L893.4 726.5L894.4 724.2L894.4 749.0L894.7 749.0M891.5 749.0L891.8 739.8L892.7 733.8L893.0 725.1L893.7 722.7L893.8 749.0L894.0 749.0M894.3 749.0L894.6 740.6L895.4 735.2L895.6 727.4L896.3 725.2L896.4 749.0L896.6 749.0M907.3 749.0L907.6 740.2L908.6 734.6L908.8 726.3L909.6 724.0L909.6 749.0L909.8 749.0M968.6 749.0L969.0 740.4L970.0 734.9L970.3 726.8L971.1 724.5L971.2 749.0L971.4 749.0M977.3 749.0L977.6 739.9L978.7 734.0L979.0 725.4L979.8 723.0L979.9 749.0L980.1 749.0M1018.2 749.0L1018.5 740.0L1019.4 734.2L1019.6 725.7L1020.3 723.4L1020.3 749.0L1020.5 749.0M1040.4 749.0L1040.7 740.1L1041.7 734.4L1042.0 726.0L1042.8 723.7L1042.9 749.0L1043.0 749.0M1045.9 749.0L1046.3 739.3L1047.4 733.0L1047.7 723.8L1048.6 721.2L1048.6 749.0L1048.9 749.0M1047.9 749.0L1048.3 740.4L1049.5 734.8L1049.8 726.7L1050.7 724.4L1050.8 749.0L1051.0 749.0M1105.3 749.0L1105.7 739.6L1106.8 733.5L1107.1 724.7L1108.0 722.2L1108.1 749.0L1108.3 749.0M1111.8 749.0L1112.1 739.9L1113.0 734.0L1113.3 725.5L1114.0 723.1L1114.1 749.0L1114.3 749.0M1117.1 749.0L1117.4 740.5L1118.5 735.0L1118.8 727.0L1119.6 724.8L1119.7 749.0L1119.9 749.0M1119.9 749.0L1120.2 740.4L1121.3 734.9L1121.6 726.8L1122.5 724.5L1122.6 749.0L1122.8 749.0M1120.2 749.0L1120.5 740.3L1121.3 734.7L1121.5 726.5L1122.2 724.3L1122.3 749.0L1122.4 749.0M1125.1 749.0L1125.5 740.4L1126.6 734.8L1126.9 726.6L1127.8 724.4L1127.9 749.0L1128.1 749.0M1128.3 749.0L1128.7 740.0L1129.7 734.1L1129.9 725.6L1130.7 723.2L1130.8 749.0L1131.0 749.0M1128.8 749.0L1129.1 739.4L1130.0 733.2L1130.2 724.2L1130.9 721.7L1131.0 749.0L1131.2 749.0M1131.2 749.0L1131.5 740.8L1132.7 735.5L1133.0 727.8L1133.9 725.6L1134.0 749.0L1134.2 749.0M1136.1 749.0L1136.5 740.4L1137.6 734.9L1137.8 726.8L1138.7 724.5L1138.8 749.0L1139.0 749.0M1139.5 749.0L1139.8 740.6L1140.8 735.2L1141.1 727.3L1141.8 725.1L1141.9 749.0L1142.1 749.0M1140.2 749.0L1140.5 739.6L1141.6 733.5L1141.9 724.6L1142.8 722.1L1142.9 749.0L1143.1 749.0M1144.7 749.0L1145.0 739.7L1145.9 733.7L1146.1 725.0L1146.8 722.5L1146.9 749.0L1147.1 749.0M1146.9 749.0L1147.2 740.1L1148.1 734.4L1148.4 726.1L1149.1 723.8L1149.2 749.0L1149.4 749.0M1148.0 749.0L1148.3 740.3L1149.2 734.7L1149.5 726.5L1150.2 724.2L1150.3 749.0L1150.5 749.0M1202.8 749.0L1203.1 739.8L1204.0 733.9L1204.2 725.2L1205.0 722.8L1205.0 749.0L1205.2 749.0M1204.7 749.0L1205.0 740.2L1206.2 734.5L1206.6 726.2L1207.5 723.9L1207.6 749.0L1207.8 749.0M1207.7 749.0L1208.1 740.0L1209.1 734.2L1209.3 725.8L1210.2 723.4L1210.2 749.0L1210.4 749.0M1208.2 749.0L1208.5 740.7L1209.4 735.4L1209.7 727.6L1210.4 725.4L1210.5 749.0L1210.7 749.0M1211.2 749.0L1211.5 740.4L1212.6 734.9L1212.9 726.8L1213.8 724.6L1213.9 749.0L1214.1 749.0M1216.5 749.0L1216.8 740.2L1217.6 734.4L1217.9 726.1L1218.5 723.8L1218.6 749.0L1218.8 749.0M1216.9 749.0L1217.2 740.5L1218.0 735.0L1218.3 726.9L1219.0 724.7L1219.0 749.0L1219.2 749.0M1227.1 749.0L1227.4 739.7L1228.5 733.6L1228.7 724.8L1229.6 722.3L1229.7 749.0L1229.9 749.0M1255.3 749.0L1255.7 739.7L1256.8 733.7L1257.0 725.0L1257.9 722.5L1258.0 749.0L1258.2 749.0" stroke="#ea4df2" stroke-opacity="0.9" stroke-width="0.8" stroke-linejoin="round"/>
<path d="M463.0 749.0L463.3 739.2L464.5 733.3L464.8 724.6L465.7 721.9L465.8 749.0L466.0 749.0M465.8 749.0L466.1 740.0L467.0 734.4L467.3 726.4L468.0 723.9L468.1 749.0L468.2 749.0M468.7 749.0L469.0 739.0L469.9 732.9L470.2 724.0L470.9 721.2L471.0 749.0L471.1 749.0M471.0 749.0L471.4 739.1L472.5 733.1L472.7 724.3L473.6 721.5L473.7 749.0L473.9 749.0M473.7 749.0L474.0 739.5L475.2 733.7L475.5 725.2L476.5 722.5L476.6 749.0L476.8 749.0M476.3 749.0L476.6 739.7L477.7 734.0L478.0 725.8L478.8 723.2L478.9 749.0L479.1 749.0M479.3 749.0L479.6 739.5L480.6 733.7L480.9 725.2L481.7 722.6L481.7 749.0L481.9 749.0M482.0 749.0L482.3 738.8L483.3 732.6L483.6 723.5L484.4 720.6L484.5 749.0L484.7 749.0M485.2 749.0L485.5 739.5L486.7 733.6L487.0 725.2L487.9 722.5L488.0 749.0L488.2 749.0M487.7 749.0L488.0 739.6L489.1 733.9L489.3 725.6L490.2 723.0L490.3 749.0L490.5 749.0M490.8 749.0L491.1 740.0L492.1 734.5L492.4 726.6L493.2 724.1L493.3 749.0L493.5 749.0M493.3 749.0L493.6 739.9L494.6 734.4L494.8 726.3L495.5 723.8L495.6 749.0L495.8 749.0M496.5 749.0L496.8 739.9L497.7 734.4L497.9 726.3L498.7 723.8L498.7 749.0L498.9 749.0M498.8 749.0L499.1 740.0L500.1 734.5L500.4 726.5L501.2 724.0L501.3 749.0L501.5 749.0M501.1 749.0L501.4 739.2L502.4 733.2L502.7 724.5L503.5 721.8L503.6 749.0L503.8 749.0M504.2 749.0L504.5 739.7L505.3 734.0L505.6 725.8L506.2 723.2L506.3 749.0L506.5 749.0M507.2 749.0L507.5 739.9L508.6 734.4L508.8 726.3L509.6 723.8L509.7 749.0L509.9 749.0M510.2 749.0L510.5 740.2L511.5 734.9L511.7 727.1L512.5 724.7L512.6 749.0L512.8 749.0M512.3 749.0L512.6 739.7L513.6 734.1L513.9 725.9L514.7 723.3L514.8 749.0L515.0 749.0M515.6 749.0L515.9 738.9L517.1 732.7L517.4 723.6L518.4 720.8L518.5 749.0L518.7 749.0M518.1 749.0L518.4 739.5L519.3 733.6L519.5 725.2L520.2 722.5L520.3 749.0L520.4 749.0M521.1 749.0L521.4 739.8L522.5 734.2L522.8 726.0L523.6 723.5L523.7 749.0L523.9 749.0M523.2 749.0L523.5 740.2L524.5 734.8L524.8 727.0L525.6 724.5L525.7 749.0L525.9 749.0M526.5 749.0L526.8 740.0L527.9 734.5L528.2 726.4L529.1 723.9L529.2 749.0L529.4 749.0M529.2 749.0L529.6 739.5L530.6 733.7L530.9 725.3L531.7 722.6L531.7 749.0L531.9 749.0M531.6 749.0L532.0 739.5L533.1 733.7L533.5 725.2L534.4 722.6L534.5 749.0L534.7 749.0M534.5 749.0L534.9 739.6L536.1 733.8L536.4 725.4L537.3 722.8L537.4 749.0L537.6 749.0M536.9 749.0L537.2 739.1L538.2 733.0L538.4 724.1L539.2 721.4L539.2 749.0L539.4 749.0M539.7 749.0L540.1 740.0L541.1 734.5L541.4 726.5L542.2 724.0L542.3 749.0L542.5 749.0M542.8 749.0L543.0 739.7L543.9 734.1L544.1 725.8L544.8 723.2L544.9 749.0L545.0 749.0M545.7 749.0L546.0 739.4L546.9 733.6L547.1 725.1L547.9 722.4L548.0 749.0L548.1 749.0M548.2 749.0L548.5 739.0L549.6 732.9L549.8 724.0L550.6 721.2L550.7 749.0L550.9 749.0M551.0 749.0L551.3 739.8L552.5 734.1L552.8 725.9L553.7 723.3L553.8 749.0L554.0 749.0M553.8 749.0L554.1 740.0L555.0 734.5L555.2 726.5L555.9 724.0L556.0 749.0L556.2 749.0M556.6 749.0L557.0 739.8L558.0 734.1L558.3 725.9L559.1 723.3L559.2 749.0L559.4 749.0M559.6 749.0L559.9 739.1L560.7 733.1L561.0 724.3L561.6 721.6L561.7 749.0L561.9 749.0M562.4 749.0L562.7 739.4L563.9 733.6L564.2 725.1L565.1 722.5L565.2 749.0L565.4 749.0M564.5 749.0L564.8 740.1L565.9 734.7L566.1 726.8L567.0 724.3L567.0 749.0L567.2 749.0M567.9 749.0L568.2 738.8L569.3 732.5L569.6 723.4L570.4 720.6L570.5 749.0L570.7 749.0M570.7 749.0L571.0 738.8L572.0 732.6L572.3 723.5L573.1 720.7L573.1 749.0L573.3 749.0M573.3 749.0L573.6 739.4L574.5 733.6L574.8 725.1L575.5 722.5L575.6 749.0L575.8 749.0M575.6 749.0L576.0 740.0L577.1 734.5L577.4 726.4L578.3 723.9L578.4 749.0L578.6 749.0M578.9 749.0L579.2 740.3L580.3 734.9L580.5 727.2L581.4 724.8L581.5 749.0L581.7 749.0M581.8 749.0L582.2 739.9L583.2 734.3L583.4 726.2L584.2 723.7L584.3 749.0L584.5 749.0M584.0 749.0L584.4 738.8L585.3 732.6L585.6 723.6L586.4 720.8L586.5 749.0L586.7 749.0M586.8 749.0L587.1 739.5L588.3 733.7L588.7 725.2L589.6 722.6L589.7 749.0L589.9 749.0M589.5 749.0L589.8 739.4L591.0 733.5L591.3 724.9L592.2 722.2L592.3 749.0L592.5 749.0M592.7 749.0L592.9 739.7L593.8 733.9L594.1 725.6L594.8 723.0L594.8 749.0L595.0 749.0M595.6 749.0L596.0 740.0L597.1 734.6L597.4 726.6L598.3 724.1L598.4 749.0L598.6 749.0M598.1 749.0L598.4 738.9L599.4 732.7L599.7 723.7L600.5 720.9L600.6 749.0L600.8 749.0M601.3 749.0L601.5 739.9L602.4 734.3L602.6 726.2L603.3 723.6L603.4 749.0L603.5 749.0M603.1 749.0L603.4 738.8L604.4 732.5L604.7 723.5L605.4 720.6L605.5 749.0L605.7 749.0M606.0 749.0L606.3 738.9L607.3 732.8L607.6 723.8L608.4 721.0L608.5 749.0L608.7 749.0M609.1 749.0L609.4 739.5L610.3 733.6L610.5 725.2L611.2 722.5L611.3 749.0L611.4 749.0M611.7 749.0L612.0 739.9L612.9 734.4L613.2 726.3L613.9 723.8L614.0 749.0L614.2 749.0M614.3 749.0L614.5 740.0L615.4 734.5L615.6 726.6L616.3 724.1L616.4 749.0L616.6 749.0M617.4 749.0L617.8 738.9L618.8 732.7L619.1 723.7L620.0 720.9L620.1 749.0L620.3 749.0M620.1 749.0L620.4 740.0L621.4 734.5L621.6 726.4L622.4 723.9L622.5 749.0L622.7 749.0M622.5 749.0L622.8 739.3L623.7 733.3L623.9 724.7L624.6 722.0L624.7 749.0L624.9 749.0M625.5 749.0L625.9 739.6L626.9 733.8L627.1 725.4L627.9 722.8L628.0 749.0L628.2 749.0M627.8 749.0L628.0 739.4L629.0 733.5L629.2 725.0L629.9 722.3L630.0 749.0L630.2 749.0M631.1 749.0L631.4 738.8L632.5 732.6L632.8 723.6L633.7 720.7L633.8 749.0L634.0 749.0M633.7 749.0L634.0 740.1L635.1 734.7L635.4 726.8L636.3 724.4L636.4 749.0L636.6 749.0M636.5 749.0L636.9 739.5L638.1 733.6L638.4 725.2L639.3 722.5L639.4 749.0L639.6 749.0M639.4 749.0L639.8 740.1L640.9 734.6L641.1 726.7L642.0 724.2L642.1 749.0L642.3 749.0M641.7 749.0L642.0 739.9L642.8 734.3L643.0 726.2L643.7 723.7L643.8 749.0L643.9 749.0M644.8 749.0L645.1 739.6L646.0 733.9L646.2 725.6L646.9 723.0L646.9 749.0L647.1 749.0M647.1 749.0L647.4 739.3L648.3 733.3L648.5 724.7L649.2 722.0L649.2 749.0L649.4 749.0M650.6 749.0L650.9 739.5L651.9 733.6L652.2 725.2L653.0 722.5L653.1 749.0L653.3 749.0M653.0 749.0L653.3 739.9L654.3 734.3L654.5 726.2L655.2 723.7L655.3 749.0L655.5 749.0M656.3 749.0L656.6 739.6L657.5 733.8L657.8 725.5L658.5 722.9L658.6 749.0L658.8 749.0M658.1 749.0L658.4 739.5L659.3 733.7L659.5 725.3L660.2 722.6L660.3 749.0L660.5 749.0M661.3 749.0L661.6 740.3L662.7 734.9L662.9 727.2L663.8 724.7L663.9 749.0L664.0 749.0M664.2 749.0L664.5 740.2L665.6 734.9L665.9 727.1L666.8 724.7L666.8 749.0L667.0 749.0M666.9 749.0L667.3 739.2L668.4 733.2L668.7 724.5L669.7 721.8L669.7 749.0L670.0 749.0M669.5 749.0L669.8 739.9L670.9 734.4L671.2 726.3L672.0 723.8L672.1 749.0L672.3 749.0M672.1 749.0L672.4 739.0L673.6 732.8L673.9 723.9L674.8 721.1L674.9 749.0L675.1 749.0M675.0 749.0L675.3 739.6L676.2 733.8L676.4 725.5L677.1 722.9L677.2 749.0L677.3 749.0M678.0 749.0L678.3 739.0L679.5 732.9L679.8 724.0L680.6 721.2L680.7 749.0L680.9 749.0M680.3 749.0L680.6 739.7L681.8 734.1L682.1 725.9L683.0 723.3L683.0 749.0L683.3 749.0M683.7 749.0L684.1 739.0L685.3 732.9L685.6 724.1L686.5 721.3L686.6 749.0L686.8 749.0M686.3 749.0L686.6 739.6L687.5 733.9L687.7 725.5L688.5 722.9L688.5 749.0L688.7 749.0M689.0 749.0L689.4 739.6L690.4 733.8L690.7 725.5L691.5 722.8L691.6 749.0L691.8 749.0M691.9 749.0L692.2 738.8L693.3 732.5L693.6 723.4L694.5 720.6L694.6 749.0L694.8 749.0M694.3 749.0L694.6 739.2L695.4 733.2L695.6 724.4L696.3 721.7L696.4 749.0L696.5 749.0M697.3 749.0L697.6 739.5L698.7 733.7L699.0 725.2L699.9 722.6L700.0 749.0L700.2 749.0M700.2 749.0L700.5 739.3L701.5 733.5L701.8 724.9L702.6 722.2L702.7 749.0L702.8 749.0M702.4 749.0L702.7 738.8L703.6 732.6L703.8 723.6L704.5 720.8L704.6 749.0L704.7 749.0M705.7 749.0L706.0 738.9L707.1 732.8L707.4 723.8L708.3 721.0L708.4 749.0L708.6 749.0M708.0 749.0L708.4 738.7L709.5 732.4L709.8 723.3L710.6 720.5L710.7 749.0L710.9 749.0M710.9 749.0L711.2 738.9L712.1 732.7L712.3 723.7L712.9 720.9L713.0 749.0L713.2 749.0M713.8 749.0L714.1 738.8L715.0 732.5L715.2 723.4L716.0 720.6L716.0 749.0L716.2 749.0M716.7 749.0L717.0 738.9L718.0 732.8L718.3 723.8L719.1 721.0L719.1 749.0L719.3 749.0M719.0 749.0L719.4 740.0L720.5 734.5L720.8 726.5L721.7 723.9L721.8 749.0L722.0 749.0M722.2 749.0L722.6 740.1L723.8 734.6L724.1 726.7L725.0 724.2L725.1 749.0L725.4 749.0M725.0 749.0L725.4 738.8L726.4 732.6L726.7 723.5L727.6 720.7L727.7 749.0L727.9 749.0M727.4 749.0L727.7 739.1L728.7 733.1L728.9 724.3L729.7 721.6L729.7 749.0L729.9 749.0M730.1 749.0L730.5 740.0L731.5 734.5L731.8 726.4L732.6 723.9L732.7 749.0L732.9 749.0M733.0 749.0L733.4 739.6L734.6 733.8L734.9 725.5L735.8 722.9L735.9 749.0L736.1 749.0M736.2 749.0L736.5 740.0L737.7 734.6L738.0 726.6L738.9 724.1L739.0 749.0L739.2 749.0M738.1 749.0L738.5 738.9L739.7 732.7L740.0 723.8L741.0 721.0L741.1 749.0L741.3 749.0M740.7 749.0L741.0 739.7L741.8 734.0L742.1 725.8L742.7 723.2L742.8 749.0L743.0 749.0M744.1 749.0L744.4 739.3L745.3 733.3L745.5 724.6L746.3 721.9L746.3 749.0L746.5 749.0M747.1 749.0L747.3 739.8L748.3 734.1L748.5 725.9L749.2 723.4L749.3 749.0L749.5 749.0M749.9 749.0L750.2 739.0L751.1 732.8L751.3 723.9L752.0 721.1L752.1 749.0L752.3 749.0M752.3 749.0L752.7 738.7L753.8 732.4L754.1 723.2L755.0 720.3L755.1 749.0L755.3 749.0M755.4 749.0L755.7 739.3L756.6 733.4L756.8 724.8L757.5 722.1L757.6 749.0L757.8 749.0M757.6 749.0L758.0 738.7L759.1 732.4L759.4 723.2L760.3 720.4L760.4 749.0L760.6 749.0M760.7 749.0L761.0 739.2L762.1 733.2L762.4 724.5L763.3 721.8L763.4 749.0L763.6 749.0M762.8 749.0L763.1 738.7L764.0 732.5L764.2 723.3L764.9 720.5L765.0 749.0L765.1 749.0M765.5 749.0L765.8 739.8L766.9 734.2L767.1 726.1L767.9 723.5L768.0 749.0L768.2 749.0M768.6 749.0L768.9 738.7L770.1 732.4L770.4 723.2L771.3 720.4L771.3 749.0L771.6 749.0M771.3 749.0L771.7 739.2L772.8 733.2L773.0 724.5L773.9 721.8L774.0 749.0L774.2 749.0M774.1 749.0L774.5 739.1L775.5 733.0L775.8 724.2L776.6 721.5L776.7 749.0L776.9 749.0M777.2 749.0L777.4 739.4L778.3 733.5L778.5 724.9L779.2 722.3L779.2 749.0L779.4 749.0M779.6 749.0L779.9 738.9L780.7 732.7L781.0 723.7L781.6 720.9L781.7 749.0L781.9 749.0M783.0 749.0L783.3 738.9L784.2 732.7L784.4 723.7L785.1 720.9L785.2 749.0L785.4 749.0M785.2 749.0L785.6 739.4L786.7 733.6L787.0 725.1L787.9 722.4L788.0 749.0L788.2 749.0M787.8 749.0L788.1 738.9L789.0 732.8L789.3 723.8L790.0 721.0L790.1 749.0L790.3 749.0M790.8 749.0L791.1 739.1L792.1 733.0L792.3 724.1L793.1 721.4L793.2 749.0L793.4 749.0M793.9 749.0L794.2 739.0L795.3 732.9L795.5 724.1L796.4 721.3L796.4 749.0L796.6 749.0M796.8 749.0L797.2 739.1L798.3 733.0L798.6 724.2L799.6 721.5L799.7 749.0L799.9 749.0M799.0 749.0L799.3 739.3L800.4 733.4L800.7 724.8L801.6 722.1L801.7 749.0L801.9 749.0M801.4 749.0L801.8 739.9L802.8 734.3L803.1 726.2L803.9 723.6L804.0 749.0L804.2 749.0M804.7 749.0L805.0 739.0L805.9 732.9L806.1 724.1L806.8 721.3L806.9 749.0L807.0 749.0M807.1 749.0L807.5 739.4L808.5 733.5L808.8 724.9L809.7 722.3L809.8 749.0L810.0 749.0M810.5 749.0L810.8 739.9L811.9 734.3L812.1 726.2L813.0 723.7L813.1 749.0L813.3 749.0M813.0 749.0L813.4 738.7L814.4 732.5L814.7 723.3L815.5 720.5L815.5 749.0L815.7 749.0M815.7 749.0L816.0 739.4L817.2 733.5L817.5 724.9L818.4 722.2L818.5 749.0L818.7 749.0M818.3 749.0L818.6 740.3L819.6 734.9L819.8 727.2L820.6 724.8L820.7 749.0L820.9 749.0M821.4 749.0L821.8 740.1L823.0 734.7L823.3 726.7L824.2 724.3L824.3 749.0L824.5 749.0M823.8 749.0L824.1 739.4L825.0 733.5L825.3 724.9L826.0 722.2L826.0 749.0L826.2 749.0M826.5 749.0L826.8 740.2L827.9 734.8L828.2 726.9L829.0 724.5L829.1 749.0L829.3 749.0M829.9 749.0L830.1 740.3L831.0 734.9L831.2 727.2L831.9 724.8L832.0 749.0L832.1 749.0M831.7 749.0L832.1 739.8L833.2 734.2L833.5 726.0L834.4 723.5L834.5 749.0L834.7 749.0M835.3 749.0L835.6 738.7L836.6 732.4L836.9 723.3L837.7 720.5L837.8 749.0L838.0 749.0M837.2 749.0L837.5 738.8L838.6 732.6L838.9 723.6L839.7 720.8L839.8 749.0L840.0 749.0M840.6 749.0L840.9 739.8L841.8 734.2L842.0 726.1L842.7 723.5L842.8 749.0L842.9 749.0M843.1 749.0L843.4 739.6L844.3 733.8L844.5 725.5L845.2 722.8L845.3 749.0L845.5 749.0M846.2 749.0L846.5 740.1L847.4 734.7L847.7 726.7L848.4 724.3L848.5 749.0L848.7 749.0M848.2 749.0L848.6 739.7L849.7 734.0L850.0 725.8L850.9 723.2L851.0 749.0L851.2 749.0M851.5 749.0L851.8 739.3L852.8 733.4L853.1 724.8L853.9 722.1L854.0 749.0L854.2 749.0M854.2 749.0L854.6 740.2L855.7 734.8L856.0 726.9L856.9 724.5L857.0 749.0L857.2 749.0M857.3 749.0L857.7 739.3L858.8 733.3L859.1 724.7L860.1 722.0L860.1 749.0L860.4 749.0M860.1 749.0L860.4 739.3L861.3 733.4L861.5 724.8L862.2 722.1L862.3 749.0L862.5 749.0M862.5 749.0L862.8 738.9L863.6 732.7L863.8 723.7L864.5 720.9L864.6 749.0L864.7 749.0M864.8 749.0L865.2 740.0L866.4 734.5L866.7 726.6L867.6 724.1L867.7 749.0L868.0 749.0M867.8 749.0L868.0 738.8L869.0 732.5L869.2 723.4L870.0 720.5L870.0 749.0L870.2 749.0M870.4 749.0L870.7 739.1L871.6 733.0L871.9 724.2L872.6 721.5L872.7 749.0L872.8 749.0M873.3 749.0L873.6 739.7L874.7 734.1L875.0 725.9L875.8 723.3L875.9 749.0L876.1 749.0M876.2 749.0L876.5 739.6L877.6 733.8L877.9 725.4L878.8 722.8L878.8 749.0L879.0 749.0M878.6 749.0L878.9 739.8L880.0 734.2L880.3 726.0L881.2 723.5L881.3 749.0L881.5 749.0M881.8 749.0L882.1 739.8L882.9 734.2L883.2 726.0L883.8 723.4L883.9 749.0L884.1 749.0M884.7 749.0L885.1 739.4L886.1 733.6L886.4 725.1L887.3 722.5L887.4 749.0L887.6 749.0M887.1 749.0L887.4 739.4L888.4 733.5L888.7 725.0L889.5 722.3L889.6 749.0L889.8 749.0M890.4 749.0L890.7 740.1L891.5 734.6L891.8 726.7L892.4 724.3L892.5 749.0L892.7 749.0M892.7 749.0L893.0 739.3L894.1 733.3L894.4 724.7L895.3 722.0L895.4 749.0L895.6 749.0M895.7 749.0L895.9 739.6L896.8 733.9L897.0 725.5L897.7 722.9L897.7 749.0L897.9 749.0M898.2 749.0L898.6 739.9L899.7 734.3L900.0 726.1L901.0 723.6L901.1 749.0L901.3 749.0M901.2 749.0L901.5 738.8L902.6 732.6L902.8 723.5L903.7 720.7L903.7 749.0L903.9 749.0M903.9 749.0L904.3 739.9L905.4 734.4L905.7 726.3L906.5 723.7L906.6 749.0L906.8 749.0M906.6 749.0L906.9 739.6L908.0 733.8L908.2 725.5L909.1 722.9L909.2 749.0L909.4 749.0M909.6 749.0L909.9 740.3L910.9 735.0L911.1 727.3L911.8 724.9L911.9 749.0L912.1 749.0M912.2 749.0L912.6 739.1L913.7 733.1L914.0 724.3L914.9 721.6L914.9 749.0L915.1 749.0M914.8 749.0L915.2 739.7L916.3 734.0L916.6 725.7L917.6 723.2L917.7 749.0L917.9 749.0M917.3 749.0L917.7 738.9L918.8 732.7L919.1 723.8L920.0 721.0L920.1 749.0L920.3 749.0M920.4 749.0L920.8 739.4L922.0 733.5L922.3 724.9L923.2 722.2L923.3 749.0L923.6 749.0M923.5 749.0L923.9 740.3L925.0 735.0L925.3 727.3L926.2 724.9L926.3 749.0L926.5 749.0M925.5 749.0L925.8 739.8L926.8 734.2L927.1 726.0L927.9 723.4L928.0 749.0L928.2 749.0M928.9 749.0L929.1 738.8L930.0 732.6L930.2 723.5L930.9 720.6L930.9 749.0L931.1 749.0M931.4 749.0L931.7 740.1L932.8 734.7L933.1 726.8L933.9 724.3L934.0 749.0L934.2 749.0M933.9 749.0L934.3 739.3L935.3 733.4L935.6 724.8L936.5 722.1L936.6 749.0L936.8 749.0M936.9 749.0L937.2 739.2L938.3 733.3L938.6 724.6L939.5 721.9L939.5 749.0L939.7 749.0M940.1 749.0L940.4 739.2L941.5 733.1L941.8 724.4L942.6 721.7L942.7 749.0L942.8 749.0M942.2 749.0L942.5 740.3L943.5 735.0L943.8 727.3L944.6 724.9L944.6 749.0L944.8 749.0M945.6 749.0L945.9 739.7L946.9 734.0L947.2 725.7L948.0 723.1L948.1 749.0L948.3 749.0M947.6 749.0L947.9 739.5L949.1 733.7L949.4 725.3L950.4 722.6L950.5 749.0L950.7 749.0M950.8 749.0L951.2 740.2L952.1 734.8L952.4 726.9L953.2 724.5L953.3 749.0L953.4 749.0M953.6 749.0L953.9 739.2L955.0 733.3L955.3 724.6L956.1 721.9L956.2 749.0L956.4 749.0M955.9 749.0L956.2 739.4L957.4 733.6L957.7 725.1L958.6 722.4L958.7 749.0L958.9 749.0M959.4 749.0L959.7 739.4L960.7 733.5L961.0 724.9L961.8 722.2L961.9 749.0L962.1 749.0M962.1 749.0L962.4 739.5L963.6 733.7L963.9 725.3L964.8 722.7L964.9 749.0L965.1 749.0M964.4 749.0L964.8 740.0L965.8 734.4L966.0 726.4L966.8 723.9L966.9 749.0L967.1 749.0M966.7 749.0L967.1 739.5L968.2 733.7L968.5 725.2L969.4 722.6L969.4 749.0L969.6 749.0M969.6 749.0L970.0 738.8L971.0 732.6L971.3 723.5L972.2 720.7L972.3 749.0L972.5 749.0M972.9 749.0L973.2 739.9L974.2 734.4L974.4 726.3L975.1 723.8L975.2 749.0L975.4 749.0M975.0 749.0L975.3 739.7L976.2 733.9L976.5 725.6L977.2 723.0L977.3 749.0L977.5 749.0M978.3 749.0L978.7 739.6L979.9 733.9L980.2 725.6L981.1 723.0L981.2 749.0L981.4 749.0M980.8 749.0L981.1 739.7L982.2 734.0L982.5 725.7L983.4 723.1L983.5 749.0L983.7 749.0M984.0 749.0L984.3 739.4L985.4 733.5L985.7 724.9L986.5 722.3L986.6 749.0L986.8 749.0M986.0 749.0L986.4 739.6L987.5 733.8L987.8 725.4L988.7 722.8L988.8 749.0L989.0 749.0M988.9 749.0L989.3 740.2L990.5 734.8L990.8 726.9L991.7 724.4L991.8 749.0L992.0 749.0M992.0 749.0L992.4 739.3L993.4 733.3L993.7 724.7L994.5 722.0L994.5 749.0L994.7 749.0M994.2 749.0L994.6 739.1L995.8 733.1L996.1 724.3L997.0 721.6L997.1 749.0L997.3 749.0M997.5 749.0L997.8 739.9L998.8 734.4L999.0 726.3L999.8 723.8L999.9 749.0L1000.0 749.0M1000.6 749.0L1000.9 739.3L1001.9 733.4L1002.1 724.8L1002.9 722.1L1002.9 749.0L1003.1 749.0M1003.2 749.0L1003.5 738.8L1004.5 732.6L1004.7 723.5L1005.5 720.7L1005.6 749.0L1005.8 749.0M1006.1 749.0L1006.5 738.8L1007.7 732.5L1008.0 723.4L1008.9 720.5L1009.0 749.0L1009.2 749.0M1008.8 749.0L1009.2 739.1L1010.3 733.1L1010.6 724.3L1011.5 721.6L1011.6 749.0L1011.8 749.0M1010.7 749.0L1011.0 739.0L1011.8 732.9L1012.1 724.0L1012.7 721.3L1012.8 749.0L1013.0 749.0M1013.9 749.0L1014.2 738.9L1015.3 732.7L1015.5 723.7L1016.3 720.9L1016.4 749.0L1016.6 749.0M1017.2 749.0L1017.5 739.8L1018.4 734.2L1018.6 726.0L1019.4 723.5L1019.4 749.0L1019.6 749.0M1019.7 749.0L1020.0 740.3L1020.9 735.0L1021.1 727.3L1021.8 724.9L1021.9 749.0L1022.1 749.0M1021.9 749.0L1022.2 739.9L1023.1 734.3L1023.4 726.2L1024.1 723.7L1024.2 749.0L1024.4 749.0M1025.0 749.0L1025.4 740.2L1026.4 734.8L1026.7 727.0L1027.5 724.5L1027.6 749.0L1027.8 749.0M1027.6 749.0L1027.9 739.3L1028.8 733.3L1029.0 724.7L1029.7 721.9L1029.8 749.0L1029.9 749.0M1030.5 749.0L1030.8 739.1L1031.8 733.1L1032.0 724.4L1032.8 721.6L1032.9 749.0L1033.1 749.0M1033.0 749.0L1033.4 738.8L1034.5 732.6L1034.8 723.5L1035.6 720.7L1035.7 749.0L1035.9 749.0M1035.6 749.0L1035.9 740.3L1036.8 735.0L1037.1 727.2L1037.8 724.8L1037.9 749.0L1038.1 749.0M1039.0 749.0L1039.3 740.2L1040.1 734.9L1040.4 727.1L1041.0 724.7L1041.1 749.0L1041.3 749.0M1041.4 749.0L1041.7 739.4L1042.7 733.6L1043.0 725.1L1043.8 722.5L1043.9 749.0L1044.1 749.0M1044.6 749.0L1045.0 739.8L1046.0 734.1L1046.3 725.9L1047.1 723.3L1047.2 749.0L1047.4 749.0M1046.7 749.0L1047.0 740.2L1048.2 734.8L1048.5 726.9L1049.5 724.4L1049.6 749.0L1049.8 749.0M1049.9 749.0L1050.3 739.0L1051.4 732.9L1051.7 724.1L1052.6 721.3L1052.7 749.0L1052.9 749.0M1052.3 749.0L1052.5 739.9L1053.4 734.4L1053.7 726.3L1054.4 723.8L1054.5 749.0L1054.6 749.0M1055.4 749.0L1055.7 739.0L1056.9 732.9L1057.2 724.0L1058.1 721.2L1058.2 749.0L1058.5 749.0M1057.8 749.0L1058.1 739.0L1059.1 732.8L1059.4 723.9L1060.2 721.1L1060.2 749.0L1060.4 749.0M1061.1 749.0L1061.4 739.9L1062.5 734.3L1062.8 726.3L1063.6 723.7L1063.7 749.0L1063.9 749.0M1063.3 749.0L1063.6 739.0L1064.5 732.8L1064.7 723.9L1065.4 721.1L1065.5 749.0L1065.6 749.0M1066.7 749.0L1067.1 739.4L1068.2 733.6L1068.5 725.1L1069.5 722.4L1069.5 749.0L1069.8 749.0M1068.9 749.0L1069.3 739.0L1070.4 732.9L1070.7 724.0L1071.6 721.2L1071.7 749.0L1071.9 749.0M1071.5 749.0L1071.8 739.6L1073.0 733.9L1073.3 725.6L1074.2 723.0L1074.3 749.0L1074.5 749.0M1074.4 749.0L1074.8 740.0L1075.8 734.5L1076.1 726.5L1077.0 724.0L1077.1 749.0L1077.3 749.0M1077.5 749.0L1077.8 739.4L1078.7 733.6L1078.9 725.1L1079.6 722.4L1079.7 749.0L1079.8 749.0M1080.4 749.0L1080.8 739.3L1081.9 733.4L1082.1 724.9L1083.0 722.2L1083.1 749.0L1083.3 749.0M1082.8 749.0L1083.2 739.1L1084.4 733.1L1084.7 724.3L1085.7 721.6L1085.8 749.0L1086.0 749.0M1085.2 749.0L1085.5 738.9L1086.5 732.8L1086.7 723.8L1087.5 721.0L1087.5 749.0L1087.7 749.0M1088.6 749.0L1088.9 739.9L1089.8 734.3L1090.0 726.2L1090.8 723.7L1090.8 749.0L1091.0 749.0M1091.3 749.0L1091.7 739.6L1092.8 733.8L1093.2 725.4L1094.1 722.8L1094.2 749.0L1094.4 749.0M1094.1 749.0L1094.4 739.9L1095.3 734.4L1095.6 726.4L1096.3 723.8L1096.4 749.0L1096.6 749.0M1096.3 749.0L1096.6 739.4L1097.5 733.5L1097.7 724.9L1098.4 722.2L1098.5 749.0L1098.6 749.0M1099.1 749.0L1099.5 738.7L1100.7 732.4L1101.0 723.2L1101.9 720.3L1102.0 749.0L1102.2 749.0M1102.1 749.0L1102.4 739.5L1103.3 733.8L1103.5 725.4L1104.2 722.7L1104.3 749.0L1104.4 749.0M1104.5 749.0L1104.8 739.6L1105.9 733.8L1106.2 725.5L1107.0 722.8L1107.1 749.0L1107.2 749.0M1107.4 749.0L1107.7 740.2L1108.7 734.8L1109.0 726.9L1109.8 724.4L1109.9 749.0L1110.1 749.0M1110.4 749.0L1110.7 740.2L1111.6 734.8L1111.9 727.0L1112.6 724.6L1112.7 749.0L1112.9 749.0M1113.2 749.0L1113.5 738.9L1114.4 732.7L1114.6 723.8L1115.3 721.0L1115.3 749.0L1115.5 749.0M1116.1 749.0L1116.4 739.6L1117.6 733.9L1117.9 725.6L1118.9 723.0L1119.0 749.0L1119.2 749.0M1118.5 749.0L1118.9 740.1L1120.1 734.7L1120.4 726.7L1121.3 724.3L1121.4 749.0L1121.6 749.0M1121.1 749.0L1121.3 738.8L1122.3 732.5L1122.5 723.5L1123.3 720.6L1123.4 749.0L1123.5 749.0M1124.2 749.0L1124.6 739.3L1125.7 733.4L1126.0 724.8L1127.0 722.1L1127.0 749.0L1127.3 749.0M1126.9 749.0L1127.3 739.7L1128.3 734.0L1128.6 725.8L1129.4 723.2L1129.5 749.0L1129.7 749.0M1129.9 749.0L1130.2 739.9L1131.2 734.4L1131.5 726.3L1132.2 723.8L1132.3 749.0L1132.5 749.0M1132.6 749.0L1133.0 738.9L1134.0 732.7L1134.2 723.8L1135.1 721.0L1135.1 749.0L1135.3 749.0M1135.4 749.0L1135.7 739.4L1136.9 733.6L1137.1 725.1L1138.0 722.4L1138.1 749.0L1138.3 749.0M1138.2 749.0L1138.6 739.9L1139.7 734.4L1140.0 726.4L1140.9 723.8L1141.0 749.0L1141.2 749.0M1141.0 749.0L1141.2 740.2L1142.1 734.8L1142.4 727.0L1143.0 724.6L1143.1 749.0L1143.3 749.0M1143.5 749.0L1143.9 739.6L1145.1 733.8L1145.4 725.4L1146.4 722.8L1146.4 749.0L1146.7 749.0M1146.3 749.0L1146.6 739.5L1147.6 733.8L1147.9 725.4L1148.6 722.7L1148.7 749.0L1148.9 749.0M1148.9 749.0L1149.2 739.5L1150.1 733.6L1150.3 725.1L1151.0 722.5L1151.1 749.0L1151.3 749.0M1151.9 749.0L1152.2 738.8L1153.0 732.5L1153.3 723.4L1154.0 720.6L1154.0 749.0L1154.2 749.0M1155.0 749.0L1155.3 739.8L1156.2 734.1L1156.5 725.9L1157.3 723.3L1157.3 749.0L1157.5 749.0M1157.1 749.0L1157.3 739.2L1158.2 733.3L1158.5 724.6L1159.2 721.9L1159.3 749.0L1159.4 749.0M1160.1 749.0L1160.5 740.0L1161.6 734.5L1161.9 726.5L1162.9 724.0L1163.0 749.0L1163.2 749.0M1162.9 749.0L1163.2 738.7L1164.3 732.5L1164.6 723.4L1165.5 720.5L1165.6 749.0L1165.8 749.0M1165.4 749.0L1165.7 740.2L1166.8 734.9L1167.1 727.1L1167.9 724.6L1168.0 749.0L1168.2 749.0M1168.5 749.0L1168.9 739.2L1170.0 733.1L1170.4 724.4L1171.3 721.6L1171.4 749.0L1171.6 749.0M1170.4 749.0L1170.8 738.7L1172.0 732.5L1172.3 723.3L1173.3 720.5L1173.4 749.0L1173.6 749.0M1174.0 749.0L1174.3 739.1L1175.3 733.0L1175.5 724.2L1176.3 721.5L1176.4 749.0L1176.6 749.0M1177.0 749.0L1177.4 740.3L1178.4 735.0L1178.7 727.2L1179.6 724.8L1179.6 749.0L1179.8 749.0M1179.2 749.0L1179.5 739.6L1180.5 733.8L1180.8 725.4L1181.6 722.8L1181.7 749.0L1181.9 749.0M1182.0 749.0L1182.4 738.9L1183.5 732.8L1183.7 723.9L1184.6 721.1L1184.7 749.0L1184.9 749.0M1184.7 749.0L1185.1 739.4L1186.2 733.5L1186.5 724.9L1187.3 722.3L1187.4 749.0L1187.6 749.0M1187.5 749.0L1187.8 739.5L1188.7 733.8L1189.0 725.4L1189.7 722.7L1189.8 749.0L1190.0 749.0M1190.2 749.0L1190.6 740.3L1191.7 735.0L1192.0 727.2L1192.9 724.8L1193.0 749.0L1193.2 749.0M1192.6 749.0L1193.0 739.6L1194.1 733.8L1194.4 725.5L1195.3 722.9L1195.4 749.0L1195.6 749.0M1196.1 749.0L1196.5 738.9L1197.6 732.7L1197.9 723.8L1198.8 721.0L1198.9 749.0L1199.1 749.0M1198.8 749.0L1199.1 738.9L1200.0 732.8L1200.2 723.8L1200.9 721.0L1200.9 749.0L1201.1 749.0M1201.8 749.0L1202.1 739.9L1203.1 734.3L1203.4 726.2L1204.1 723.7L1204.2 749.0L1204.4 749.0M1203.9 749.0L1204.2 739.4L1205.3 733.6L1205.6 725.1L1206.4 722.5L1206.5 749.0L1206.7 749.0M1207.2 749.0L1207.5 739.7L1208.4 734.0L1208.6 725.7L1209.4 723.1L1209.4 749.0L1209.6 749.0M1209.5 749.0L1209.9 739.3L1211.0 733.4L1211.3 724.8L1212.1 722.1L1212.2 749.0L1212.4 749.0M1212.5 749.0L1212.9 739.2L1214.1 733.2L1214.4 724.4L1215.3 721.7L1215.4 749.0L1215.6 749.0M1215.2 749.0L1215.5 740.0L1216.5 734.6L1216.8 726.6L1217.6 724.1L1217.7 749.0L1217.9 749.0M1217.8 749.0L1218.0 739.3L1218.9 733.3L1219.1 724.7L1219.8 722.0L1219.8 749.0L1220.0 749.0M1220.9 749.0L1221.2 739.9L1222.1 734.4L1222.3 726.3L1223.0 723.8L1223.1 749.0L1223.2 749.0M1223.2 749.0L1223.5 739.7L1224.7 734.0L1225.0 725.7L1225.9 723.1L1226.0 749.0L1226.2 749.0M1226.3 749.0L1226.6 739.2L1227.6 733.2L1227.9 724.6L1228.7 721.8L1228.8 749.0L1229.0 749.0M1229.3 749.0L1229.6 740.0L1230.6 734.5L1230.8 726.5L1231.6 724.0L1231.6 749.0L1231.8 749.0M1231.5 749.0L1231.8 740.0L1233.0 734.5L1233.3 726.5L1234.3 724.0L1234.4 749.0L1234.6 749.0M1234.4 749.0L1234.7 739.6L1235.9 733.8L1236.2 725.4L1237.2 722.8L1237.2 749.0L1237.5 749.0M1237.4 749.0L1237.7 740.3L1238.7 734.9L1239.0 727.1L1239.7 724.7L1239.8 749.0L1240.0 749.0M1239.7 749.0L1240.0 739.9L1241.2 734.4L1241.5 726.4L1242.4 723.8L1242.5 749.0L1242.8 749.0M1242.7 749.0L1243.0 740.2L1243.9 734.8L1244.1 726.9L1244.8 724.5L1244.9 749.0L1245.0 749.0M1245.6 749.0L1246.0 739.5L1247.1 733.7L1247.5 725.3L1248.4 722.7L1248.5 749.0L1248.7 749.0M1247.9 749.0L1248.2 739.2L1249.0 733.2L1249.3 724.4L1249.9 721.7L1250.0 749.0L1250.1 749.0M1250.9 749.0L1251.3 740.1L1252.4 734.7L1252.7 726.8L1253.7 724.3L1253.8 749.0L1254.0 749.0M1253.6 749.0L1253.9 739.3L1254.9 733.4L1255.2 724.7L1256.0 722.0L1256.0 749.0L1256.2 749.0M1256.4 749.0L1256.7 739.8L1257.8 734.1L1258.1 725.9L1258.9 723.3L1259.0 749.0L1259.2 749.0M1259.2 749.0L1259.6 739.6L1260.8 733.8L1261.1 725.4L1262.1 722.8L1262.2 749.0L1262.4 749.0M1262.1 749.0L1262.4 738.7L1263.4 732.5L1263.7 723.3L1264.5 720.5L1264.5 749.0L1264.7 749.0M1264.7 749.0L1265.0 740.0L1265.9 734.4L1266.2 726.4L1266.9 723.9L1267.0 749.0L1267.1 749.0M1267.5 749.0L1267.8 738.8L1268.9 732.6L1269.2 723.6L1270.0 720.7L1270.1 749.0L1270.3 749.0M1270.3 749.0L1270.6 739.0L1271.6 732.9L1271.9 724.0L1272.7 721.3L1272.8 749.0L1273.0 749.0M1272.8 749.0L1273.1 739.1L1274.2 733.1L1274.4 724.3L1275.3 721.5L1275.3 749.0L1275.5 749.0M1275.9 749.0L1276.3 740.2L1277.5 734.8L1277.8 727.0L1278.8 724.6L1278.8 749.0L1279.1 749.0M1278.4 749.0L1278.7 739.3L1279.9 733.3L1280.2 724.7L1281.1 722.0L1281.2 749.0L1281.4 749.0M1281.4 749.0L1281.8 740.1L1282.8 734.6L1283.1 726.6L1283.9 724.2L1284.0 749.0L1284.2 749.0M1283.9 749.0L1284.2 739.0L1285.3 732.8L1285.5 723.9L1286.3 721.1L1286.4 749.0L1286.6 749.0M1287.0 749.0L1287.4 739.2L1288.6 733.2L1288.9 724.5L1289.5 721.7L1289.5 749.0L1289.5 749.0" stroke="#6da344" stroke-opacity="0.9" stroke-width="0.85" stroke-linejoin="round"/>
<path d="M462.5 749.5H1290" stroke="#c9c9d8" stroke-width="1"/>
<path d="M462.5 768V763.4H1291.0V768M573.5 763.4V768M715.0 763.4V768M856.0 763.4V768M988.0 763.4V768M1129.5 763.4V768M1265.8 763.4V768" stroke="#222" stroke-width="1.2"/>
<path d="M1290.3 720V761" stroke="#222" stroke-width="1.2"/>
<rect x="1287.2" y="726" width="4.8" height="17.5" rx="1" fill="#26262b"/>
<rect x="1288" y="752" width="3.4" height="7" rx="1" fill="#9a9a9a"/>
</svg>
<span class="t" style="left:415.07px;top:160px;font-size:10.5px;line-height:12px;color:#222;transform:scaleX(0.9229);transform-origin:right center;">ACTIVE</span>
<span class="t" style="left:404.57px;top:295px;font-size:10.5px;line-height:12px;color:#222;transform:scaleX(0.9293);transform-origin:right center;">INACTIVE</span>
<span class="t" style="left:433.54px;top:336px;font-size:10px;line-height:11px;color:#222;transform:scaleX(0.9556);transform-origin:right center;">48.5</span>
<span class="t" style="left:441.88px;top:360px;font-size:10px;line-height:11px;color:#222;transform:scaleX(0.9889);transform-origin:right center;">40</span>
<span class="t" style="left:441.88px;top:388px;font-size:10px;line-height:11px;color:#222;transform:scaleX(0.9889);transform-origin:right center;">30</span>
<span class="t" style="left:441.88px;top:416px;font-size:10px;line-height:11px;color:#222;transform:scaleX(0.9889);transform-origin:right center;">20</span>
<span class="t" style="left:441.88px;top:444px;font-size:10px;line-height:11px;color:#222;transform:scaleX(0.9889);transform-origin:right center;">10</span>
<span class="t" style="left:447.44px;top:471px;font-size:10px;line-height:11px;color:#222;">0</span>
<span class="t" style="left:433.54px;top:511px;font-size:10px;line-height:11px;color:#222;transform:scaleX(0.9556);transform-origin:right center;">46.2</span>
<span class="t" style="left:441.88px;top:530px;font-size:10px;line-height:11px;color:#222;transform:scaleX(0.9889);transform-origin:right center;">40</span>
<span class="t" style="left:441.88px;top:559px;font-size:10px;line-height:11px;color:#222;transform:scaleX(0.9889);transform-origin:right center;">30</span>
<span class="t" style="left:441.88px;top:588px;font-size:10px;line-height:11px;color:#222;transform:scaleX(0.9889);transform-origin:right center;">20</span>
<span class="t" style="left:441.88px;top:618px;font-size:10px;line-height:11px;color:#222;transform:scaleX(0.9889);transform-origin:right center;">10</span>
<span class="t" style="left:447.44px;top:647px;font-size:10px;line-height:11px;color:#222;">0</span>
<span class="t" style="left:458.79px;top:661px;font-size:10px;line-height:11px;color:#222;transform:scaleX(1.0190);transform-origin:center center;">06:00</span>
<span class="t" style="left:562.49px;top:661px;font-size:10px;line-height:11px;color:#222;transform:scaleX(1.0190);transform-origin:center center;">07:00</span>
<span class="t" style="left:666.19px;top:661px;font-size:10px;line-height:11px;color:#222;transform:scaleX(1.0190);transform-origin:center center;">08:00</span>
<span class="t" style="left:769.89px;top:661px;font-size:10px;line-height:11px;color:#222;transform:scaleX(1.0190);transform-origin:center center;">09:00</span>
<span class="t" style="left:873.59px;top:661px;font-size:10px;line-height:11px;color:#222;transform:scaleX(1.0190);transform-origin:center center;">10:00</span>
<span class="t" style="left:977.66px;top:661px;font-size:10px;line-height:11px;color:#222;transform:scaleX(1.0501);transform-origin:center center;">11:00</span>
<span class="t" style="left:1080.99px;top:661px;font-size:10px;line-height:11px;color:#222;transform:scaleX(1.0190);transform-origin:center center;">12:00</span>
<span class="t" style="left:1184.69px;top:661px;font-size:10px;line-height:11px;color:#222;transform:scaleX(1.0190);transform-origin:center center;">13:00</span>
<span class="t" style="left:564.61px;top:768px;font-size:10px;line-height:11px;color:#222;transform:scaleX(0.9841);transform-origin:center center;">Dec</span>
<span class="t" style="left:703.88px;top:768px;font-size:10px;line-height:11px;color:#222;transform:scaleX(1.0114);transform-origin:center center;">2024</span>
<span class="t" style="left:847.38px;top:768px;font-size:10px;line-height:11px;color:#222;transform:scaleX(0.9285);transform-origin:center center;">Feb</span>
<span class="t" style="left:979.39px;top:768px;font-size:10px;line-height:11px;color:#222;transform:scaleX(1.0161);transform-origin:center center;">Mar</span>
<span class="t" style="left:1121.72px;top:768px;font-size:10px;line-height:11px;color:#222;transform:scaleX(1.0602);transform-origin:center center;">Apr</span>
<span class="t" style="left:1256.35px;top:768px;font-size:10px;line-height:11px;color:#222;transform:scaleX(1.0322);transform-origin:center center;">May</span>
<div class="chip" style="left:461.5px;top:133.2px;width:99px;height:24.5px"></div>
<div style="left:465.9px;top:140.3px;width:10.2px;height:10.2px;background:#3a3fa8;border-radius:50%;"></div>
<span class="t" style="left:480.50px;top:141px;font-size:10px;line-height:11px;color:#1a1a1a;transform:scaleX(0.9525);transform-origin:left center;">BA:ACTIVE.1</span>
<svg class="i" style="left:542.9px;top:139.1px" width="13.5" height="13.5" viewBox="0 0 24 24" fill="#111" ><path d="M10 9h4V6h3l-5-5-5 5h3v3zm-1 1H6V7l-5 5 5 5v-3h3v-4zm14 2l-5-5v3h-3v4h3v3l5-5zm-9 3h-4v3H7l5 5 5-5h-3v-3z"/></svg>
<div class="chip" style="left:461.5px;top:309px;width:75px;height:24.5px"></div>
<div style="left:465.9px;top:316.1px;width:10.2px;height:10.2px;background:#a42a17;border-radius:50%;"></div>
<span class="t" style="left:480.50px;top:316px;font-size:10px;line-height:11px;color:#1a1a1a;transform:scaleX(0.9134);transform-origin:left center;">my alias</span>
<svg class="i" style="left:518.7px;top:314.9px" width="13.5" height="13.5" viewBox="0 0 24 24" fill="#111" ><path d="M10 9h4V6h3l-5-5-5 5h3v3zm-1 1H6V7l-5 5 5 5v-3h3v-4zm14 2l-5-5v3h-3v4h3v3l5-5zm-9 3h-4v3H7l5 5 5-5h-3v-3z"/></svg>
<div class="chip" style="left:540.3px;top:309px;width:93.5px;height:24.5px"></div>
<div style="left:544.7px;top:316.1px;width:10.2px;height:10.2px;background:#ea3df2;border-radius:50%;"></div>
<span class="t" style="left:559.30px;top:316px;font-size:10px;line-height:11px;color:#1a1a1a;transform:scaleX(0.9647);transform-origin:left center;">BA:CONC.2</span>
<svg class="i" style="left:616px;top:314.9px" width="13.5" height="13.5" viewBox="0 0 24 24" fill="#111" ><path d="M10 9h4V6h3l-5-5-5 5h3v3zm-1 1H6V7l-5 5 5 5v-3h3v-4zm14 2l-5-5v3h-3v4h3v3l5-5zm-9 3h-4v3H7l5 5 5-5h-3v-3z"/></svg>
<div class="chip" style="left:461.5px;top:484.5px;width:93.5px;height:24.5px"></div>
<div style="left:465.9px;top:491.6px;width:10.2px;height:10.2px;background:#4a8522;border-radius:50%;"></div>
<span class="t" style="left:480.50px;top:492px;font-size:10px;line-height:11px;color:#1a1a1a;transform:scaleX(0.9703);transform-origin:left center;">BA:CONC.1</span>
<svg class="i" style="left:537.5px;top:490.4px" width="13.5" height="13.5" viewBox="0 0 24 24" fill="#111" ><path d="M10 9h4V6h3l-5-5-5 5h3v3zm-1 1H6V7l-5 5 5 5v-3h3v-4zm14 2l-5-5v3h-3v4h3v3l5-5zm-9 3h-4v3H7l5 5 5-5h-3v-3z"/></svg>
<div style="left:1257px;top:123px;width:38px;height:38px;background:#d5e0f1;border-radius:5px;"></div>
<div style="left:1260px;top:126px;width:34px;height:32px;background:#2860b4;border-radius:3px;"></div>
<svg class="i" style="left:1267.6px;top:133.7px" width="16.5" height="16.5" viewBox="0 0 24 24" fill="#fff" ><path d="M19.14 12.94c.04-.3.06-.61.06-.94 0-.32-.02-.64-.07-.94l2.03-1.58c.18-.14.23-.41.12-.61l-1.92-3.32c-.12-.22-.37-.29-.59-.22l-2.39.96c-.5-.38-1.03-.7-1.62-.94l-.36-2.54c-.04-.24-.24-.41-.48-.41h-3.84c-.24 0-.43.17-.47.41l-.36 2.54c-.59.24-1.13.57-1.62.94l-2.39-.96c-.22-.08-.47 0-.59.22L2.74 8.87c-.12.21-.08.47.12.61l2.03 1.58c-.05.3-.09.63-.09.94s.02.64.07.94l-2.03 1.58c-.18.14-.23.41-.12.61l1.92 3.32c.12.22.37.29.59.22l2.39-.96c.5.38 1.03.7 1.62.94l.36 2.54c.05.24.24.41.48.41h3.84c.24 0 .44-.17.47-.41l.36-2.54c.59-.24 1.13-.56 1.62-.94l2.39.96c.22.08.47 0 .59-.22l1.92-3.32c.12-.22.07-.47-.12-.61l-2.01-1.58zM12 15.6c-1.98 0-3.6-1.62-3.6-3.6s1.62-3.6 3.6-3.6 3.6 1.62 3.6 3.6-1.62 3.6-3.6 3.6z"/></svg>
<div class="btn" style="left:462px;top:679.5px;width:32px;height:31px;border-radius:4px"></div>
<svg class="i" style="left:0;top:0" width="1320" height="839" viewBox="0 0 1320 839" fill="none"><path d="M479.90 691.50L476.10 695.20L479.90 698.90" stroke="#333" stroke-width="1.4"/></svg>
<div class="btn" style="left:498.5px;top:679.5px;width:31px;height:31px;border-radius:4px"></div>
<svg class="i" style="left:506px;top:685.8px" width="16" height="17" viewBox="0 0 16 17" fill="none" stroke="#8f8f8f" stroke-width="1"><rect x="1.500" y="2.800" width="13" height="12.700" rx="1"/><path d="M1.500 6.300h13"/><circle cx="4.900" cy="2.300" r="1" fill="#fff"/><circle cx="11.100" cy="2.300" r="1" fill="#fff"/><rect x="9.3" y="10.3" width="3" height="3" fill="#8f8f8f" stroke="none"/></svg>
<div class="btn" style="left:534px;top:679.5px;width:33px;height:31px;border-radius:4px"></div>
<svg class="i" style="left:541.8px;top:687px" width="16" height="16" viewBox="0 0 16 16" fill="none" stroke="#8f8f8f" stroke-width="1"><circle cx="8" cy="8" r="6.8"/><path d="M8 3.6V8.3H11.4"/></svg>
<div class="btn" style="left:734px;top:679.5px;width:143.5px;height:31px;border-radius:4px"></div>
<svg class="i" style="left:742px;top:686px" width="18" height="18" viewBox="0 0 18 18" fill="none" stroke="#8f8f8f" stroke-width="1"><path d="M2 1.5V16.5H16.5"/><path d="M3.5 6.2C7 6.2 9 3.8 15.5 3"/><path d="M3.5 10C7 10 9 7.8 15.5 7"/><path d="M3.5 14C7 13.6 10 11.4 15.5 10.8"/></svg>
<span class="t" style="left:767.00px;top:686px;font-size:15px;line-height:17px;color:#222;transform:scaleX(0.9129);transform-origin:left center;">Stacked trend</span>
<svg class="i" style="left:0;top:0" width="1320" height="839" viewBox="0 0 1320 839" fill="none"><path d="M857.50 693.50L861.30 697.50L865.10 693.50" stroke="#888" stroke-width="1.1"/></svg>
<div class="btn" style="left:882px;top:679.5px;width:102px;height:31px;border-radius:4px"></div>
<div style="left:952.5px;top:681px;width:1px;height:29px;background:#dcdcdc;"></div>
<span class="t" style="left:895.50px;top:686px;font-size:15px;line-height:17px;color:#222;transform:scaleX(0.9094);transform-origin:left center;">8 hours</span>
<svg class="i" style="left:960px;top:686px" width="16" height="18" viewBox="0 0 16 18" fill="none" stroke="#444" stroke-width="1.300"><rect x="3" y="7.500" width="10" height="8" rx="1.200"/><path d="M10.700 7.500V4.700a2.700 2.700 0 0 0-5.400 0v.600"/><circle cx="8" cy="11.500" r="1.100" fill="#444" stroke="none"/></svg>
<div class="btn" style="left:988.5px;top:679.5px;width:31.5px;height:31px;border-radius:4px"></div>
<svg class="i" style="left:996px;top:687px" width="17" height="17" viewBox="0 0 24 24" fill="#333" ><path d="M13 3c-4.97 0-9 4.03-9 9H1l3.89 3.89.07.14L9 12H6c0-3.87 3.13-7 7-7s7 3.13 7 7-3.13 7-7 7c-1.93 0-3.68-.79-4.94-2.06l-1.42 1.42C8.27 19.99 10.51 21 13 21c4.97 0 9-4.03 9-9s-4.03-9-9-9zm-1 5v5l4.28 2.54.72-1.21-3.5-2.08V8H12z"/></svg>
<div class="btn" style="left:1186px;top:679.5px;width:31.5px;height:31px;border-radius:4px"></div>
<svg class="i" style="left:1193.8px;top:685.8px" width="16" height="17" viewBox="0 0 16 17" fill="none" stroke="#8f8f8f" stroke-width="1"><rect x="1.500" y="2.800" width="13" height="12.700" rx="1"/><path d="M1.500 6.300h13"/><circle cx="4.900" cy="2.300" r="1" fill="#fff"/><circle cx="11.100" cy="2.300" r="1" fill="#fff"/><rect x="9.3" y="10.3" width="3" height="3" fill="#8f8f8f" stroke="none"/></svg>
<div class="btn" style="left:1222px;top:679.5px;width:33px;height:31px;border-radius:4px"></div>
<svg class="i" style="left:1229.7px;top:687px" width="16" height="16" viewBox="0 0 16 16" fill="none" stroke="#8f8f8f" stroke-width="1"><circle cx="8" cy="8" r="6.8"/><path d="M8 3.6V8.3H11.4"/></svg>
<div class="btn" style="left:1260px;top:679.5px;width:32px;height:31px;border-radius:4px"></div>
<svg class="i" style="left:0;top:0" width="1320" height="839" viewBox="0 0 1320 839" fill="none"><path d="M1274.10 691.50L1277.90 695.20L1274.10 698.90" stroke="#333" stroke-width="1.4"/></svg>
<div style="left:462px;top:787px;width:244px;height:24px;background:#fff;border:1px solid #dcdcdc;border-radius:3px;"></div>
<div style="left:601px;top:788px;width:35px;height:22px;background:#f0f5fb;"></div>
<div style="left:495px;top:788px;width:1px;height:22px;background:#dcdcdc;"></div>
<div style="left:531px;top:788px;width:1px;height:22px;background:#dcdcdc;"></div>
<div style="left:565.7px;top:788px;width:1px;height:22px;background:#dcdcdc;"></div>
<div style="left:601px;top:788px;width:1px;height:22px;background:#dcdcdc;"></div>
<div style="left:636px;top:788px;width:1px;height:22px;background:#dcdcdc;"></div>
<div style="left:668px;top:788px;width:1px;height:22px;background:#dcdcdc;"></div>
<span class="t" style="left:470.94px;top:791px;font-size:13px;line-height:15px;color:#222;transform:scaleX(0.8424);transform-origin:center center;">1D</span>
<span class="t" style="left:503.75px;top:791px;font-size:13px;line-height:15px;color:#222;transform:scaleX(0.9231);transform-origin:center center;">1W</span>
<span class="t" style="left:539.82px;top:791px;font-size:13px;line-height:15px;color:#222;transform:scaleX(0.9136);transform-origin:center center;">1M</span>
<span class="t" style="left:574.82px;top:791px;font-size:13px;line-height:15px;color:#222;transform:scaleX(0.9413);transform-origin:center center;">3M</span>
<span class="t" style="left:609.97px;top:791px;font-size:13px;line-height:15px;color:#2860b4;transform:scaleX(0.9413);transform-origin:center center;">6M</span>
<span class="t" style="left:644.55px;top:791px;font-size:13px;line-height:15px;color:#222;transform:scaleX(0.8490);transform-origin:center center;">1Y</span>
<span class="t" style="left:675.68px;top:791px;font-size:13px;line-height:15px;color:#222;transform:scaleX(0.8646);transform-origin:center center;">ALL</span>
<div style="left:722px;top:787px;width:103px;height:24px;background:#fff;border:1px solid #dcdcdc;border-radius:3px;"></div>
<div style="left:801px;top:788px;width:1px;height:22px;background:#dcdcdc;"></div>
<span class="t" style="left:731.50px;top:791px;font-size:13px;line-height:15px;color:#222;transform:scaleX(0.8824);transform-origin:left center;">CUSTOM</span>
<svg class="i" style="left:0;top:0" width="1320" height="839" viewBox="0 0 1320 839" fill="none"><path d="M788.20 797.45L791.80 801.35L795.40 797.45" stroke="#777" stroke-width="1.1"/></svg>
<svg class="i" style="left:806.800px;top:794px" width="12" height="10.500" viewBox="0 0 12 10.500" fill="#7a7a7a"><rect x=".65" y=".65" width="10.700" height="9.200" rx="1.300" fill="none" stroke="#7a7a7a" stroke-width="1.300"/><path d="M1 1h3.800L1 4.400zM11 1v3.400L7.200 1zM1 9.500V6.100l3.800 3.400zM11 9.500H7.200L11 6.100z"/></svg>
<div style="left:389px;top:427px;width:13.5px;height:52px;background:#fff;border:1px solid #dcdcdc;border-right:none;border-radius:4px 0 0 4px;"></div>
<div style="left:390px;top:463px;width:12.5px;height:1px;background:#dcdcdc;"></div>
<div style="left:394.8px;top:434px;width:1px;height:21px;background:#8a8a8a;"></div>
<div style="left:398.4px;top:434px;width:1px;height:21px;background:#8a8a8a;"></div>
<svg class="i" style="left:393.400px;top:468px" width="6" height="6" viewBox="0 0 6 6" fill="none" stroke="#777" stroke-width=".9"><path d="M.7.700l4.600 4.600M5.300.700L.7 5.300"/></svg>
<div class="pb" style="left:402px;top:115px;width:893px;height:560px"></div>
<div class="pb" style="left:402px;top:677px;width:893px;height:38px"></div>
<div class="pb" style="left:402px;top:717px;width:893px;height:98px"></div>
<div class="pl" style="left:303px;top:126px;width:94px;height:28px"></div>
<span class="t" style="left:311.00px;top:132px;font-size:14px;line-height:16px;color:#fff;transform:scaleX(1.0528);transform-origin:left center;-webkit-text-stroke:0.3px #fff;">Focus chart</span>
<div class="pl" style="left:245px;top:688px;width:152px;height:28px"></div>
<span class="t" style="left:253.50px;top:694px;font-size:14px;line-height:16px;color:#fff;transform:scaleX(1.0670);transform-origin:left center;-webkit-text-stroke:0.3px #fff;">Focus chart controls</span>
<div class="pl" style="left:231px;top:728px;width:166px;height:28px"></div>
<span class="t" style="left:239.50px;top:734px;font-size:14px;line-height:16px;color:#fff;transform:scaleX(1.0661);transform-origin:left center;-webkit-text-stroke:0.3px #fff;">Context chart &amp; period</span>
</body></html>
